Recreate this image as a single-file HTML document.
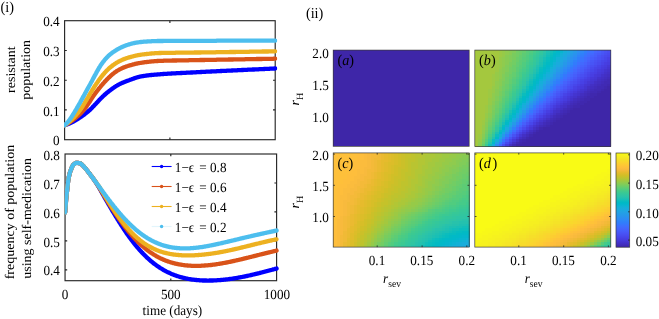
<!DOCTYPE html>
<html><head><meta charset="utf-8"><title>figure</title>
<style>html,body{margin:0;padding:0;background:#fff}svg{display:block}</style></head>
<body>
<svg width="659" height="319" viewBox="0 0 659 319" style="display:block;will-change:transform;font-family:'Liberation Serif',serif;font-size:14.0px" fill="#000" text-rendering="geometricPrecision">
<rect width="659" height="319" fill="#fff"/>
<g fill="none" stroke="#262626" stroke-width="1.15">
<rect x="64.6" y="20.7" width="210.6" height="119.0"/>
<rect x="65.05" y="154.0" width="211.55" height="126.7"/>
<path d="M64.6,109.9h2.2 M275.2,109.9h-2.2 M64.6,80.2h2.2 M275.2,80.2h-2.2 M64.6,50.5h2.2 M275.2,50.5h-2.2 M169.9,139.7v-2.2 M169.9,20.7v2.2 M170.8,280.7v-2.2 M170.8,154.0v2.2 M65.0,269.8h2.2 M276.6,269.8h-2.2 M65.0,240.9h2.2 M276.6,240.9h-2.2 M65.0,211.9h2.2 M276.6,211.9h-2.2 M65.0,183.0h2.2 M276.6,183.0h-2.2"/>
</g>
<defs><clipPath id="c1"><rect x="64.0" y="20.7" width="213.4" height="119.0"/></clipPath><clipPath id="c2"><rect x="64.5" y="154.0" width="214.4" height="130.7"/></clipPath></defs>
<g fill="none" stroke-linecap="round" stroke-linejoin="round" stroke-width="4.3">
<g clip-path="url(#c1)">
<path d="M64.6,125.2 L64.8,125.2 L65.0,125.1 L65.2,125.0 L65.4,125.0 L65.7,124.9 L65.9,124.8 L66.1,124.8 L66.3,124.7 L66.5,124.6 L66.7,124.6 L66.9,124.5 L67.1,124.4 L67.3,124.3 L67.5,124.3 L67.8,124.2 L68.0,124.1 L68.2,124.0 L68.4,123.9 L68.6,123.9 L68.8,123.8 L69.0,123.7 L69.2,123.6 L69.4,123.5 L69.7,123.4 L69.9,123.3 L70.1,123.2 L70.3,123.1 L70.5,123.0 L70.7,122.9 L70.9,122.8 L71.1,122.7 L71.3,122.6 L71.5,122.5 L71.8,122.4 L72.0,122.3 L72.2,122.2 L72.4,122.1 L72.6,122.0 L72.8,121.9 L73.0,121.7 L73.2,121.6 L73.4,121.5 L73.7,121.4 L73.9,121.3 L74.1,121.2 L74.3,121.0 L74.5,120.9 L74.7,120.8 L74.9,120.7 L75.1,120.5 L75.3,120.4 L75.6,120.3 L75.8,120.2 L76.0,120.0 L76.2,119.9 L76.4,119.8 L76.6,119.6 L76.8,119.5 L77.0,119.4 L77.2,119.3 L77.9,118.9 L78.5,118.5 L79.1,118.1 L79.8,117.6 L80.4,117.2 L81.0,116.8 L81.7,116.4 L82.3,115.9 L82.9,115.5 L83.6,115.0 L84.2,114.6 L84.8,114.1 L85.4,113.6 L86.1,113.1 L86.7,112.6 L87.3,112.1 L88.0,111.5 L88.6,111.0 L89.2,110.4 L89.9,109.9 L90.5,109.3 L91.1,108.7 L91.8,108.0 L92.4,107.4 L93.0,106.7 L93.7,106.1 L94.3,105.4 L94.9,104.7 L95.6,104.0 L96.2,103.4 L96.8,102.7 L97.5,102.0 L98.1,101.3 L98.7,100.7 L99.3,100.0 L100.0,99.3 L100.6,98.7 L101.2,98.1 L101.9,97.4 L102.5,96.8 L103.1,96.2 L103.8,95.6 L104.4,95.0 L105.0,94.5 L105.7,93.9 L106.3,93.4 L106.9,92.8 L107.6,92.3 L108.2,91.8 L108.8,91.3 L109.5,90.8 L110.1,90.3 L110.7,89.8 L111.4,89.4 L112.0,88.9 L112.6,88.5 L113.2,88.0 L113.9,87.6 L114.5,87.1 L115.1,86.7 L115.8,86.3 L116.4,85.9 L117.0,85.6 L117.7,85.2 L118.3,84.8 L118.9,84.5 L119.6,84.1 L120.2,83.8 L120.8,83.5 L121.5,83.2 L122.1,82.9 L122.7,82.7 L123.4,82.4 L124.0,82.2 L124.6,81.9 L125.3,81.7 L125.9,81.4 L126.5,81.2 L127.1,80.9 L127.8,80.7 L128.4,80.5 L129.0,80.2 L129.7,80.0 L130.3,79.8 L130.9,79.5 L131.6,79.3 L132.2,79.1 L132.8,78.8 L133.5,78.6 L134.1,78.4 L134.7,78.1 L135.4,77.9 L136.0,77.7 L136.6,77.5 L137.3,77.3 L137.9,77.2 L138.5,77.0 L139.2,76.8 L139.8,76.7 L140.4,76.5 L141.0,76.4 L141.7,76.3 L142.3,76.2 L142.9,76.1 L143.6,76.0 L144.2,75.9 L144.8,75.8 L145.5,75.7 L146.1,75.6 L146.7,75.5 L147.4,75.4 L148.0,75.4 L148.6,75.3 L149.3,75.2 L149.9,75.2 L150.5,75.1 L151.2,75.0 L151.8,75.0 L152.4,74.9 L153.1,74.8 L153.7,74.8 L154.3,74.7 L154.9,74.7 L155.6,74.6 L156.2,74.6 L156.8,74.5 L157.5,74.5 L158.1,74.4 L158.7,74.4 L159.4,74.3 L160.0,74.3 L160.6,74.2 L161.3,74.2 L161.9,74.1 L162.5,74.1 L163.2,74.0 L163.8,74.0 L164.4,73.9 L165.1,73.9 L165.7,73.9 L166.3,73.8 L167.0,73.8 L167.6,73.7 L168.2,73.7 L168.8,73.7 L169.5,73.6 L170.1,73.6 L170.7,73.6 L171.4,73.5 L172.0,73.5 L172.6,73.4 L173.3,73.4 L173.9,73.4 L174.5,73.3 L175.2,73.3 L175.8,73.3 L176.4,73.2 L177.1,73.2 L177.7,73.2 L178.3,73.2 L179.0,73.1 L179.6,73.1 L180.2,73.1 L180.9,73.0 L181.5,73.0 L182.1,73.0 L182.7,72.9 L183.4,72.9 L184.0,72.9 L184.6,72.8 L185.3,72.8 L185.9,72.8 L186.5,72.7 L187.2,72.7 L187.8,72.7 L188.4,72.7 L189.1,72.6 L189.7,72.6 L190.3,72.6 L191.0,72.5 L191.6,72.5 L192.2,72.5 L192.9,72.4 L193.5,72.4 L194.1,72.4 L194.8,72.3 L195.4,72.3 L196.0,72.3 L196.6,72.2 L197.3,72.2 L197.9,72.2 L198.5,72.1 L199.2,72.1 L199.8,72.1 L200.4,72.0 L201.1,72.0 L201.7,72.0 L202.3,71.9 L203.0,71.9 L203.6,71.9 L204.2,71.8 L204.9,71.8 L205.5,71.8 L206.1,71.7 L206.8,71.7 L207.4,71.7 L208.0,71.7 L208.7,71.6 L209.3,71.6 L209.9,71.6 L210.5,71.5 L211.2,71.5 L211.8,71.5 L212.4,71.4 L213.1,71.4 L213.7,71.4 L214.3,71.3 L215.0,71.3 L215.6,71.3 L216.2,71.3 L216.9,71.2 L217.5,71.2 L218.1,71.2 L218.8,71.1 L219.4,71.1 L220.0,71.1 L220.7,71.0 L221.3,71.0 L221.9,71.0 L222.5,70.9 L223.2,70.9 L223.8,70.9 L224.4,70.9 L225.1,70.8 L225.7,70.8 L226.3,70.8 L227.0,70.7 L227.6,70.7 L228.2,70.7 L228.9,70.6 L229.5,70.6 L230.1,70.6 L230.8,70.6 L231.4,70.5 L232.0,70.5 L232.7,70.5 L233.3,70.4 L233.9,70.4 L234.6,70.4 L235.2,70.3 L235.8,70.3 L236.4,70.3 L237.1,70.3 L237.7,70.2 L238.3,70.2 L239.0,70.2 L239.6,70.1 L240.2,70.1 L240.9,70.1 L241.5,70.0 L242.1,70.0 L242.8,70.0 L243.4,70.0 L244.0,69.9 L244.7,69.9 L245.3,69.9 L245.9,69.8 L246.6,69.8 L247.2,69.8 L247.8,69.7 L248.5,69.7 L249.1,69.7 L249.7,69.7 L250.3,69.6 L251.0,69.6 L251.6,69.6 L252.2,69.5 L252.9,69.5 L253.5,69.5 L254.1,69.5 L254.8,69.4 L255.4,69.4 L256.0,69.4 L256.7,69.3 L257.3,69.3 L257.9,69.3 L258.6,69.3 L259.2,69.2 L259.8,69.2 L260.5,69.2 L261.1,69.1 L261.7,69.1 L262.4,69.1 L263.0,69.1 L263.6,69.0 L264.2,69.0 L264.9,69.0 L265.5,68.9 L266.1,68.9 L266.8,68.9 L267.4,68.9 L268.0,68.8 L268.7,68.8 L269.3,68.8 L269.9,68.7 L270.6,68.7 L271.2,68.7 L271.8,68.7 L272.5,68.6 L273.1,68.6 L273.7,68.6 L274.4,68.5 L275.0,68.5 L275.2,68.5" stroke="#0000ff"/>
<path d="M64.6,125.2 L64.8,125.1 L65.0,125.0 L65.2,124.9 L65.4,124.8 L65.7,124.7 L65.9,124.5 L66.1,124.4 L66.3,124.3 L66.5,124.2 L66.7,124.1 L66.9,124.0 L67.1,123.8 L67.3,123.7 L67.5,123.6 L67.8,123.5 L68.0,123.4 L68.2,123.2 L68.4,123.1 L68.6,123.0 L68.8,122.8 L69.0,122.7 L69.2,122.6 L69.4,122.4 L69.7,122.3 L69.9,122.1 L70.1,122.0 L70.3,121.8 L70.5,121.7 L70.7,121.6 L70.9,121.4 L71.1,121.3 L71.3,121.1 L71.5,121.0 L71.8,120.8 L72.0,120.7 L72.2,120.5 L72.4,120.4 L72.6,120.2 L72.8,120.1 L73.0,119.9 L73.2,119.7 L73.4,119.6 L73.7,119.4 L73.9,119.3 L74.1,119.1 L74.3,118.9 L74.5,118.8 L74.7,118.6 L74.9,118.4 L75.1,118.3 L75.3,118.1 L75.6,117.9 L75.8,117.8 L76.0,117.6 L76.2,117.4 L76.4,117.2 L76.6,117.1 L76.8,116.9 L77.0,116.7 L77.2,116.5 L77.9,116.0 L78.5,115.4 L79.1,114.9 L79.8,114.3 L80.4,113.7 L81.0,113.0 L81.7,112.4 L82.3,111.7 L82.9,111.0 L83.6,110.3 L84.2,109.5 L84.8,108.7 L85.4,107.9 L86.1,107.1 L86.7,106.2 L87.3,105.2 L88.0,104.3 L88.6,103.3 L89.2,102.4 L89.9,101.4 L90.5,100.4 L91.1,99.4 L91.8,98.5 L92.4,97.5 L93.0,96.6 L93.7,95.6 L94.3,94.7 L94.9,93.9 L95.6,93.0 L96.2,92.1 L96.8,91.3 L97.5,90.5 L98.1,89.7 L98.7,88.9 L99.3,88.1 L100.0,87.3 L100.6,86.6 L101.2,85.8 L101.9,85.1 L102.5,84.4 L103.1,83.6 L103.8,82.9 L104.4,82.2 L105.0,81.5 L105.7,80.9 L106.3,80.2 L106.9,79.5 L107.6,78.9 L108.2,78.2 L108.8,77.6 L109.5,77.0 L110.1,76.4 L110.7,75.8 L111.4,75.3 L112.0,74.7 L112.6,74.2 L113.2,73.7 L113.9,73.2 L114.5,72.7 L115.1,72.2 L115.8,71.8 L116.4,71.3 L117.0,70.9 L117.7,70.5 L118.3,70.1 L118.9,69.8 L119.6,69.4 L120.2,69.1 L120.8,68.8 L121.5,68.5 L122.1,68.2 L122.7,67.9 L123.4,67.6 L124.0,67.4 L124.6,67.1 L125.3,66.9 L125.9,66.7 L126.5,66.4 L127.1,66.2 L127.8,66.0 L128.4,65.8 L129.0,65.6 L129.7,65.4 L130.3,65.2 L130.9,65.1 L131.6,64.9 L132.2,64.7 L132.8,64.5 L133.5,64.4 L134.1,64.2 L134.7,64.0 L135.4,63.9 L136.0,63.7 L136.6,63.6 L137.3,63.5 L137.9,63.3 L138.5,63.2 L139.2,63.1 L139.8,63.0 L140.4,62.9 L141.0,62.8 L141.7,62.7 L142.3,62.6 L142.9,62.5 L143.6,62.4 L144.2,62.3 L144.8,62.2 L145.5,62.1 L146.1,62.1 L146.7,62.0 L147.4,61.9 L148.0,61.8 L148.6,61.8 L149.3,61.7 L149.9,61.6 L150.5,61.6 L151.2,61.5 L151.8,61.4 L152.4,61.4 L153.1,61.3 L153.7,61.3 L154.3,61.2 L154.9,61.2 L155.6,61.1 L156.2,61.1 L156.8,61.0 L157.5,61.0 L158.1,61.0 L158.7,60.9 L159.4,60.9 L160.0,60.9 L160.6,60.9 L161.3,60.8 L161.9,60.8 L162.5,60.8 L163.2,60.8 L163.8,60.7 L164.4,60.7 L165.1,60.7 L165.7,60.7 L166.3,60.7 L167.0,60.7 L167.6,60.6 L168.2,60.6 L168.8,60.6 L169.5,60.6 L170.1,60.6 L170.7,60.6 L171.4,60.6 L172.0,60.5 L172.6,60.5 L173.3,60.5 L173.9,60.5 L174.5,60.5 L175.2,60.5 L175.8,60.5 L176.4,60.5 L177.1,60.4 L177.7,60.4 L178.3,60.4 L179.0,60.4 L179.6,60.4 L180.2,60.4 L180.9,60.4 L181.5,60.4 L182.1,60.4 L182.7,60.3 L183.4,60.3 L184.0,60.3 L184.6,60.3 L185.3,60.3 L185.9,60.3 L186.5,60.3 L187.2,60.3 L187.8,60.3 L188.4,60.3 L189.1,60.2 L189.7,60.2 L190.3,60.2 L191.0,60.2 L191.6,60.2 L192.2,60.2 L192.9,60.2 L193.5,60.2 L194.1,60.1 L194.8,60.1 L195.4,60.1 L196.0,60.1 L196.6,60.1 L197.3,60.1 L197.9,60.1 L198.5,60.1 L199.2,60.1 L199.8,60.0 L200.4,60.0 L201.1,60.0 L201.7,60.0 L202.3,60.0 L203.0,60.0 L203.6,60.0 L204.2,60.0 L204.9,60.0 L205.5,59.9 L206.1,59.9 L206.8,59.9 L207.4,59.9 L208.0,59.9 L208.7,59.9 L209.3,59.9 L209.9,59.9 L210.5,59.9 L211.2,59.8 L211.8,59.8 L212.4,59.8 L213.1,59.8 L213.7,59.8 L214.3,59.8 L215.0,59.8 L215.6,59.8 L216.2,59.8 L216.9,59.7 L217.5,59.7 L218.1,59.7 L218.8,59.7 L219.4,59.7 L220.0,59.7 L220.7,59.7 L221.3,59.7 L221.9,59.7 L222.5,59.6 L223.2,59.6 L223.8,59.6 L224.4,59.6 L225.1,59.6 L225.7,59.6 L226.3,59.6 L227.0,59.6 L227.6,59.6 L228.2,59.5 L228.9,59.5 L229.5,59.5 L230.1,59.5 L230.8,59.5 L231.4,59.5 L232.0,59.5 L232.7,59.5 L233.3,59.5 L233.9,59.4 L234.6,59.4 L235.2,59.4 L235.8,59.4 L236.4,59.4 L237.1,59.4 L237.7,59.4 L238.3,59.4 L239.0,59.4 L239.6,59.3 L240.2,59.3 L240.9,59.3 L241.5,59.3 L242.1,59.3 L242.8,59.3 L243.4,59.3 L244.0,59.3 L244.7,59.3 L245.3,59.2 L245.9,59.2 L246.6,59.2 L247.2,59.2 L247.8,59.2 L248.5,59.2 L249.1,59.2 L249.7,59.2 L250.3,59.2 L251.0,59.1 L251.6,59.1 L252.2,59.1 L252.9,59.1 L253.5,59.1 L254.1,59.1 L254.8,59.1 L255.4,59.1 L256.0,59.1 L256.7,59.0 L257.3,59.0 L257.9,59.0 L258.6,59.0 L259.2,59.0 L259.8,59.0 L260.5,59.0 L261.1,59.0 L261.7,59.0 L262.4,58.9 L263.0,58.9 L263.6,58.9 L264.2,58.9 L264.9,58.9 L265.5,58.9 L266.1,58.9 L266.8,58.9 L267.4,58.9 L268.0,58.8 L268.7,58.8 L269.3,58.8 L269.9,58.8 L270.6,58.8 L271.2,58.8 L271.8,58.8 L272.5,58.8 L273.1,58.8 L273.7,58.7 L274.4,58.7 L275.0,58.7 L275.2,58.7" stroke="#d95319"/>
<path d="M64.6,125.2 L64.8,125.1 L65.0,124.9 L65.2,124.8 L65.4,124.7 L65.7,124.5 L65.9,124.4 L66.1,124.2 L66.3,124.1 L66.5,123.9 L66.7,123.8 L66.9,123.6 L67.1,123.5 L67.3,123.3 L67.5,123.1 L67.8,123.0 L68.0,122.8 L68.2,122.7 L68.4,122.5 L68.6,122.3 L68.8,122.1 L69.0,122.0 L69.2,121.8 L69.4,121.6 L69.7,121.4 L69.9,121.2 L70.1,121.0 L70.3,120.9 L70.5,120.7 L70.7,120.5 L70.9,120.3 L71.1,120.1 L71.3,119.9 L71.5,119.7 L71.8,119.5 L72.0,119.3 L72.2,119.1 L72.4,118.9 L72.6,118.7 L72.8,118.5 L73.0,118.3 L73.2,118.1 L73.4,117.8 L73.7,117.6 L73.9,117.4 L74.1,117.2 L74.3,117.0 L74.5,116.7 L74.7,116.5 L74.9,116.3 L75.1,116.1 L75.3,115.8 L75.6,115.6 L75.8,115.4 L76.0,115.1 L76.2,114.9 L76.4,114.6 L76.6,114.4 L76.8,114.1 L77.0,113.9 L77.2,113.6 L77.9,112.9 L78.5,112.1 L79.1,111.3 L79.8,110.4 L80.4,109.6 L81.0,108.7 L81.7,107.7 L82.3,106.8 L82.9,105.8 L83.6,104.8 L84.2,103.7 L84.8,102.7 L85.4,101.6 L86.1,100.5 L86.7,99.4 L87.3,98.4 L88.0,97.3 L88.6,96.2 L89.2,95.1 L89.9,94.1 L90.5,93.0 L91.1,92.0 L91.8,91.0 L92.4,89.9 L93.0,88.9 L93.7,87.9 L94.3,86.9 L94.9,85.9 L95.6,85.0 L96.2,84.0 L96.8,83.1 L97.5,82.2 L98.1,81.3 L98.7,80.4 L99.3,79.5 L100.0,78.6 L100.6,77.8 L101.2,77.0 L101.9,76.2 L102.5,75.4 L103.1,74.6 L103.8,73.9 L104.4,73.1 L105.0,72.4 L105.7,71.7 L106.3,71.1 L106.9,70.4 L107.6,69.8 L108.2,69.2 L108.8,68.6 L109.5,68.1 L110.1,67.5 L110.7,67.0 L111.4,66.5 L112.0,66.0 L112.6,65.5 L113.2,65.0 L113.9,64.6 L114.5,64.1 L115.1,63.7 L115.8,63.3 L116.4,62.9 L117.0,62.5 L117.7,62.1 L118.3,61.8 L118.9,61.4 L119.6,61.1 L120.2,60.8 L120.8,60.5 L121.5,60.2 L122.1,59.9 L122.7,59.6 L123.4,59.4 L124.0,59.1 L124.6,58.9 L125.3,58.7 L125.9,58.4 L126.5,58.2 L127.1,58.0 L127.8,57.8 L128.4,57.6 L129.0,57.4 L129.7,57.2 L130.3,57.1 L130.9,56.9 L131.6,56.7 L132.2,56.5 L132.8,56.4 L133.5,56.2 L134.1,56.0 L134.7,55.9 L135.4,55.7 L136.0,55.6 L136.6,55.5 L137.3,55.3 L137.9,55.2 L138.5,55.1 L139.2,55.0 L139.8,54.9 L140.4,54.8 L141.0,54.7 L141.7,54.6 L142.3,54.5 L142.9,54.4 L143.6,54.3 L144.2,54.3 L144.8,54.2 L145.5,54.1 L146.1,54.0 L146.7,54.0 L147.4,53.9 L148.0,53.8 L148.6,53.8 L149.3,53.7 L149.9,53.6 L150.5,53.6 L151.2,53.5 L151.8,53.5 L152.4,53.4 L153.1,53.4 L153.7,53.3 L154.3,53.3 L154.9,53.2 L155.6,53.2 L156.2,53.2 L156.8,53.1 L157.5,53.1 L158.1,53.1 L158.7,53.0 L159.4,53.0 L160.0,53.0 L160.6,53.0 L161.3,53.0 L161.9,52.9 L162.5,52.9 L163.2,52.9 L163.8,52.9 L164.4,52.9 L165.1,52.9 L165.7,52.9 L166.3,52.9 L167.0,52.9 L167.6,52.8 L168.2,52.8 L168.8,52.8 L169.5,52.8 L170.1,52.8 L170.7,52.8 L171.4,52.8 L172.0,52.8 L172.6,52.8 L173.3,52.8 L173.9,52.8 L174.5,52.8 L175.2,52.8 L175.8,52.7 L176.4,52.7 L177.1,52.7 L177.7,52.7 L178.3,52.7 L179.0,52.7 L179.6,52.7 L180.2,52.7 L180.9,52.7 L181.5,52.7 L182.1,52.7 L182.7,52.7 L183.4,52.7 L184.0,52.7 L184.6,52.7 L185.3,52.7 L185.9,52.6 L186.5,52.6 L187.2,52.6 L187.8,52.6 L188.4,52.6 L189.1,52.6 L189.7,52.6 L190.3,52.6 L191.0,52.6 L191.6,52.6 L192.2,52.6 L192.9,52.6 L193.5,52.6 L194.1,52.5 L194.8,52.5 L195.4,52.5 L196.0,52.5 L196.6,52.5 L197.3,52.5 L197.9,52.5 L198.5,52.5 L199.2,52.5 L199.8,52.5 L200.4,52.5 L201.1,52.5 L201.7,52.4 L202.3,52.4 L203.0,52.4 L203.6,52.4 L204.2,52.4 L204.9,52.4 L205.5,52.4 L206.1,52.4 L206.8,52.4 L207.4,52.4 L208.0,52.4 L208.7,52.4 L209.3,52.3 L209.9,52.3 L210.5,52.3 L211.2,52.3 L211.8,52.3 L212.4,52.3 L213.1,52.3 L213.7,52.3 L214.3,52.3 L215.0,52.3 L215.6,52.3 L216.2,52.2 L216.9,52.2 L217.5,52.2 L218.1,52.2 L218.8,52.2 L219.4,52.2 L220.0,52.2 L220.7,52.2 L221.3,52.2 L221.9,52.2 L222.5,52.2 L223.2,52.1 L223.8,52.1 L224.4,52.1 L225.1,52.1 L225.7,52.1 L226.3,52.1 L227.0,52.1 L227.6,52.1 L228.2,52.1 L228.9,52.1 L229.5,52.0 L230.1,52.0 L230.8,52.0 L231.4,52.0 L232.0,52.0 L232.7,52.0 L233.3,52.0 L233.9,52.0 L234.6,52.0 L235.2,52.0 L235.8,52.0 L236.4,51.9 L237.1,51.9 L237.7,51.9 L238.3,51.9 L239.0,51.9 L239.6,51.9 L240.2,51.9 L240.9,51.9 L241.5,51.9 L242.1,51.9 L242.8,51.9 L243.4,51.8 L244.0,51.8 L244.7,51.8 L245.3,51.8 L245.9,51.8 L246.6,51.8 L247.2,51.8 L247.8,51.8 L248.5,51.8 L249.1,51.8 L249.7,51.7 L250.3,51.7 L251.0,51.7 L251.6,51.7 L252.2,51.7 L252.9,51.7 L253.5,51.7 L254.1,51.7 L254.8,51.7 L255.4,51.7 L256.0,51.6 L256.7,51.6 L257.3,51.6 L257.9,51.6 L258.6,51.6 L259.2,51.6 L259.8,51.6 L260.5,51.6 L261.1,51.6 L261.7,51.6 L262.4,51.5 L263.0,51.5 L263.6,51.5 L264.2,51.5 L264.9,51.5 L265.5,51.5 L266.1,51.5 L266.8,51.5 L267.4,51.5 L268.0,51.5 L268.7,51.4 L269.3,51.4 L269.9,51.4 L270.6,51.4 L271.2,51.4 L271.8,51.4 L272.5,51.4 L273.1,51.4 L273.7,51.4 L274.4,51.4 L275.0,51.3 L275.2,51.3" stroke="#edb120"/>
<path d="M64.6,125.2 L64.8,125.0 L65.0,124.8 L65.2,124.6 L65.4,124.4 L65.7,124.2 L65.9,124.0 L66.1,123.8 L66.3,123.6 L66.5,123.4 L66.7,123.2 L66.9,123.0 L67.1,122.7 L67.3,122.5 L67.5,122.3 L67.8,122.0 L68.0,121.8 L68.2,121.5 L68.4,121.3 L68.6,121.0 L68.8,120.8 L69.0,120.5 L69.2,120.2 L69.4,120.0 L69.7,119.7 L69.9,119.4 L70.1,119.1 L70.3,118.8 L70.5,118.5 L70.7,118.2 L70.9,117.9 L71.1,117.6 L71.3,117.3 L71.5,117.0 L71.8,116.7 L72.0,116.3 L72.2,116.0 L72.4,115.7 L72.6,115.3 L72.8,115.0 L73.0,114.6 L73.2,114.3 L73.4,114.0 L73.7,113.6 L73.9,113.3 L74.1,112.9 L74.3,112.6 L74.5,112.2 L74.7,111.9 L74.9,111.5 L75.1,111.2 L75.3,110.8 L75.6,110.4 L75.8,110.1 L76.0,109.7 L76.2,109.4 L76.4,109.0 L76.6,108.6 L76.8,108.3 L77.0,107.9 L77.2,107.5 L77.9,106.4 L78.5,105.3 L79.1,104.2 L79.8,103.1 L80.4,102.0 L81.0,100.8 L81.7,99.7 L82.3,98.5 L82.9,97.4 L83.6,96.2 L84.2,95.1 L84.8,94.0 L85.4,92.8 L86.1,91.7 L86.7,90.5 L87.3,89.4 L88.0,88.2 L88.6,87.1 L89.2,85.9 L89.9,84.8 L90.5,83.6 L91.1,82.4 L91.8,81.3 L92.4,80.1 L93.0,78.9 L93.7,77.7 L94.3,76.5 L94.9,75.3 L95.6,74.1 L96.2,73.0 L96.8,71.8 L97.5,70.7 L98.1,69.6 L98.7,68.5 L99.3,67.4 L100.0,66.4 L100.6,65.4 L101.2,64.5 L101.9,63.6 L102.5,62.7 L103.1,61.9 L103.8,61.1 L104.4,60.3 L105.0,59.5 L105.7,58.8 L106.3,58.1 L106.9,57.4 L107.6,56.8 L108.2,56.1 L108.8,55.5 L109.5,55.0 L110.1,54.4 L110.7,53.9 L111.4,53.4 L112.0,52.9 L112.6,52.5 L113.2,52.0 L113.9,51.6 L114.5,51.2 L115.1,50.8 L115.8,50.4 L116.4,50.0 L117.0,49.6 L117.7,49.3 L118.3,48.9 L118.9,48.6 L119.6,48.3 L120.2,47.9 L120.8,47.6 L121.5,47.3 L122.1,47.0 L122.7,46.7 L123.4,46.4 L124.0,46.2 L124.6,45.9 L125.3,45.7 L125.9,45.4 L126.5,45.2 L127.1,45.0 L127.8,44.8 L128.4,44.6 L129.0,44.4 L129.7,44.2 L130.3,44.0 L130.9,43.8 L131.6,43.7 L132.2,43.5 L132.8,43.3 L133.5,43.2 L134.1,43.1 L134.7,42.9 L135.4,42.8 L136.0,42.7 L136.6,42.6 L137.3,42.5 L137.9,42.4 L138.5,42.3 L139.2,42.2 L139.8,42.1 L140.4,42.0 L141.0,42.0 L141.7,41.9 L142.3,41.8 L142.9,41.8 L143.6,41.7 L144.2,41.7 L144.8,41.6 L145.5,41.6 L146.1,41.6 L146.7,41.5 L147.4,41.5 L148.0,41.4 L148.6,41.4 L149.3,41.4 L149.9,41.3 L150.5,41.3 L151.2,41.3 L151.8,41.2 L152.4,41.2 L153.1,41.2 L153.7,41.2 L154.3,41.1 L154.9,41.1 L155.6,41.1 L156.2,41.1 L156.8,41.1 L157.5,41.0 L158.1,41.0 L158.7,41.0 L159.4,41.0 L160.0,41.0 L160.6,41.0 L161.3,41.0 L161.9,41.0 L162.5,41.0 L163.2,41.0 L163.8,40.9 L164.4,40.9 L165.1,40.9 L165.7,40.9 L166.3,40.9 L167.0,40.9 L167.6,40.9 L168.2,40.9 L168.8,40.9 L169.5,40.9 L170.1,40.9 L170.7,40.9 L171.4,40.9 L172.0,40.9 L172.6,40.9 L173.3,40.9 L173.9,40.9 L174.5,40.9 L175.2,40.8 L175.8,40.8 L176.4,40.8 L177.1,40.8 L177.7,40.8 L178.3,40.8 L179.0,40.8 L179.6,40.8 L180.2,40.8 L180.9,40.8 L181.5,40.8 L182.1,40.8 L182.7,40.8 L183.4,40.8 L184.0,40.8 L184.6,40.8 L185.3,40.8 L185.9,40.8 L186.5,40.8 L187.2,40.8 L187.8,40.8 L188.4,40.8 L189.1,40.8 L189.7,40.8 L190.3,40.8 L191.0,40.8 L191.6,40.8 L192.2,40.8 L192.9,40.8 L193.5,40.8 L194.1,40.8 L194.8,40.8 L195.4,40.8 L196.0,40.8 L196.6,40.8 L197.3,40.8 L197.9,40.8 L198.5,40.8 L199.2,40.8 L199.8,40.8 L200.4,40.8 L201.1,40.8 L201.7,40.8 L202.3,40.8 L203.0,40.8 L203.6,40.8 L204.2,40.8 L204.9,40.8 L205.5,40.8 L206.1,40.8 L206.8,40.8 L207.4,40.8 L208.0,40.8 L208.7,40.8 L209.3,40.8 L209.9,40.8 L210.5,40.8 L211.2,40.8 L211.8,40.8 L212.4,40.8 L213.1,40.8 L213.7,40.8 L214.3,40.8 L215.0,40.8 L215.6,40.8 L216.2,40.8 L216.9,40.7 L217.5,40.7 L218.1,40.7 L218.8,40.7 L219.4,40.7 L220.0,40.7 L220.7,40.7 L221.3,40.7 L221.9,40.7 L222.5,40.7 L223.2,40.7 L223.8,40.7 L224.4,40.7 L225.1,40.7 L225.7,40.7 L226.3,40.7 L227.0,40.7 L227.6,40.7 L228.2,40.7 L228.9,40.7 L229.5,40.7 L230.1,40.7 L230.8,40.7 L231.4,40.7 L232.0,40.7 L232.7,40.7 L233.3,40.7 L233.9,40.7 L234.6,40.7 L235.2,40.7 L235.8,40.7 L236.4,40.7 L237.1,40.7 L237.7,40.7 L238.3,40.7 L239.0,40.7 L239.6,40.7 L240.2,40.7 L240.9,40.7 L241.5,40.7 L242.1,40.7 L242.8,40.7 L243.4,40.7 L244.0,40.7 L244.7,40.7 L245.3,40.7 L245.9,40.7 L246.6,40.7 L247.2,40.7 L247.8,40.7 L248.5,40.7 L249.1,40.7 L249.7,40.7 L250.3,40.7 L251.0,40.7 L251.6,40.7 L252.2,40.7 L252.9,40.7 L253.5,40.7 L254.1,40.7 L254.8,40.7 L255.4,40.7 L256.0,40.7 L256.7,40.7 L257.3,40.7 L257.9,40.7 L258.6,40.7 L259.2,40.7 L259.8,40.7 L260.5,40.7 L261.1,40.7 L261.7,40.7 L262.4,40.7 L263.0,40.7 L263.6,40.7 L264.2,40.7 L264.9,40.7 L265.5,40.7 L266.1,40.7 L266.8,40.7 L267.4,40.7 L268.0,40.7 L268.7,40.7 L269.3,40.7 L269.9,40.7 L270.6,40.7 L271.2,40.7 L271.8,40.7 L272.5,40.7 L273.1,40.7 L273.7,40.7 L274.4,40.7 L275.0,40.7 L275.2,40.7" stroke="#4dbeee"/>
</g><g clip-path="url(#c2)">
<path d="M65.0,212.5 L65.3,209.8 L65.5,207.2 L65.7,204.6 L65.9,202.2 L66.1,199.8 L66.3,197.6 L66.5,195.5 L66.7,193.4 L67.0,191.5 L67.2,189.5 L67.4,187.6 L67.6,185.7 L67.8,183.9 L68.0,182.2 L68.2,180.7 L68.4,179.2 L68.6,178.0 L68.9,176.9 L69.1,175.9 L69.3,175.0 L69.5,174.2 L69.7,173.4 L69.9,172.7 L70.1,172.0 L70.3,171.4 L70.6,170.7 L70.8,170.2 L71.0,169.6 L71.2,169.1 L71.4,168.5 L71.6,168.0 L71.8,167.5 L72.0,167.0 L72.2,166.5 L72.5,166.1 L72.7,165.7 L72.9,165.4 L73.1,165.1 L73.3,164.8 L73.5,164.6 L73.7,164.4 L73.9,164.2 L74.1,164.1 L74.4,163.9 L74.6,163.7 L74.8,163.6 L75.0,163.4 L75.2,163.3 L75.4,163.2 L75.6,163.1 L75.8,163.0 L76.1,162.9 L76.3,162.9 L76.5,162.9 L76.7,162.9 L76.9,162.9 L77.1,162.9 L77.3,162.9 L77.5,162.9 L77.7,162.9 L78.4,163.0 L79.0,163.1 L79.6,163.2 L80.3,163.4 L80.9,163.8 L81.6,164.3 L82.2,164.9 L82.8,165.5 L83.5,166.2 L84.1,166.9 L84.7,167.6 L85.4,168.3 L86.0,169.0 L86.6,169.8 L87.3,170.6 L87.9,171.5 L88.5,172.3 L89.2,173.1 L89.8,173.9 L90.4,174.8 L91.1,175.6 L91.7,176.5 L92.3,177.3 L93.0,178.2 L93.6,179.1 L94.2,180.0 L94.9,180.9 L95.5,181.8 L96.1,182.8 L96.8,183.8 L97.4,184.8 L98.1,185.9 L98.7,187.0 L99.3,188.0 L100.0,189.1 L100.6,190.3 L101.2,191.4 L101.9,192.5 L102.5,193.7 L103.1,194.8 L103.8,195.9 L104.4,197.1 L105.0,198.2 L105.7,199.3 L106.3,200.3 L106.9,201.4 L107.6,202.5 L108.2,203.6 L108.8,204.7 L109.5,205.8 L110.1,206.9 L110.7,207.9 L111.4,209.0 L112.0,210.1 L112.6,211.2 L113.3,212.2 L113.9,213.3 L114.6,214.4 L115.2,215.4 L115.8,216.5 L116.5,217.5 L117.1,218.5 L117.7,219.6 L118.4,220.6 L119.0,221.6 L119.6,222.6 L120.3,223.6 L120.9,224.6 L121.5,225.6 L122.2,226.6 L122.8,227.5 L123.4,228.5 L124.1,229.5 L124.7,230.4 L125.3,231.3 L126.0,232.3 L126.6,233.2 L127.2,234.1 L127.9,235.0 L128.5,235.9 L129.1,236.8 L129.8,237.6 L130.4,238.5 L131.1,239.4 L131.7,240.2 L132.3,241.0 L133.0,241.9 L133.6,242.7 L134.2,243.5 L134.9,244.3 L135.5,245.1 L136.1,245.8 L136.8,246.6 L137.4,247.4 L138.0,248.1 L138.7,248.8 L139.3,249.6 L139.9,250.3 L140.6,251.0 L141.2,251.7 L141.8,252.4 L142.5,253.0 L143.1,253.7 L143.7,254.3 L144.4,255.0 L145.0,255.6 L145.7,256.2 L146.3,256.9 L146.9,257.5 L147.6,258.1 L148.2,258.6 L148.8,259.2 L149.5,259.8 L150.1,260.3 L150.7,260.9 L151.4,261.4 L152.0,261.9 L152.6,262.5 L153.3,263.0 L153.9,263.5 L154.5,264.0 L155.2,264.4 L155.8,264.9 L156.4,265.4 L157.1,265.8 L157.7,266.3 L158.3,266.7 L159.0,267.1 L159.6,267.5 L160.2,268.0 L160.9,268.4 L161.5,268.7 L162.2,269.1 L162.8,269.5 L163.4,269.9 L164.1,270.2 L164.7,270.6 L165.3,270.9 L166.0,271.3 L166.6,271.6 L167.2,271.9 L167.9,272.2 L168.5,272.5 L169.1,272.8 L169.8,273.1 L170.4,273.4 L171.0,273.7 L171.7,274.0 L172.3,274.2 L172.9,274.5 L173.6,274.7 L174.2,275.0 L174.8,275.2 L175.5,275.4 L176.1,275.7 L176.7,275.9 L177.4,276.1 L178.0,276.3 L178.7,276.5 L179.3,276.7 L179.9,276.9 L180.6,277.1 L181.2,277.3 L181.8,277.4 L182.5,277.6 L183.1,277.8 L183.7,277.9 L184.4,278.1 L185.0,278.2 L185.6,278.3 L186.3,278.5 L186.9,278.6 L187.5,278.7 L188.2,278.9 L188.8,279.0 L189.4,279.1 L190.1,279.2 L190.7,279.3 L191.3,279.4 L192.0,279.5 L192.6,279.6 L193.2,279.7 L193.9,279.7 L194.5,279.8 L195.2,279.9 L195.8,280.0 L196.4,280.0 L197.1,280.1 L197.7,280.1 L198.3,280.2 L199.0,280.2 L199.6,280.3 L200.2,280.3 L200.9,280.4 L201.5,280.4 L202.1,280.4 L202.8,280.5 L203.4,280.5 L204.0,280.5 L204.7,280.5 L205.3,280.5 L205.9,280.5 L206.6,280.5 L207.2,280.6 L207.8,280.6 L208.5,280.6 L209.1,280.5 L209.8,280.5 L210.4,280.5 L211.0,280.5 L211.7,280.5 L212.3,280.5 L212.9,280.5 L213.6,280.4 L214.2,280.4 L214.8,280.4 L215.5,280.4 L216.1,280.3 L216.7,280.3 L217.4,280.2 L218.0,280.2 L218.6,280.2 L219.3,280.1 L219.9,280.1 L220.5,280.0 L221.2,280.0 L221.8,279.9 L222.4,279.8 L223.1,279.8 L223.7,279.7 L224.3,279.6 L225.0,279.6 L225.6,279.5 L226.3,279.4 L226.9,279.4 L227.5,279.3 L228.2,279.2 L228.8,279.1 L229.4,279.0 L230.1,279.0 L230.7,278.9 L231.3,278.8 L232.0,278.7 L232.6,278.6 L233.2,278.5 L233.9,278.4 L234.5,278.3 L235.1,278.2 L235.8,278.1 L236.4,278.0 L237.0,277.9 L237.7,277.8 L238.3,277.7 L238.9,277.5 L239.6,277.4 L240.2,277.3 L240.8,277.2 L241.5,277.1 L242.1,277.0 L242.8,276.8 L243.4,276.7 L244.0,276.6 L244.7,276.5 L245.3,276.3 L245.9,276.2 L246.6,276.1 L247.2,275.9 L247.8,275.8 L248.5,275.6 L249.1,275.5 L249.7,275.4 L250.4,275.2 L251.0,275.1 L251.6,274.9 L252.3,274.8 L252.9,274.6 L253.5,274.5 L254.2,274.3 L254.8,274.2 L255.4,274.0 L256.1,273.9 L256.7,273.7 L257.3,273.6 L258.0,273.4 L258.6,273.3 L259.3,273.1 L259.9,272.9 L260.5,272.8 L261.2,272.6 L261.8,272.5 L262.4,272.3 L263.1,272.1 L263.7,272.0 L264.3,271.8 L265.0,271.6 L265.6,271.5 L266.2,271.3 L266.9,271.1 L267.5,271.0 L268.1,270.8 L268.8,270.6 L269.4,270.5 L270.0,270.3 L270.7,270.1 L271.3,270.0 L271.9,269.8 L272.6,269.6 L273.2,269.4 L273.8,269.3 L274.5,269.1 L275.1,268.9 L275.8,268.8 L276.4,268.6 L276.6,268.5" stroke="#0000ff"/>
<path d="M65.0,212.5 L65.3,209.8 L65.5,207.2 L65.7,204.6 L65.9,202.2 L66.1,199.8 L66.3,197.6 L66.5,195.5 L66.7,193.4 L67.0,191.5 L67.2,189.5 L67.4,187.6 L67.6,185.7 L67.8,183.9 L68.0,182.2 L68.2,180.7 L68.4,179.2 L68.6,178.0 L68.9,176.9 L69.1,175.9 L69.3,175.0 L69.5,174.2 L69.7,173.4 L69.9,172.7 L70.1,172.0 L70.3,171.4 L70.6,170.7 L70.8,170.2 L71.0,169.6 L71.2,169.1 L71.4,168.5 L71.6,168.0 L71.8,167.5 L72.0,167.0 L72.2,166.5 L72.5,166.1 L72.7,165.7 L72.9,165.4 L73.1,165.1 L73.3,164.8 L73.5,164.6 L73.7,164.4 L73.9,164.2 L74.1,164.1 L74.4,163.9 L74.6,163.7 L74.8,163.6 L75.0,163.4 L75.2,163.3 L75.4,163.2 L75.6,163.1 L75.8,163.0 L76.1,162.9 L76.3,162.9 L76.5,162.9 L76.7,162.9 L76.9,162.9 L77.1,162.9 L77.3,162.9 L77.5,162.9 L77.7,162.9 L78.4,163.0 L79.0,163.1 L79.6,163.2 L80.3,163.4 L80.9,163.8 L81.6,164.3 L82.2,164.9 L82.8,165.5 L83.5,166.2 L84.1,166.9 L84.7,167.6 L85.4,168.3 L86.0,169.0 L86.6,169.8 L87.3,170.6 L87.9,171.5 L88.5,172.3 L89.2,173.1 L89.8,173.9 L90.4,174.8 L91.1,175.6 L91.7,176.5 L92.3,177.3 L93.0,178.2 L93.6,179.1 L94.2,179.9 L94.9,180.8 L95.5,181.8 L96.1,182.7 L96.8,183.7 L97.4,184.7 L98.1,185.7 L98.7,186.7 L99.3,187.7 L100.0,188.8 L100.6,189.8 L101.2,190.9 L101.9,191.9 L102.5,193.0 L103.1,194.0 L103.8,195.1 L104.4,196.2 L105.0,197.2 L105.7,198.2 L106.3,199.2 L106.9,200.3 L107.6,201.3 L108.2,202.3 L108.8,203.3 L109.5,204.3 L110.1,205.3 L110.7,206.3 L111.4,207.3 L112.0,208.3 L112.6,209.3 L113.3,210.2 L113.9,211.2 L114.6,212.2 L115.2,213.1 L115.8,214.1 L116.5,215.0 L117.1,216.0 L117.7,216.9 L118.4,217.8 L119.0,218.7 L119.6,219.6 L120.3,220.5 L120.9,221.4 L121.5,222.3 L122.2,223.2 L122.8,224.0 L123.4,224.9 L124.1,225.7 L124.7,226.6 L125.3,227.4 L126.0,228.2 L126.6,229.0 L127.2,229.8 L127.9,230.6 L128.5,231.4 L129.1,232.2 L129.8,232.9 L130.4,233.7 L131.1,234.4 L131.7,235.2 L132.3,235.9 L133.0,236.6 L133.6,237.3 L134.2,238.0 L134.9,238.7 L135.5,239.4 L136.1,240.0 L136.8,240.7 L137.4,241.3 L138.0,242.0 L138.7,242.6 L139.3,243.2 L139.9,243.8 L140.6,244.4 L141.2,245.0 L141.8,245.5 L142.5,246.1 L143.1,246.7 L143.7,247.2 L144.4,247.7 L145.0,248.3 L145.7,248.8 L146.3,249.3 L146.9,249.8 L147.6,250.3 L148.2,250.8 L148.8,251.2 L149.5,251.7 L150.1,252.1 L150.7,252.6 L151.4,253.0 L152.0,253.4 L152.6,253.8 L153.3,254.3 L153.9,254.6 L154.5,255.0 L155.2,255.4 L155.8,255.8 L156.4,256.2 L157.1,256.5 L157.7,256.9 L158.3,257.2 L159.0,257.5 L159.6,257.9 L160.2,258.2 L160.9,258.5 L161.5,258.8 L162.2,259.1 L162.8,259.4 L163.4,259.6 L164.1,259.9 L164.7,260.2 L165.3,260.4 L166.0,260.7 L166.6,260.9 L167.2,261.2 L167.9,261.4 L168.5,261.6 L169.1,261.8 L169.8,262.0 L170.4,262.2 L171.0,262.4 L171.7,262.6 L172.3,262.8 L172.9,263.0 L173.6,263.1 L174.2,263.3 L174.8,263.5 L175.5,263.6 L176.1,263.8 L176.7,263.9 L177.4,264.0 L178.0,264.2 L178.7,264.3 L179.3,264.4 L179.9,264.5 L180.6,264.6 L181.2,264.7 L181.8,264.8 L182.5,264.9 L183.1,265.0 L183.7,265.1 L184.4,265.2 L185.0,265.3 L185.6,265.3 L186.3,265.4 L186.9,265.5 L187.5,265.5 L188.2,265.6 L188.8,265.6 L189.4,265.7 L190.1,265.7 L190.7,265.7 L191.3,265.8 L192.0,265.8 L192.6,265.8 L193.2,265.8 L193.9,265.8 L194.5,265.9 L195.2,265.9 L195.8,265.9 L196.4,265.9 L197.1,265.9 L197.7,265.8 L198.3,265.8 L199.0,265.8 L199.6,265.8 L200.2,265.8 L200.9,265.8 L201.5,265.7 L202.1,265.7 L202.8,265.7 L203.4,265.6 L204.0,265.6 L204.7,265.5 L205.3,265.5 L205.9,265.4 L206.6,265.4 L207.2,265.3 L207.8,265.3 L208.5,265.2 L209.1,265.2 L209.8,265.1 L210.4,265.0 L211.0,265.0 L211.7,264.9 L212.3,264.8 L212.9,264.7 L213.6,264.6 L214.2,264.6 L214.8,264.5 L215.5,264.4 L216.1,264.3 L216.7,264.2 L217.4,264.1 L218.0,264.0 L218.6,263.9 L219.3,263.8 L219.9,263.7 L220.5,263.6 L221.2,263.5 L221.8,263.4 L222.4,263.3 L223.1,263.1 L223.7,263.0 L224.3,262.9 L225.0,262.8 L225.6,262.7 L226.3,262.6 L226.9,262.4 L227.5,262.3 L228.2,262.2 L228.8,262.0 L229.4,261.9 L230.1,261.8 L230.7,261.7 L231.3,261.5 L232.0,261.4 L232.6,261.2 L233.2,261.1 L233.9,261.0 L234.5,260.8 L235.1,260.7 L235.8,260.5 L236.4,260.4 L237.0,260.2 L237.7,260.1 L238.3,260.0 L238.9,259.8 L239.6,259.7 L240.2,259.5 L240.8,259.4 L241.5,259.2 L242.1,259.1 L242.8,258.9 L243.4,258.7 L244.0,258.6 L244.7,258.4 L245.3,258.3 L245.9,258.1 L246.6,258.0 L247.2,257.8 L247.8,257.7 L248.5,257.5 L249.1,257.3 L249.7,257.2 L250.4,257.0 L251.0,256.9 L251.6,256.7 L252.3,256.5 L252.9,256.4 L253.5,256.2 L254.2,256.1 L254.8,255.9 L255.4,255.8 L256.1,255.6 L256.7,255.4 L257.3,255.3 L258.0,255.1 L258.6,255.0 L259.3,254.8 L259.9,254.6 L260.5,254.5 L261.2,254.3 L261.8,254.2 L262.4,254.0 L263.1,253.9 L263.7,253.7 L264.3,253.5 L265.0,253.4 L265.6,253.2 L266.2,253.1 L266.9,252.9 L267.5,252.8 L268.1,252.6 L268.8,252.5 L269.4,252.3 L270.0,252.2 L270.7,252.0 L271.3,251.9 L271.9,251.7 L272.6,251.5 L273.2,251.4 L273.8,251.2 L274.5,251.1 L275.1,251.0 L275.8,250.8 L276.4,250.7 L276.6,250.6" stroke="#d95319"/>
<path d="M65.0,212.5 L65.3,209.8 L65.5,207.2 L65.7,204.6 L65.9,202.2 L66.1,199.8 L66.3,197.6 L66.5,195.5 L66.7,193.4 L67.0,191.5 L67.2,189.5 L67.4,187.6 L67.6,185.7 L67.8,183.9 L68.0,182.2 L68.2,180.7 L68.4,179.2 L68.6,178.0 L68.9,176.9 L69.1,175.9 L69.3,175.0 L69.5,174.2 L69.7,173.4 L69.9,172.7 L70.1,172.0 L70.3,171.4 L70.6,170.7 L70.8,170.2 L71.0,169.6 L71.2,169.1 L71.4,168.5 L71.6,168.0 L71.8,167.5 L72.0,167.0 L72.2,166.5 L72.5,166.1 L72.7,165.7 L72.9,165.4 L73.1,165.1 L73.3,164.8 L73.5,164.6 L73.7,164.4 L73.9,164.2 L74.1,164.1 L74.4,163.9 L74.6,163.7 L74.8,163.6 L75.0,163.4 L75.2,163.3 L75.4,163.2 L75.6,163.1 L75.8,163.0 L76.1,162.9 L76.3,162.9 L76.5,162.9 L76.7,162.9 L76.9,162.9 L77.1,162.9 L77.3,162.9 L77.5,162.9 L77.7,162.9 L78.4,163.0 L79.0,163.1 L79.6,163.2 L80.3,163.4 L80.9,163.8 L81.6,164.3 L82.2,164.9 L82.8,165.5 L83.5,166.2 L84.1,166.9 L84.7,167.6 L85.4,168.3 L86.0,169.0 L86.6,169.8 L87.3,170.6 L87.9,171.5 L88.5,172.3 L89.2,173.1 L89.8,173.9 L90.4,174.8 L91.1,175.6 L91.7,176.4 L92.3,177.3 L93.0,178.1 L93.6,179.0 L94.2,179.8 L94.9,180.7 L95.5,181.5 L96.1,182.4 L96.8,183.3 L97.4,184.2 L98.1,185.1 L98.7,186.0 L99.3,187.0 L100.0,187.9 L100.6,188.9 L101.2,189.9 L101.9,190.9 L102.5,192.0 L103.1,193.0 L103.8,194.0 L104.4,195.1 L105.0,196.1 L105.7,197.1 L106.3,198.1 L106.9,199.1 L107.6,200.1 L108.2,201.1 L108.8,202.1 L109.5,203.1 L110.1,204.1 L110.7,205.1 L111.4,206.1 L112.0,207.1 L112.6,208.0 L113.3,209.0 L113.9,209.9 L114.6,210.9 L115.2,211.8 L115.8,212.7 L116.5,213.7 L117.1,214.6 L117.7,215.5 L118.4,216.4 L119.0,217.3 L119.6,218.1 L120.3,219.0 L120.9,219.8 L121.5,220.7 L122.2,221.5 L122.8,222.3 L123.4,223.1 L124.1,223.9 L124.7,224.7 L125.3,225.5 L126.0,226.3 L126.6,227.0 L127.2,227.8 L127.9,228.5 L128.5,229.2 L129.1,229.9 L129.8,230.6 L130.4,231.3 L131.1,232.0 L131.7,232.6 L132.3,233.3 L133.0,233.9 L133.6,234.5 L134.2,235.2 L134.9,235.8 L135.5,236.4 L136.1,236.9 L136.8,237.5 L137.4,238.1 L138.0,238.6 L138.7,239.1 L139.3,239.7 L139.9,240.2 L140.6,240.7 L141.2,241.2 L141.8,241.7 L142.5,242.1 L143.1,242.6 L143.7,243.0 L144.4,243.5 L145.0,243.9 L145.7,244.3 L146.3,244.7 L146.9,245.1 L147.6,245.5 L148.2,245.9 L148.8,246.3 L149.5,246.6 L150.1,247.0 L150.7,247.3 L151.4,247.6 L152.0,248.0 L152.6,248.3 L153.3,248.6 L153.9,248.9 L154.5,249.2 L155.2,249.4 L155.8,249.7 L156.4,250.0 L157.1,250.2 L157.7,250.5 L158.3,250.7 L159.0,251.0 L159.6,251.2 L160.2,251.4 L160.9,251.6 L161.5,251.8 L162.2,252.0 L162.8,252.2 L163.4,252.4 L164.1,252.6 L164.7,252.7 L165.3,252.9 L166.0,253.0 L166.6,253.2 L167.2,253.3 L167.9,253.5 L168.5,253.6 L169.1,253.7 L169.8,253.9 L170.4,254.0 L171.0,254.1 L171.7,254.2 L172.3,254.3 L172.9,254.4 L173.6,254.5 L174.2,254.6 L174.8,254.7 L175.5,254.7 L176.1,254.8 L176.7,254.9 L177.4,254.9 L178.0,255.0 L178.7,255.0 L179.3,255.1 L179.9,255.1 L180.6,255.2 L181.2,255.2 L181.8,255.3 L182.5,255.3 L183.1,255.3 L183.7,255.3 L184.4,255.4 L185.0,255.4 L185.6,255.4 L186.3,255.4 L186.9,255.4 L187.5,255.4 L188.2,255.4 L188.8,255.4 L189.4,255.4 L190.1,255.4 L190.7,255.4 L191.3,255.4 L192.0,255.3 L192.6,255.3 L193.2,255.3 L193.9,255.3 L194.5,255.3 L195.2,255.2 L195.8,255.2 L196.4,255.1 L197.1,255.1 L197.7,255.1 L198.3,255.0 L199.0,255.0 L199.6,254.9 L200.2,254.9 L200.9,254.8 L201.5,254.8 L202.1,254.7 L202.8,254.6 L203.4,254.6 L204.0,254.5 L204.7,254.5 L205.3,254.4 L205.9,254.3 L206.6,254.2 L207.2,254.2 L207.8,254.1 L208.5,254.0 L209.1,253.9 L209.8,253.8 L210.4,253.8 L211.0,253.7 L211.7,253.6 L212.3,253.5 L212.9,253.4 L213.6,253.3 L214.2,253.2 L214.8,253.1 L215.5,253.0 L216.1,252.9 L216.7,252.8 L217.4,252.7 L218.0,252.6 L218.6,252.5 L219.3,252.4 L219.9,252.2 L220.5,252.1 L221.2,252.0 L221.8,251.9 L222.4,251.8 L223.1,251.7 L223.7,251.5 L224.3,251.4 L225.0,251.3 L225.6,251.2 L226.3,251.0 L226.9,250.9 L227.5,250.8 L228.2,250.6 L228.8,250.5 L229.4,250.4 L230.1,250.2 L230.7,250.1 L231.3,250.0 L232.0,249.8 L232.6,249.7 L233.2,249.5 L233.9,249.4 L234.5,249.2 L235.1,249.1 L235.8,248.9 L236.4,248.8 L237.0,248.7 L237.7,248.5 L238.3,248.4 L238.9,248.2 L239.6,248.0 L240.2,247.9 L240.8,247.7 L241.5,247.6 L242.1,247.4 L242.8,247.3 L243.4,247.1 L244.0,247.0 L244.7,246.8 L245.3,246.7 L245.9,246.5 L246.6,246.3 L247.2,246.2 L247.8,246.0 L248.5,245.9 L249.1,245.7 L249.7,245.6 L250.4,245.4 L251.0,245.2 L251.6,245.1 L252.3,244.9 L252.9,244.8 L253.5,244.6 L254.2,244.5 L254.8,244.3 L255.4,244.1 L256.1,244.0 L256.7,243.8 L257.3,243.7 L258.0,243.5 L258.6,243.4 L259.3,243.2 L259.9,243.1 L260.5,242.9 L261.2,242.8 L261.8,242.6 L262.4,242.5 L263.1,242.3 L263.7,242.2 L264.3,242.0 L265.0,241.9 L265.6,241.7 L266.2,241.6 L266.9,241.4 L267.5,241.3 L268.1,241.1 L268.8,241.0 L269.4,240.8 L270.0,240.7 L270.7,240.6 L271.3,240.4 L271.9,240.3 L272.6,240.1 L273.2,240.0 L273.8,239.9 L274.5,239.7 L275.1,239.6 L275.8,239.5 L276.4,239.3 L276.6,239.3" stroke="#edb120"/>
<path d="M65.0,212.5 L65.3,209.8 L65.5,207.2 L65.7,204.6 L65.9,202.2 L66.1,199.8 L66.3,197.6 L66.5,195.5 L66.7,193.4 L67.0,191.5 L67.2,189.5 L67.4,187.6 L67.6,185.7 L67.8,183.9 L68.0,182.2 L68.2,180.7 L68.4,179.2 L68.6,178.0 L68.9,176.9 L69.1,175.9 L69.3,175.0 L69.5,174.2 L69.7,173.4 L69.9,172.7 L70.1,172.0 L70.3,171.4 L70.6,170.7 L70.8,170.2 L71.0,169.6 L71.2,169.1 L71.4,168.5 L71.6,168.0 L71.8,167.5 L72.0,167.0 L72.2,166.5 L72.5,166.1 L72.7,165.7 L72.9,165.4 L73.1,165.1 L73.3,164.8 L73.5,164.6 L73.7,164.4 L73.9,164.2 L74.1,164.1 L74.4,163.9 L74.6,163.7 L74.8,163.6 L75.0,163.4 L75.2,163.3 L75.4,163.2 L75.6,163.1 L75.8,163.0 L76.1,162.9 L76.3,162.9 L76.5,162.9 L76.7,162.9 L76.9,162.9 L77.1,162.9 L77.3,162.9 L77.5,162.9 L77.7,162.9 L78.4,163.0 L79.0,163.1 L79.6,163.2 L80.3,163.4 L80.9,163.8 L81.6,164.3 L82.2,164.9 L82.8,165.5 L83.5,166.2 L84.1,166.9 L84.7,167.6 L85.4,168.3 L86.0,169.0 L86.6,169.8 L87.3,170.6 L87.9,171.5 L88.5,172.3 L89.2,173.1 L89.8,173.9 L90.4,174.8 L91.1,175.6 L91.7,176.5 L92.3,177.3 L93.0,178.2 L93.6,179.1 L94.2,179.9 L94.9,180.8 L95.5,181.7 L96.1,182.5 L96.8,183.4 L97.4,184.3 L98.1,185.2 L98.7,186.1 L99.3,186.9 L100.0,187.8 L100.6,188.7 L101.2,189.5 L101.9,190.4 L102.5,191.3 L103.1,192.1 L103.8,193.0 L104.4,193.8 L105.0,194.7 L105.7,195.6 L106.3,196.4 L106.9,197.3 L107.6,198.1 L108.2,198.9 L108.8,199.8 L109.5,200.6 L110.1,201.4 L110.7,202.3 L111.4,203.1 L112.0,203.9 L112.6,204.7 L113.3,205.5 L113.9,206.3 L114.6,207.1 L115.2,207.9 L115.8,208.7 L116.5,209.4 L117.1,210.2 L117.7,211.0 L118.4,211.7 L119.0,212.5 L119.6,213.2 L120.3,213.9 L120.9,214.7 L121.5,215.4 L122.2,216.1 L122.8,216.8 L123.4,217.5 L124.1,218.2 L124.7,218.9 L125.3,219.6 L126.0,220.2 L126.6,220.9 L127.2,221.6 L127.9,222.2 L128.5,222.8 L129.1,223.5 L129.8,224.1 L130.4,224.7 L131.1,225.3 L131.7,225.9 L132.3,226.5 L133.0,227.1 L133.6,227.7 L134.2,228.2 L134.9,228.8 L135.5,229.3 L136.1,229.9 L136.8,230.4 L137.4,230.9 L138.0,231.5 L138.7,232.0 L139.3,232.5 L139.9,232.9 L140.6,233.4 L141.2,233.9 L141.8,234.4 L142.5,234.8 L143.1,235.3 L143.7,235.7 L144.4,236.1 L145.0,236.6 L145.7,237.0 L146.3,237.4 L146.9,237.8 L147.6,238.2 L148.2,238.6 L148.8,238.9 L149.5,239.3 L150.1,239.7 L150.7,240.0 L151.4,240.4 L152.0,240.7 L152.6,241.0 L153.3,241.3 L153.9,241.6 L154.5,241.9 L155.2,242.2 L155.8,242.5 L156.4,242.8 L157.1,243.1 L157.7,243.3 L158.3,243.6 L159.0,243.8 L159.6,244.1 L160.2,244.3 L160.9,244.6 L161.5,244.8 L162.2,245.0 L162.8,245.2 L163.4,245.4 L164.1,245.6 L164.7,245.8 L165.3,245.9 L166.0,246.1 L166.6,246.3 L167.2,246.4 L167.9,246.6 L168.5,246.7 L169.1,246.9 L169.8,247.0 L170.4,247.1 L171.0,247.2 L171.7,247.3 L172.3,247.5 L172.9,247.6 L173.6,247.6 L174.2,247.7 L174.8,247.8 L175.5,247.9 L176.1,248.0 L176.7,248.0 L177.4,248.1 L178.0,248.1 L178.7,248.2 L179.3,248.2 L179.9,248.3 L180.6,248.3 L181.2,248.3 L181.8,248.4 L182.5,248.4 L183.1,248.4 L183.7,248.4 L184.4,248.4 L185.0,248.4 L185.6,248.4 L186.3,248.4 L186.9,248.4 L187.5,248.4 L188.2,248.3 L188.8,248.3 L189.4,248.3 L190.1,248.3 L190.7,248.2 L191.3,248.2 L192.0,248.1 L192.6,248.1 L193.2,248.0 L193.9,248.0 L194.5,247.9 L195.2,247.9 L195.8,247.8 L196.4,247.7 L197.1,247.6 L197.7,247.6 L198.3,247.5 L199.0,247.4 L199.6,247.3 L200.2,247.2 L200.9,247.1 L201.5,247.1 L202.1,247.0 L202.8,246.9 L203.4,246.8 L204.0,246.7 L204.7,246.6 L205.3,246.4 L205.9,246.3 L206.6,246.2 L207.2,246.1 L207.8,246.0 L208.5,245.9 L209.1,245.8 L209.8,245.6 L210.4,245.5 L211.0,245.4 L211.7,245.3 L212.3,245.1 L212.9,245.0 L213.6,244.9 L214.2,244.7 L214.8,244.6 L215.5,244.5 L216.1,244.3 L216.7,244.2 L217.4,244.1 L218.0,243.9 L218.6,243.8 L219.3,243.6 L219.9,243.5 L220.5,243.4 L221.2,243.2 L221.8,243.1 L222.4,242.9 L223.1,242.8 L223.7,242.6 L224.3,242.5 L225.0,242.3 L225.6,242.2 L226.3,242.0 L226.9,241.9 L227.5,241.7 L228.2,241.6 L228.8,241.4 L229.4,241.3 L230.1,241.1 L230.7,241.0 L231.3,240.8 L232.0,240.7 L232.6,240.5 L233.2,240.4 L233.9,240.2 L234.5,240.1 L235.1,239.9 L235.8,239.8 L236.4,239.6 L237.0,239.5 L237.7,239.3 L238.3,239.2 L238.9,239.0 L239.6,238.8 L240.2,238.7 L240.8,238.5 L241.5,238.4 L242.1,238.2 L242.8,238.1 L243.4,237.9 L244.0,237.8 L244.7,237.6 L245.3,237.5 L245.9,237.3 L246.6,237.2 L247.2,237.0 L247.8,236.9 L248.5,236.8 L249.1,236.6 L249.7,236.5 L250.4,236.3 L251.0,236.2 L251.6,236.0 L252.3,235.9 L252.9,235.7 L253.5,235.6 L254.2,235.4 L254.8,235.3 L255.4,235.1 L256.1,235.0 L256.7,234.9 L257.3,234.7 L258.0,234.6 L258.6,234.4 L259.3,234.3 L259.9,234.2 L260.5,234.0 L261.2,233.9 L261.8,233.7 L262.4,233.6 L263.1,233.5 L263.7,233.3 L264.3,233.2 L265.0,233.0 L265.6,232.9 L266.2,232.8 L266.9,232.6 L267.5,232.5 L268.1,232.3 L268.8,232.2 L269.4,232.1 L270.0,231.9 L270.7,231.8 L271.3,231.7 L271.9,231.5 L272.6,231.4 L273.2,231.3 L273.8,231.1 L274.5,231.0 L275.1,230.8 L275.8,230.7 L276.4,230.6 L276.6,230.5" stroke="#4dbeee"/>
</g></g>
<text transform="translate(59.7,145.3) scale(0.94,1)" text-anchor="end" >0</text>
<text transform="translate(59.7,115.5) scale(0.94,1)" text-anchor="end" >0.1</text>
<text transform="translate(59.7,85.8) scale(0.94,1)" text-anchor="end" >0.2</text>
<text transform="translate(59.7,56.1) scale(0.94,1)" text-anchor="end" >0.3</text>
<text transform="translate(59.7,26.3) scale(0.94,1)" text-anchor="end" >0.4</text>
<text transform="translate(59.9,275.4) scale(0.94,1)" text-anchor="end" >0.4</text>
<text transform="translate(59.9,246.5) scale(0.94,1)" text-anchor="end" >0.5</text>
<text transform="translate(59.9,217.5) scale(0.94,1)" text-anchor="end" >0.6</text>
<text transform="translate(59.9,188.6) scale(0.94,1)" text-anchor="end" >0.7</text>
<text transform="translate(59.9,159.6) scale(0.94,1)" text-anchor="end" >0.8</text>
<text transform="translate(65.0,298.6) scale(0.94,1)" text-anchor="middle" >0</text>
<text transform="translate(170.8,298.6) scale(0.94,1)" text-anchor="middle" >500</text>
<text transform="translate(276.9,298.6) scale(0.94,1)" text-anchor="middle" >1000</text>
<text transform="translate(172.4,315.0) scale(0.94,1)" text-anchor="middle" >time (days)</text>
<text transform="translate(0.5,12.0) scale(0.94,1)" text-anchor="start" font-size="15.2px">(i)</text>
<text transform="translate(305.9,18.4) scale(0.94,1)" text-anchor="start" font-size="15.2px">(ii)</text>
<text transform="translate(15.0,69.6) scale(0.94,1) rotate(-90)" text-anchor="middle" >resistant</text>
<text transform="translate(29.8,69.9) scale(0.94,1) rotate(-90)" text-anchor="middle" >population</text>
<text transform="translate(14.0,279.3) scale(0.94,1) rotate(-90)" text-anchor="start" >frequency of population</text>
<text transform="translate(30.6,278.8) scale(0.94,1) rotate(-90)" text-anchor="start" >using self-medication</text>
<path d="M151.7,166.5H171.6" stroke="#0000ff" stroke-width="1.1" fill="none"/>
<circle cx="161.6" cy="166.5" r="1.7" fill="#0000ff"/>
<text transform="translate(174.8,172.1) scale(0.94,1)" text-anchor="start" >1−ϵ<tspan dx="2">&#160;= 0.8</tspan></text>
<path d="M151.7,186.5H171.6" stroke="#d95319" stroke-width="1.1" fill="none"/>
<circle cx="161.6" cy="186.5" r="1.7" fill="#d95319"/>
<text transform="translate(174.8,192.1) scale(0.94,1)" text-anchor="start" >1−ϵ<tspan dx="2">&#160;= 0.6</tspan></text>
<path d="M151.7,206.5H171.6" stroke="#edb120" stroke-width="1.1" fill="none"/>
<circle cx="161.6" cy="206.5" r="1.7" fill="#edb120"/>
<text transform="translate(174.8,212.1) scale(0.94,1)" text-anchor="start" >1−ϵ<tspan dx="2">&#160;= 0.4</tspan></text>
<path d="M151.7,226.5H171.6" stroke="#4dbeee" stroke-width="1.1" fill="none" opacity="0.16"/>
<circle cx="161.6" cy="226.5" r="1.7" fill="#4dbeee"/>
<text transform="translate(174.8,232.1) scale(0.94,1)" text-anchor="start" >1−ϵ<tspan dx="2">&#160;= 0.2</tspan></text>
<g shape-rendering="crispEdges">
<rect x="333.2" y="50.1" width="136.0" height="96.3" fill="#3e26a8"/>
<rect x="474.80" y="50.10" width="24.10" height="2.71" fill="#a4c83e"/>
<rect x="498.60" y="50.10" width="3.70" height="2.71" fill="#9dc943"/>
<rect x="502.00" y="50.10" width="3.70" height="2.71" fill="#96ca48"/>
<rect x="505.40" y="50.10" width="3.70" height="2.71" fill="#8fcb4e"/>
<rect x="508.80" y="50.10" width="3.70" height="2.71" fill="#88cb53"/>
<rect x="512.20" y="50.10" width="3.70" height="2.71" fill="#81cc59"/>
<rect x="515.60" y="50.10" width="3.70" height="2.71" fill="#72cd64"/>
<rect x="519.00" y="50.10" width="3.70" height="2.71" fill="#6bcd69"/>
<rect x="522.40" y="50.10" width="3.70" height="2.71" fill="#64cd6f"/>
<rect x="525.80" y="50.10" width="3.70" height="2.71" fill="#57cc7a"/>
<rect x="529.20" y="50.10" width="3.70" height="2.71" fill="#50cc7f"/>
<rect x="532.60" y="50.10" width="3.70" height="2.71" fill="#45cb89"/>
<rect x="536.00" y="50.10" width="3.70" height="2.71" fill="#3bc992"/>
<rect x="539.40" y="50.10" width="3.70" height="2.71" fill="#34c79b"/>
<rect x="542.80" y="50.10" width="3.70" height="2.71" fill="#2cc4a7"/>
<rect x="546.20" y="50.10" width="3.70" height="2.71" fill="#1ec0b2"/>
<rect x="549.60" y="50.10" width="3.70" height="2.71" fill="#12beb9"/>
<rect x="553.00" y="50.10" width="3.70" height="2.71" fill="#06bcc0"/>
<rect x="556.40" y="50.10" width="3.70" height="2.71" fill="#01b8ca"/>
<rect x="559.80" y="50.10" width="3.70" height="2.71" fill="#08b5d0"/>
<rect x="563.20" y="50.10" width="3.70" height="2.71" fill="#15afd9"/>
<rect x="566.60" y="50.10" width="3.70" height="2.71" fill="#1ca9df"/>
<rect x="570.00" y="50.10" width="3.70" height="2.71" fill="#23a0e5"/>
<rect x="573.40" y="50.10" width="3.70" height="2.71" fill="#2699e9"/>
<rect x="576.80" y="50.10" width="3.70" height="2.71" fill="#2c8ff1"/>
<rect x="580.20" y="50.10" width="3.70" height="2.71" fill="#2e87f7"/>
<rect x="583.60" y="50.10" width="3.70" height="2.71" fill="#307efb"/>
<rect x="587.00" y="50.10" width="3.70" height="2.71" fill="#3875fe"/>
<rect x="590.40" y="50.10" width="3.70" height="2.71" fill="#3e6fff"/>
<rect x="593.80" y="50.10" width="3.70" height="2.71" fill="#4466fd"/>
<rect x="597.20" y="50.10" width="3.70" height="2.71" fill="#4660fc"/>
<rect x="600.60" y="50.10" width="3.70" height="2.71" fill="#4758f8"/>
<rect x="604.00" y="50.10" width="3.70" height="2.71" fill="#4852f4"/>
<rect x="607.40" y="50.10" width="3.70" height="2.71" fill="#484df0"/>
<rect x="474.80" y="52.51" width="24.10" height="2.71" fill="#a4c83e"/>
<rect x="498.60" y="52.51" width="3.70" height="2.71" fill="#9dc943"/>
<rect x="502.00" y="52.51" width="3.70" height="2.71" fill="#96ca48"/>
<rect x="505.40" y="52.51" width="3.70" height="2.71" fill="#8fcb4e"/>
<rect x="508.80" y="52.51" width="3.70" height="2.71" fill="#88cb53"/>
<rect x="512.20" y="52.51" width="3.70" height="2.71" fill="#79cc5e"/>
<rect x="515.60" y="52.51" width="3.70" height="2.71" fill="#72cd64"/>
<rect x="519.00" y="52.51" width="3.70" height="2.71" fill="#6bcd69"/>
<rect x="522.40" y="52.51" width="3.70" height="2.71" fill="#5dcc75"/>
<rect x="525.80" y="52.51" width="3.70" height="2.71" fill="#57cc7a"/>
<rect x="529.20" y="52.51" width="3.70" height="2.71" fill="#4acb84"/>
<rect x="532.60" y="52.51" width="3.70" height="2.71" fill="#3fca8e"/>
<rect x="536.00" y="52.51" width="3.70" height="2.71" fill="#37c897"/>
<rect x="539.40" y="52.51" width="3.70" height="2.71" fill="#31c69f"/>
<rect x="542.80" y="52.51" width="3.70" height="2.71" fill="#28c2ab"/>
<rect x="546.20" y="52.51" width="3.70" height="2.71" fill="#19bfb6"/>
<rect x="549.60" y="52.51" width="3.70" height="2.71" fill="#0bbdbd"/>
<rect x="553.00" y="52.51" width="3.70" height="2.71" fill="#01b9c7"/>
<rect x="556.40" y="52.51" width="3.70" height="2.71" fill="#04b6cd"/>
<rect x="559.80" y="52.51" width="3.70" height="2.71" fill="#12b1d6"/>
<rect x="563.20" y="52.51" width="3.70" height="2.71" fill="#1aabdd"/>
<rect x="566.60" y="52.51" width="3.70" height="2.71" fill="#20a5e3"/>
<rect x="570.00" y="52.51" width="3.70" height="2.71" fill="#259be8"/>
<rect x="573.40" y="52.51" width="3.70" height="2.71" fill="#2994ed"/>
<rect x="576.80" y="52.51" width="3.70" height="2.71" fill="#2d8af5"/>
<rect x="580.20" y="52.51" width="3.70" height="2.71" fill="#2f81fa"/>
<rect x="583.60" y="52.51" width="3.70" height="2.71" fill="#3578fd"/>
<rect x="587.00" y="52.51" width="3.70" height="2.71" fill="#3e6fff"/>
<rect x="590.40" y="52.51" width="3.70" height="2.71" fill="#4269fe"/>
<rect x="593.80" y="52.51" width="3.70" height="2.71" fill="#4660fc"/>
<rect x="597.20" y="52.51" width="3.70" height="2.71" fill="#475bf9"/>
<rect x="600.60" y="52.51" width="3.70" height="2.71" fill="#4755f6"/>
<rect x="604.00" y="52.51" width="3.70" height="2.71" fill="#484ff2"/>
<rect x="607.40" y="52.51" width="3.70" height="2.71" fill="#484aee"/>
<rect x="474.80" y="54.91" width="24.10" height="2.71" fill="#a4c83e"/>
<rect x="498.60" y="54.91" width="3.70" height="2.71" fill="#9dc943"/>
<rect x="502.00" y="54.91" width="3.70" height="2.71" fill="#96ca48"/>
<rect x="505.40" y="54.91" width="3.70" height="2.71" fill="#88cb53"/>
<rect x="508.80" y="54.91" width="3.70" height="2.71" fill="#81cc59"/>
<rect x="512.20" y="54.91" width="3.70" height="2.71" fill="#79cc5e"/>
<rect x="515.60" y="54.91" width="3.70" height="2.71" fill="#72cd64"/>
<rect x="519.00" y="54.91" width="3.70" height="2.71" fill="#64cd6f"/>
<rect x="522.40" y="54.91" width="3.70" height="2.71" fill="#5dcc75"/>
<rect x="525.80" y="54.91" width="3.70" height="2.71" fill="#50cc7f"/>
<rect x="529.20" y="54.91" width="3.70" height="2.71" fill="#45cb89"/>
<rect x="532.60" y="54.91" width="3.70" height="2.71" fill="#3bc992"/>
<rect x="536.00" y="54.91" width="3.70" height="2.71" fill="#34c79b"/>
<rect x="539.40" y="54.91" width="3.70" height="2.71" fill="#2cc4a7"/>
<rect x="542.80" y="54.91" width="3.70" height="2.71" fill="#24c1ae"/>
<rect x="546.20" y="54.91" width="3.70" height="2.71" fill="#12beb9"/>
<rect x="549.60" y="54.91" width="3.70" height="2.71" fill="#06bcc0"/>
<rect x="553.00" y="54.91" width="3.70" height="2.71" fill="#01b8ca"/>
<rect x="556.40" y="54.91" width="3.70" height="2.71" fill="#08b5d0"/>
<rect x="559.80" y="54.91" width="3.70" height="2.71" fill="#15afd9"/>
<rect x="563.20" y="54.91" width="3.70" height="2.71" fill="#1ca9df"/>
<rect x="566.60" y="54.91" width="3.70" height="2.71" fill="#23a0e5"/>
<rect x="570.00" y="54.91" width="3.70" height="2.71" fill="#2797eb"/>
<rect x="573.40" y="54.91" width="3.70" height="2.71" fill="#2c8ff1"/>
<rect x="576.80" y="54.91" width="3.70" height="2.71" fill="#2e84f8"/>
<rect x="580.20" y="54.91" width="3.70" height="2.71" fill="#327cfc"/>
<rect x="583.60" y="54.91" width="3.70" height="2.71" fill="#3b72ff"/>
<rect x="587.00" y="54.91" width="3.70" height="2.71" fill="#406cfe"/>
<rect x="590.40" y="54.91" width="3.70" height="2.71" fill="#4563fd"/>
<rect x="593.80" y="54.91" width="3.70" height="2.71" fill="#465efb"/>
<rect x="597.20" y="54.91" width="3.70" height="2.71" fill="#4755f6"/>
<rect x="600.60" y="54.91" width="3.70" height="2.71" fill="#484ff2"/>
<rect x="604.00" y="54.91" width="3.70" height="2.71" fill="#484aee"/>
<rect x="607.40" y="54.91" width="3.70" height="2.71" fill="#4747eb"/>
<rect x="474.80" y="57.32" width="24.10" height="2.71" fill="#a4c83e"/>
<rect x="498.60" y="57.32" width="3.70" height="2.71" fill="#96ca48"/>
<rect x="502.00" y="57.32" width="3.70" height="2.71" fill="#8fcb4e"/>
<rect x="505.40" y="57.32" width="3.70" height="2.71" fill="#88cb53"/>
<rect x="508.80" y="57.32" width="3.70" height="2.71" fill="#81cc59"/>
<rect x="512.20" y="57.32" width="3.70" height="2.71" fill="#79cc5e"/>
<rect x="515.60" y="57.32" width="3.70" height="2.71" fill="#6bcd69"/>
<rect x="519.00" y="57.32" width="3.70" height="2.71" fill="#64cd6f"/>
<rect x="522.40" y="57.32" width="3.70" height="2.71" fill="#57cc7a"/>
<rect x="525.80" y="57.32" width="3.70" height="2.71" fill="#50cc7f"/>
<rect x="529.20" y="57.32" width="3.70" height="2.71" fill="#45cb89"/>
<rect x="532.60" y="57.32" width="3.70" height="2.71" fill="#37c897"/>
<rect x="536.00" y="57.32" width="3.70" height="2.71" fill="#31c69f"/>
<rect x="539.40" y="57.32" width="3.70" height="2.71" fill="#28c2ab"/>
<rect x="542.80" y="57.32" width="3.70" height="2.71" fill="#19bfb6"/>
<rect x="546.20" y="57.32" width="3.70" height="2.71" fill="#0bbdbd"/>
<rect x="549.60" y="57.32" width="3.70" height="2.71" fill="#02bac3"/>
<rect x="553.00" y="57.32" width="3.70" height="2.71" fill="#04b6cd"/>
<rect x="556.40" y="57.32" width="3.70" height="2.71" fill="#12b1d6"/>
<rect x="559.80" y="57.32" width="3.70" height="2.71" fill="#1aabdd"/>
<rect x="563.20" y="57.32" width="3.70" height="2.71" fill="#20a5e3"/>
<rect x="566.60" y="57.32" width="3.70" height="2.71" fill="#259be8"/>
<rect x="570.00" y="57.32" width="3.70" height="2.71" fill="#2b91ef"/>
<rect x="573.40" y="57.32" width="3.70" height="2.71" fill="#2d8af5"/>
<rect x="576.80" y="57.32" width="3.70" height="2.71" fill="#307efb"/>
<rect x="580.20" y="57.32" width="3.70" height="2.71" fill="#3875fe"/>
<rect x="583.60" y="57.32" width="3.70" height="2.71" fill="#406cfe"/>
<rect x="587.00" y="57.32" width="3.70" height="2.71" fill="#4466fd"/>
<rect x="590.40" y="57.32" width="3.70" height="2.71" fill="#465efb"/>
<rect x="593.80" y="57.32" width="3.70" height="2.71" fill="#4758f8"/>
<rect x="597.20" y="57.32" width="3.70" height="2.71" fill="#4852f4"/>
<rect x="600.60" y="57.32" width="3.70" height="2.71" fill="#484df0"/>
<rect x="604.00" y="57.32" width="3.70" height="2.71" fill="#4747eb"/>
<rect x="607.40" y="57.32" width="3.70" height="2.71" fill="#4741e5"/>
<rect x="474.80" y="59.73" width="20.70" height="2.71" fill="#a4c83e"/>
<rect x="495.20" y="59.73" width="3.70" height="2.71" fill="#9dc943"/>
<rect x="498.60" y="59.73" width="3.70" height="2.71" fill="#96ca48"/>
<rect x="502.00" y="59.73" width="3.70" height="2.71" fill="#8fcb4e"/>
<rect x="505.40" y="59.73" width="3.70" height="2.71" fill="#88cb53"/>
<rect x="508.80" y="59.73" width="3.70" height="2.71" fill="#81cc59"/>
<rect x="512.20" y="59.73" width="3.70" height="2.71" fill="#72cd64"/>
<rect x="515.60" y="59.73" width="3.70" height="2.71" fill="#6bcd69"/>
<rect x="519.00" y="59.73" width="3.70" height="2.71" fill="#5dcc75"/>
<rect x="522.40" y="59.73" width="3.70" height="2.71" fill="#57cc7a"/>
<rect x="525.80" y="59.73" width="3.70" height="2.71" fill="#4acb84"/>
<rect x="529.20" y="59.73" width="3.70" height="2.71" fill="#3fca8e"/>
<rect x="532.60" y="59.73" width="3.70" height="2.71" fill="#37c897"/>
<rect x="536.00" y="59.73" width="3.70" height="2.71" fill="#2fc5a3"/>
<rect x="539.40" y="59.73" width="3.70" height="2.71" fill="#24c1ae"/>
<rect x="542.80" y="59.73" width="3.70" height="2.71" fill="#12beb9"/>
<rect x="546.20" y="59.73" width="3.70" height="2.71" fill="#06bcc0"/>
<rect x="549.60" y="59.73" width="3.70" height="2.71" fill="#01b8ca"/>
<rect x="553.00" y="59.73" width="3.70" height="2.71" fill="#08b5d0"/>
<rect x="556.40" y="59.73" width="3.70" height="2.71" fill="#15afd9"/>
<rect x="559.80" y="59.73" width="3.70" height="2.71" fill="#1ea7e1"/>
<rect x="563.20" y="59.73" width="3.70" height="2.71" fill="#249ee6"/>
<rect x="566.60" y="59.73" width="3.70" height="2.71" fill="#2994ed"/>
<rect x="570.00" y="59.73" width="3.70" height="2.71" fill="#2d8cf3"/>
<rect x="573.40" y="59.73" width="3.70" height="2.71" fill="#2f81fa"/>
<rect x="576.80" y="59.73" width="3.70" height="2.71" fill="#3578fd"/>
<rect x="580.20" y="59.73" width="3.70" height="2.71" fill="#3e6fff"/>
<rect x="583.60" y="59.73" width="3.70" height="2.71" fill="#4269fe"/>
<rect x="587.00" y="59.73" width="3.70" height="2.71" fill="#4660fc"/>
<rect x="590.40" y="59.73" width="3.70" height="2.71" fill="#4758f8"/>
<rect x="593.80" y="59.73" width="3.70" height="2.71" fill="#4852f4"/>
<rect x="597.20" y="59.73" width="3.70" height="2.71" fill="#484df0"/>
<rect x="600.60" y="59.73" width="3.70" height="2.71" fill="#4747eb"/>
<rect x="604.00" y="59.73" width="3.70" height="2.71" fill="#4744e8"/>
<rect x="607.40" y="59.73" width="3.70" height="2.71" fill="#473ee2"/>
<rect x="474.80" y="62.14" width="20.70" height="2.71" fill="#a4c83e"/>
<rect x="495.20" y="62.14" width="3.70" height="2.71" fill="#9dc943"/>
<rect x="498.60" y="62.14" width="3.70" height="2.71" fill="#96ca48"/>
<rect x="502.00" y="62.14" width="3.70" height="2.71" fill="#8fcb4e"/>
<rect x="505.40" y="62.14" width="3.70" height="2.71" fill="#88cb53"/>
<rect x="508.80" y="62.14" width="3.70" height="2.71" fill="#79cc5e"/>
<rect x="512.20" y="62.14" width="3.70" height="2.71" fill="#72cd64"/>
<rect x="515.60" y="62.14" width="3.70" height="2.71" fill="#64cd6f"/>
<rect x="519.00" y="62.14" width="3.70" height="2.71" fill="#5dcc75"/>
<rect x="522.40" y="62.14" width="3.70" height="2.71" fill="#50cc7f"/>
<rect x="525.80" y="62.14" width="3.70" height="2.71" fill="#45cb89"/>
<rect x="529.20" y="62.14" width="3.70" height="2.71" fill="#3bc992"/>
<rect x="532.60" y="62.14" width="3.70" height="2.71" fill="#34c79b"/>
<rect x="536.00" y="62.14" width="3.70" height="2.71" fill="#2cc4a7"/>
<rect x="539.40" y="62.14" width="3.70" height="2.71" fill="#1ec0b2"/>
<rect x="542.80" y="62.14" width="3.70" height="2.71" fill="#0bbdbd"/>
<rect x="546.20" y="62.14" width="3.70" height="2.71" fill="#02bac3"/>
<rect x="549.60" y="62.14" width="3.70" height="2.71" fill="#04b6cd"/>
<rect x="553.00" y="62.14" width="3.70" height="2.71" fill="#12b1d6"/>
<rect x="556.40" y="62.14" width="3.70" height="2.71" fill="#1aabdd"/>
<rect x="559.80" y="62.14" width="3.70" height="2.71" fill="#22a2e4"/>
<rect x="563.20" y="62.14" width="3.70" height="2.71" fill="#2699e9"/>
<rect x="566.60" y="62.14" width="3.70" height="2.71" fill="#2c8ff1"/>
<rect x="570.00" y="62.14" width="3.70" height="2.71" fill="#2e87f7"/>
<rect x="573.40" y="62.14" width="3.70" height="2.71" fill="#327cfc"/>
<rect x="576.80" y="62.14" width="3.70" height="2.71" fill="#3b72ff"/>
<rect x="580.20" y="62.14" width="3.70" height="2.71" fill="#4269fe"/>
<rect x="583.60" y="62.14" width="3.70" height="2.71" fill="#4563fd"/>
<rect x="587.00" y="62.14" width="3.70" height="2.71" fill="#475bf9"/>
<rect x="590.40" y="62.14" width="3.70" height="2.71" fill="#4755f6"/>
<rect x="593.80" y="62.14" width="3.70" height="2.71" fill="#484ff2"/>
<rect x="597.20" y="62.14" width="3.70" height="2.71" fill="#484aee"/>
<rect x="600.60" y="62.14" width="3.70" height="2.71" fill="#4744e8"/>
<rect x="604.00" y="62.14" width="3.70" height="2.71" fill="#473ee2"/>
<rect x="607.40" y="62.14" width="3.70" height="2.71" fill="#463cde"/>
<rect x="474.80" y="64.55" width="20.70" height="2.71" fill="#a4c83e"/>
<rect x="495.20" y="64.55" width="3.70" height="2.71" fill="#9dc943"/>
<rect x="498.60" y="64.55" width="3.70" height="2.71" fill="#96ca48"/>
<rect x="502.00" y="64.55" width="3.70" height="2.71" fill="#8fcb4e"/>
<rect x="505.40" y="64.55" width="3.70" height="2.71" fill="#81cc59"/>
<rect x="508.80" y="64.55" width="3.70" height="2.71" fill="#79cc5e"/>
<rect x="512.20" y="64.55" width="3.70" height="2.71" fill="#6bcd69"/>
<rect x="515.60" y="64.55" width="3.70" height="2.71" fill="#64cd6f"/>
<rect x="519.00" y="64.55" width="3.70" height="2.71" fill="#57cc7a"/>
<rect x="522.40" y="64.55" width="3.70" height="2.71" fill="#50cc7f"/>
<rect x="525.80" y="64.55" width="3.70" height="2.71" fill="#3fca8e"/>
<rect x="529.20" y="64.55" width="3.70" height="2.71" fill="#37c897"/>
<rect x="532.60" y="64.55" width="3.70" height="2.71" fill="#31c69f"/>
<rect x="536.00" y="64.55" width="3.70" height="2.71" fill="#24c1ae"/>
<rect x="539.40" y="64.55" width="3.70" height="2.71" fill="#19bfb6"/>
<rect x="542.80" y="64.55" width="3.70" height="2.71" fill="#06bcc0"/>
<rect x="546.20" y="64.55" width="3.70" height="2.71" fill="#01b8ca"/>
<rect x="549.60" y="64.55" width="3.70" height="2.71" fill="#08b5d0"/>
<rect x="553.00" y="64.55" width="3.70" height="2.71" fill="#18addb"/>
<rect x="556.40" y="64.55" width="3.70" height="2.71" fill="#1ea7e1"/>
<rect x="559.80" y="64.55" width="3.70" height="2.71" fill="#249ee6"/>
<rect x="563.20" y="64.55" width="3.70" height="2.71" fill="#2994ed"/>
<rect x="566.60" y="64.55" width="3.70" height="2.71" fill="#2d8af5"/>
<rect x="570.00" y="64.55" width="3.70" height="2.71" fill="#2f81fa"/>
<rect x="573.40" y="64.55" width="3.70" height="2.71" fill="#3875fe"/>
<rect x="576.80" y="64.55" width="3.70" height="2.71" fill="#406cfe"/>
<rect x="580.20" y="64.55" width="3.70" height="2.71" fill="#4563fd"/>
<rect x="583.60" y="64.55" width="3.70" height="2.71" fill="#465efb"/>
<rect x="587.00" y="64.55" width="3.70" height="2.71" fill="#4755f6"/>
<rect x="590.40" y="64.55" width="3.70" height="2.71" fill="#484ff2"/>
<rect x="593.80" y="64.55" width="3.70" height="2.71" fill="#484aee"/>
<rect x="597.20" y="64.55" width="3.70" height="2.71" fill="#4744e8"/>
<rect x="600.60" y="64.55" width="3.70" height="2.71" fill="#473ee2"/>
<rect x="604.00" y="64.55" width="3.70" height="2.71" fill="#463cde"/>
<rect x="607.40" y="64.55" width="3.70" height="2.71" fill="#4537d5"/>
<rect x="474.80" y="66.95" width="20.70" height="2.71" fill="#a4c83e"/>
<rect x="495.20" y="66.95" width="3.70" height="2.71" fill="#9dc943"/>
<rect x="498.60" y="66.95" width="3.70" height="2.71" fill="#96ca48"/>
<rect x="502.00" y="66.95" width="3.70" height="2.71" fill="#88cb53"/>
<rect x="505.40" y="66.95" width="3.70" height="2.71" fill="#81cc59"/>
<rect x="508.80" y="66.95" width="3.70" height="2.71" fill="#72cd64"/>
<rect x="512.20" y="66.95" width="3.70" height="2.71" fill="#6bcd69"/>
<rect x="515.60" y="66.95" width="3.70" height="2.71" fill="#5dcc75"/>
<rect x="519.00" y="66.95" width="3.70" height="2.71" fill="#57cc7a"/>
<rect x="522.40" y="66.95" width="3.70" height="2.71" fill="#4acb84"/>
<rect x="525.80" y="66.95" width="3.70" height="2.71" fill="#3fca8e"/>
<rect x="529.20" y="66.95" width="3.70" height="2.71" fill="#34c79b"/>
<rect x="532.60" y="66.95" width="3.70" height="2.71" fill="#2cc4a7"/>
<rect x="536.00" y="66.95" width="3.70" height="2.71" fill="#1ec0b2"/>
<rect x="539.40" y="66.95" width="3.70" height="2.71" fill="#0bbdbd"/>
<rect x="542.80" y="66.95" width="3.70" height="2.71" fill="#02bac3"/>
<rect x="546.20" y="66.95" width="3.70" height="2.71" fill="#04b6cd"/>
<rect x="549.60" y="66.95" width="3.70" height="2.71" fill="#12b1d6"/>
<rect x="553.00" y="66.95" width="3.70" height="2.71" fill="#1aabdd"/>
<rect x="556.40" y="66.95" width="3.70" height="2.71" fill="#23a0e5"/>
<rect x="559.80" y="66.95" width="3.70" height="2.71" fill="#2797eb"/>
<rect x="563.20" y="66.95" width="3.70" height="2.71" fill="#2d8cf3"/>
<rect x="566.60" y="66.95" width="3.70" height="2.71" fill="#2e84f8"/>
<rect x="570.00" y="66.95" width="3.70" height="2.71" fill="#3578fd"/>
<rect x="573.40" y="66.95" width="3.70" height="2.71" fill="#3e6fff"/>
<rect x="576.80" y="66.95" width="3.70" height="2.71" fill="#4466fd"/>
<rect x="580.20" y="66.95" width="3.70" height="2.71" fill="#465efb"/>
<rect x="583.60" y="66.95" width="3.70" height="2.71" fill="#4758f8"/>
<rect x="587.00" y="66.95" width="3.70" height="2.71" fill="#4852f4"/>
<rect x="590.40" y="66.95" width="3.70" height="2.71" fill="#484aee"/>
<rect x="593.80" y="66.95" width="3.70" height="2.71" fill="#4744e8"/>
<rect x="597.20" y="66.95" width="3.70" height="2.71" fill="#4741e5"/>
<rect x="600.60" y="66.95" width="3.70" height="2.71" fill="#463cde"/>
<rect x="604.00" y="66.95" width="3.70" height="2.71" fill="#4639da"/>
<rect x="607.40" y="66.95" width="3.70" height="2.71" fill="#4435d0"/>
<rect x="474.80" y="69.36" width="20.70" height="2.71" fill="#a4c83e"/>
<rect x="495.20" y="69.36" width="3.70" height="2.71" fill="#9dc943"/>
<rect x="498.60" y="69.36" width="3.70" height="2.71" fill="#8fcb4e"/>
<rect x="502.00" y="69.36" width="3.70" height="2.71" fill="#88cb53"/>
<rect x="505.40" y="69.36" width="3.70" height="2.71" fill="#81cc59"/>
<rect x="508.80" y="69.36" width="3.70" height="2.71" fill="#72cd64"/>
<rect x="512.20" y="69.36" width="3.70" height="2.71" fill="#6bcd69"/>
<rect x="515.60" y="69.36" width="3.70" height="2.71" fill="#5dcc75"/>
<rect x="519.00" y="69.36" width="3.70" height="2.71" fill="#50cc7f"/>
<rect x="522.40" y="69.36" width="3.70" height="2.71" fill="#45cb89"/>
<rect x="525.80" y="69.36" width="3.70" height="2.71" fill="#3bc992"/>
<rect x="529.20" y="69.36" width="3.70" height="2.71" fill="#31c69f"/>
<rect x="532.60" y="69.36" width="3.70" height="2.71" fill="#28c2ab"/>
<rect x="536.00" y="69.36" width="3.70" height="2.71" fill="#19bfb6"/>
<rect x="539.40" y="69.36" width="3.70" height="2.71" fill="#06bcc0"/>
<rect x="542.80" y="69.36" width="3.70" height="2.71" fill="#01b8ca"/>
<rect x="546.20" y="69.36" width="3.70" height="2.71" fill="#08b5d0"/>
<rect x="549.60" y="69.36" width="3.70" height="2.71" fill="#18addb"/>
<rect x="553.00" y="69.36" width="3.70" height="2.71" fill="#20a5e3"/>
<rect x="556.40" y="69.36" width="3.70" height="2.71" fill="#259be8"/>
<rect x="559.80" y="69.36" width="3.70" height="2.71" fill="#2b91ef"/>
<rect x="563.20" y="69.36" width="3.70" height="2.71" fill="#2e87f7"/>
<rect x="566.60" y="69.36" width="3.70" height="2.71" fill="#307efb"/>
<rect x="570.00" y="69.36" width="3.70" height="2.71" fill="#3b72ff"/>
<rect x="573.40" y="69.36" width="3.70" height="2.71" fill="#4269fe"/>
<rect x="576.80" y="69.36" width="3.70" height="2.71" fill="#4660fc"/>
<rect x="580.20" y="69.36" width="3.70" height="2.71" fill="#475bf9"/>
<rect x="583.60" y="69.36" width="3.70" height="2.71" fill="#4852f4"/>
<rect x="587.00" y="69.36" width="3.70" height="2.71" fill="#484df0"/>
<rect x="590.40" y="69.36" width="3.70" height="2.71" fill="#4747eb"/>
<rect x="593.80" y="69.36" width="3.70" height="2.71" fill="#4741e5"/>
<rect x="597.20" y="69.36" width="3.70" height="2.71" fill="#463cde"/>
<rect x="600.60" y="69.36" width="3.70" height="2.71" fill="#4639da"/>
<rect x="604.00" y="69.36" width="3.70" height="2.71" fill="#4435d0"/>
<rect x="607.40" y="69.36" width="3.70" height="2.71" fill="#4332cb"/>
<rect x="474.80" y="71.77" width="20.70" height="2.71" fill="#a4c83e"/>
<rect x="495.20" y="71.77" width="3.70" height="2.71" fill="#96ca48"/>
<rect x="498.60" y="71.77" width="3.70" height="2.71" fill="#8fcb4e"/>
<rect x="502.00" y="71.77" width="3.70" height="2.71" fill="#88cb53"/>
<rect x="505.40" y="71.77" width="3.70" height="2.71" fill="#79cc5e"/>
<rect x="508.80" y="71.77" width="3.70" height="2.71" fill="#72cd64"/>
<rect x="512.20" y="71.77" width="3.70" height="2.71" fill="#64cd6f"/>
<rect x="515.60" y="71.77" width="3.70" height="2.71" fill="#57cc7a"/>
<rect x="519.00" y="71.77" width="3.70" height="2.71" fill="#4acb84"/>
<rect x="522.40" y="71.77" width="3.70" height="2.71" fill="#3fca8e"/>
<rect x="525.80" y="71.77" width="3.70" height="2.71" fill="#37c897"/>
<rect x="529.20" y="71.77" width="3.70" height="2.71" fill="#2fc5a3"/>
<rect x="532.60" y="71.77" width="3.70" height="2.71" fill="#24c1ae"/>
<rect x="536.00" y="71.77" width="3.70" height="2.71" fill="#12beb9"/>
<rect x="539.40" y="71.77" width="3.70" height="2.71" fill="#02bac3"/>
<rect x="542.80" y="71.77" width="3.70" height="2.71" fill="#04b6cd"/>
<rect x="546.20" y="71.77" width="3.70" height="2.71" fill="#12b1d6"/>
<rect x="549.60" y="71.77" width="3.70" height="2.71" fill="#1ca9df"/>
<rect x="553.00" y="71.77" width="3.70" height="2.71" fill="#23a0e5"/>
<rect x="556.40" y="71.77" width="3.70" height="2.71" fill="#2994ed"/>
<rect x="559.80" y="71.77" width="3.70" height="2.71" fill="#2d8cf3"/>
<rect x="563.20" y="71.77" width="3.70" height="2.71" fill="#2f81fa"/>
<rect x="566.60" y="71.77" width="3.70" height="2.71" fill="#3875fe"/>
<rect x="570.00" y="71.77" width="3.70" height="2.71" fill="#406cfe"/>
<rect x="573.40" y="71.77" width="3.70" height="2.71" fill="#4563fd"/>
<rect x="576.80" y="71.77" width="3.70" height="2.71" fill="#475bf9"/>
<rect x="580.20" y="71.77" width="3.70" height="2.71" fill="#4755f6"/>
<rect x="583.60" y="71.77" width="3.70" height="2.71" fill="#484df0"/>
<rect x="587.00" y="71.77" width="3.70" height="2.71" fill="#4747eb"/>
<rect x="590.40" y="71.77" width="3.70" height="2.71" fill="#4741e5"/>
<rect x="593.80" y="71.77" width="3.70" height="2.71" fill="#473ee2"/>
<rect x="597.20" y="71.77" width="3.70" height="2.71" fill="#4639da"/>
<rect x="600.60" y="71.77" width="3.70" height="2.71" fill="#4537d5"/>
<rect x="604.00" y="71.77" width="3.70" height="2.71" fill="#4332cb"/>
<rect x="607.40" y="71.77" width="3.70" height="2.71" fill="#4330c5"/>
<rect x="474.80" y="74.17" width="17.30" height="2.71" fill="#a4c83e"/>
<rect x="491.80" y="74.17" width="3.70" height="2.71" fill="#9dc943"/>
<rect x="495.20" y="74.17" width="3.70" height="2.71" fill="#96ca48"/>
<rect x="498.60" y="74.17" width="3.70" height="2.71" fill="#8fcb4e"/>
<rect x="502.00" y="74.17" width="3.70" height="2.71" fill="#81cc59"/>
<rect x="505.40" y="74.17" width="3.70" height="2.71" fill="#79cc5e"/>
<rect x="508.80" y="74.17" width="3.70" height="2.71" fill="#6bcd69"/>
<rect x="512.20" y="74.17" width="3.70" height="2.71" fill="#64cd6f"/>
<rect x="515.60" y="74.17" width="3.70" height="2.71" fill="#57cc7a"/>
<rect x="519.00" y="74.17" width="3.70" height="2.71" fill="#4acb84"/>
<rect x="522.40" y="74.17" width="3.70" height="2.71" fill="#3bc992"/>
<rect x="525.80" y="74.17" width="3.70" height="2.71" fill="#34c79b"/>
<rect x="529.20" y="74.17" width="3.70" height="2.71" fill="#28c2ab"/>
<rect x="532.60" y="74.17" width="3.70" height="2.71" fill="#19bfb6"/>
<rect x="536.00" y="74.17" width="3.70" height="2.71" fill="#06bcc0"/>
<rect x="539.40" y="74.17" width="3.70" height="2.71" fill="#01b8ca"/>
<rect x="542.80" y="74.17" width="3.70" height="2.71" fill="#0db3d3"/>
<rect x="546.20" y="74.17" width="3.70" height="2.71" fill="#18addb"/>
<rect x="549.60" y="74.17" width="3.70" height="2.71" fill="#20a5e3"/>
<rect x="553.00" y="74.17" width="3.70" height="2.71" fill="#2699e9"/>
<rect x="556.40" y="74.17" width="3.70" height="2.71" fill="#2c8ff1"/>
<rect x="559.80" y="74.17" width="3.70" height="2.71" fill="#2e84f8"/>
<rect x="563.20" y="74.17" width="3.70" height="2.71" fill="#3578fd"/>
<rect x="566.60" y="74.17" width="3.70" height="2.71" fill="#3e6fff"/>
<rect x="570.00" y="74.17" width="3.70" height="2.71" fill="#4466fd"/>
<rect x="573.40" y="74.17" width="3.70" height="2.71" fill="#465efb"/>
<rect x="576.80" y="74.17" width="3.70" height="2.71" fill="#4755f6"/>
<rect x="580.20" y="74.17" width="3.70" height="2.71" fill="#484ff2"/>
<rect x="583.60" y="74.17" width="3.70" height="2.71" fill="#484aee"/>
<rect x="587.00" y="74.17" width="3.70" height="2.71" fill="#4744e8"/>
<rect x="590.40" y="74.17" width="3.70" height="2.71" fill="#473ee2"/>
<rect x="593.80" y="74.17" width="3.70" height="2.71" fill="#4639da"/>
<rect x="597.20" y="74.17" width="3.70" height="2.71" fill="#4537d5"/>
<rect x="600.60" y="74.17" width="3.70" height="2.71" fill="#4332cb"/>
<rect x="604.00" y="74.17" width="3.70" height="2.71" fill="#4330c5"/>
<rect x="607.40" y="74.17" width="3.70" height="2.71" fill="#422ec0"/>
<rect x="474.80" y="76.58" width="17.30" height="2.71" fill="#a4c83e"/>
<rect x="491.80" y="76.58" width="3.70" height="2.71" fill="#9dc943"/>
<rect x="495.20" y="76.58" width="3.70" height="2.71" fill="#96ca48"/>
<rect x="498.60" y="76.58" width="3.70" height="2.71" fill="#8fcb4e"/>
<rect x="502.00" y="76.58" width="3.70" height="2.71" fill="#81cc59"/>
<rect x="505.40" y="76.58" width="3.70" height="2.71" fill="#72cd64"/>
<rect x="508.80" y="76.58" width="3.70" height="2.71" fill="#6bcd69"/>
<rect x="512.20" y="76.58" width="3.70" height="2.71" fill="#5dcc75"/>
<rect x="515.60" y="76.58" width="3.70" height="2.71" fill="#50cc7f"/>
<rect x="519.00" y="76.58" width="3.70" height="2.71" fill="#45cb89"/>
<rect x="522.40" y="76.58" width="3.70" height="2.71" fill="#37c897"/>
<rect x="525.80" y="76.58" width="3.70" height="2.71" fill="#2fc5a3"/>
<rect x="529.20" y="76.58" width="3.70" height="2.71" fill="#24c1ae"/>
<rect x="532.60" y="76.58" width="3.70" height="2.71" fill="#12beb9"/>
<rect x="536.00" y="76.58" width="3.70" height="2.71" fill="#02bac3"/>
<rect x="539.40" y="76.58" width="3.70" height="2.71" fill="#04b6cd"/>
<rect x="542.80" y="76.58" width="3.70" height="2.71" fill="#12b1d6"/>
<rect x="546.20" y="76.58" width="3.70" height="2.71" fill="#1ca9df"/>
<rect x="549.60" y="76.58" width="3.70" height="2.71" fill="#249ee6"/>
<rect x="553.00" y="76.58" width="3.70" height="2.71" fill="#2994ed"/>
<rect x="556.40" y="76.58" width="3.70" height="2.71" fill="#2d8af5"/>
<rect x="559.80" y="76.58" width="3.70" height="2.71" fill="#307efb"/>
<rect x="563.20" y="76.58" width="3.70" height="2.71" fill="#3b72ff"/>
<rect x="566.60" y="76.58" width="3.70" height="2.71" fill="#4269fe"/>
<rect x="570.00" y="76.58" width="3.70" height="2.71" fill="#4660fc"/>
<rect x="573.40" y="76.58" width="3.70" height="2.71" fill="#4758f8"/>
<rect x="576.80" y="76.58" width="3.70" height="2.71" fill="#484ff2"/>
<rect x="580.20" y="76.58" width="3.70" height="2.71" fill="#484aee"/>
<rect x="583.60" y="76.58" width="3.70" height="2.71" fill="#4744e8"/>
<rect x="587.00" y="76.58" width="3.70" height="2.71" fill="#473ee2"/>
<rect x="590.40" y="76.58" width="3.70" height="2.71" fill="#4639da"/>
<rect x="593.80" y="76.58" width="3.70" height="2.71" fill="#4537d5"/>
<rect x="597.20" y="76.58" width="3.70" height="2.71" fill="#4332cb"/>
<rect x="600.60" y="76.58" width="3.70" height="2.71" fill="#4330c5"/>
<rect x="604.00" y="76.58" width="3.70" height="2.71" fill="#422ec0"/>
<rect x="607.40" y="76.58" width="3.70" height="2.71" fill="#412cba"/>
<rect x="474.80" y="78.99" width="17.30" height="2.71" fill="#a4c83e"/>
<rect x="491.80" y="78.99" width="3.70" height="2.71" fill="#9dc943"/>
<rect x="495.20" y="78.99" width="3.70" height="2.71" fill="#96ca48"/>
<rect x="498.60" y="78.99" width="3.70" height="2.71" fill="#88cb53"/>
<rect x="502.00" y="78.99" width="3.70" height="2.71" fill="#81cc59"/>
<rect x="505.40" y="78.99" width="3.70" height="2.71" fill="#72cd64"/>
<rect x="508.80" y="78.99" width="3.70" height="2.71" fill="#64cd6f"/>
<rect x="512.20" y="78.99" width="3.70" height="2.71" fill="#57cc7a"/>
<rect x="515.60" y="78.99" width="3.70" height="2.71" fill="#4acb84"/>
<rect x="519.00" y="78.99" width="3.70" height="2.71" fill="#3fca8e"/>
<rect x="522.40" y="78.99" width="3.70" height="2.71" fill="#34c79b"/>
<rect x="525.80" y="78.99" width="3.70" height="2.71" fill="#2cc4a7"/>
<rect x="529.20" y="78.99" width="3.70" height="2.71" fill="#19bfb6"/>
<rect x="532.60" y="78.99" width="3.70" height="2.71" fill="#06bcc0"/>
<rect x="536.00" y="78.99" width="3.70" height="2.71" fill="#01b9c7"/>
<rect x="539.40" y="78.99" width="3.70" height="2.71" fill="#0db3d3"/>
<rect x="542.80" y="78.99" width="3.70" height="2.71" fill="#18addb"/>
<rect x="546.20" y="78.99" width="3.70" height="2.71" fill="#22a2e4"/>
<rect x="549.60" y="78.99" width="3.70" height="2.71" fill="#2797eb"/>
<rect x="553.00" y="78.99" width="3.70" height="2.71" fill="#2d8cf3"/>
<rect x="556.40" y="78.99" width="3.70" height="2.71" fill="#2f81fa"/>
<rect x="559.80" y="78.99" width="3.70" height="2.71" fill="#3875fe"/>
<rect x="563.20" y="78.99" width="3.70" height="2.71" fill="#406cfe"/>
<rect x="566.60" y="78.99" width="3.70" height="2.71" fill="#4563fd"/>
<rect x="570.00" y="78.99" width="3.70" height="2.71" fill="#475bf9"/>
<rect x="573.40" y="78.99" width="3.70" height="2.71" fill="#4852f4"/>
<rect x="576.80" y="78.99" width="3.70" height="2.71" fill="#484aee"/>
<rect x="580.20" y="78.99" width="3.70" height="2.71" fill="#4744e8"/>
<rect x="583.60" y="78.99" width="3.70" height="2.71" fill="#473ee2"/>
<rect x="587.00" y="78.99" width="3.70" height="2.71" fill="#463cde"/>
<rect x="590.40" y="78.99" width="3.70" height="2.71" fill="#4537d5"/>
<rect x="593.80" y="78.99" width="3.70" height="2.71" fill="#4435d0"/>
<rect x="597.20" y="78.99" width="3.70" height="2.71" fill="#4330c5"/>
<rect x="600.60" y="78.99" width="3.70" height="2.71" fill="#422ec0"/>
<rect x="604.00" y="78.99" width="3.70" height="2.71" fill="#412cba"/>
<rect x="607.40" y="78.99" width="3.70" height="2.71" fill="#402ab4"/>
<rect x="474.80" y="81.40" width="17.30" height="2.71" fill="#a4c83e"/>
<rect x="491.80" y="81.40" width="3.70" height="2.71" fill="#9dc943"/>
<rect x="495.20" y="81.40" width="3.70" height="2.71" fill="#8fcb4e"/>
<rect x="498.60" y="81.40" width="3.70" height="2.71" fill="#88cb53"/>
<rect x="502.00" y="81.40" width="3.70" height="2.71" fill="#79cc5e"/>
<rect x="505.40" y="81.40" width="3.70" height="2.71" fill="#72cd64"/>
<rect x="508.80" y="81.40" width="3.70" height="2.71" fill="#64cd6f"/>
<rect x="512.20" y="81.40" width="3.70" height="2.71" fill="#57cc7a"/>
<rect x="515.60" y="81.40" width="3.70" height="2.71" fill="#4acb84"/>
<rect x="519.00" y="81.40" width="3.70" height="2.71" fill="#3bc992"/>
<rect x="522.40" y="81.40" width="3.70" height="2.71" fill="#31c69f"/>
<rect x="525.80" y="81.40" width="3.70" height="2.71" fill="#24c1ae"/>
<rect x="529.20" y="81.40" width="3.70" height="2.71" fill="#12beb9"/>
<rect x="532.60" y="81.40" width="3.70" height="2.71" fill="#02bac3"/>
<rect x="536.00" y="81.40" width="3.70" height="2.71" fill="#04b6cd"/>
<rect x="539.40" y="81.40" width="3.70" height="2.71" fill="#15afd9"/>
<rect x="542.80" y="81.40" width="3.70" height="2.71" fill="#1ea7e1"/>
<rect x="546.20" y="81.40" width="3.70" height="2.71" fill="#259be8"/>
<rect x="549.60" y="81.40" width="3.70" height="2.71" fill="#2b91ef"/>
<rect x="553.00" y="81.40" width="3.70" height="2.71" fill="#2e84f8"/>
<rect x="556.40" y="81.40" width="3.70" height="2.71" fill="#327cfc"/>
<rect x="559.80" y="81.40" width="3.70" height="2.71" fill="#3e6fff"/>
<rect x="563.20" y="81.40" width="3.70" height="2.71" fill="#4563fd"/>
<rect x="566.60" y="81.40" width="3.70" height="2.71" fill="#475bf9"/>
<rect x="570.00" y="81.40" width="3.70" height="2.71" fill="#4852f4"/>
<rect x="573.40" y="81.40" width="3.70" height="2.71" fill="#484df0"/>
<rect x="576.80" y="81.40" width="3.70" height="2.71" fill="#4747eb"/>
<rect x="580.20" y="81.40" width="3.70" height="2.71" fill="#4741e5"/>
<rect x="583.60" y="81.40" width="3.70" height="2.71" fill="#463cde"/>
<rect x="587.00" y="81.40" width="3.70" height="2.71" fill="#4537d5"/>
<rect x="590.40" y="81.40" width="3.70" height="2.71" fill="#4435d0"/>
<rect x="593.80" y="81.40" width="3.70" height="2.71" fill="#4330c5"/>
<rect x="597.20" y="81.40" width="3.70" height="2.71" fill="#422ec0"/>
<rect x="600.60" y="81.40" width="3.70" height="2.71" fill="#412cba"/>
<rect x="604.00" y="81.40" width="7.10" height="2.71" fill="#402ab4"/>
<rect x="474.80" y="83.81" width="17.30" height="2.71" fill="#a4c83e"/>
<rect x="491.80" y="83.81" width="3.70" height="2.71" fill="#9dc943"/>
<rect x="495.20" y="83.81" width="3.70" height="2.71" fill="#8fcb4e"/>
<rect x="498.60" y="83.81" width="3.70" height="2.71" fill="#88cb53"/>
<rect x="502.00" y="83.81" width="3.70" height="2.71" fill="#79cc5e"/>
<rect x="505.40" y="83.81" width="3.70" height="2.71" fill="#6bcd69"/>
<rect x="508.80" y="83.81" width="3.70" height="2.71" fill="#5dcc75"/>
<rect x="512.20" y="83.81" width="3.70" height="2.71" fill="#50cc7f"/>
<rect x="515.60" y="83.81" width="3.70" height="2.71" fill="#45cb89"/>
<rect x="519.00" y="83.81" width="3.70" height="2.71" fill="#37c897"/>
<rect x="522.40" y="83.81" width="3.70" height="2.71" fill="#2fc5a3"/>
<rect x="525.80" y="83.81" width="3.70" height="2.71" fill="#1ec0b2"/>
<rect x="529.20" y="83.81" width="3.70" height="2.71" fill="#0bbdbd"/>
<rect x="532.60" y="83.81" width="3.70" height="2.71" fill="#01b9c7"/>
<rect x="536.00" y="83.81" width="3.70" height="2.71" fill="#0db3d3"/>
<rect x="539.40" y="83.81" width="3.70" height="2.71" fill="#1aabdd"/>
<rect x="542.80" y="83.81" width="3.70" height="2.71" fill="#23a0e5"/>
<rect x="546.20" y="83.81" width="3.70" height="2.71" fill="#2994ed"/>
<rect x="549.60" y="83.81" width="3.70" height="2.71" fill="#2d8af5"/>
<rect x="553.00" y="83.81" width="3.70" height="2.71" fill="#307efb"/>
<rect x="556.40" y="83.81" width="3.70" height="2.71" fill="#3b72ff"/>
<rect x="559.80" y="83.81" width="3.70" height="2.71" fill="#4466fd"/>
<rect x="563.20" y="83.81" width="3.70" height="2.71" fill="#465efb"/>
<rect x="566.60" y="83.81" width="3.70" height="2.71" fill="#4755f6"/>
<rect x="570.00" y="83.81" width="3.70" height="2.71" fill="#484df0"/>
<rect x="573.40" y="83.81" width="3.70" height="2.71" fill="#4747eb"/>
<rect x="576.80" y="83.81" width="3.70" height="2.71" fill="#4741e5"/>
<rect x="580.20" y="83.81" width="3.70" height="2.71" fill="#463cde"/>
<rect x="583.60" y="83.81" width="3.70" height="2.71" fill="#4537d5"/>
<rect x="587.00" y="83.81" width="3.70" height="2.71" fill="#4435d0"/>
<rect x="590.40" y="83.81" width="3.70" height="2.71" fill="#4330c5"/>
<rect x="593.80" y="83.81" width="3.70" height="2.71" fill="#422ec0"/>
<rect x="597.20" y="83.81" width="3.70" height="2.71" fill="#412cba"/>
<rect x="600.60" y="83.81" width="7.10" height="2.71" fill="#402ab4"/>
<rect x="607.40" y="83.81" width="3.70" height="2.71" fill="#3f28ae"/>
<rect x="474.80" y="86.21" width="17.30" height="2.71" fill="#a4c83e"/>
<rect x="491.80" y="86.21" width="3.70" height="2.71" fill="#96ca48"/>
<rect x="495.20" y="86.21" width="3.70" height="2.71" fill="#8fcb4e"/>
<rect x="498.60" y="86.21" width="3.70" height="2.71" fill="#81cc59"/>
<rect x="502.00" y="86.21" width="3.70" height="2.71" fill="#72cd64"/>
<rect x="505.40" y="86.21" width="3.70" height="2.71" fill="#6bcd69"/>
<rect x="508.80" y="86.21" width="3.70" height="2.71" fill="#5dcc75"/>
<rect x="512.20" y="86.21" width="3.70" height="2.71" fill="#4acb84"/>
<rect x="515.60" y="86.21" width="3.70" height="2.71" fill="#3fca8e"/>
<rect x="519.00" y="86.21" width="3.70" height="2.71" fill="#34c79b"/>
<rect x="522.40" y="86.21" width="3.70" height="2.71" fill="#28c2ab"/>
<rect x="525.80" y="86.21" width="3.70" height="2.71" fill="#12beb9"/>
<rect x="529.20" y="86.21" width="3.70" height="2.71" fill="#02bac3"/>
<rect x="532.60" y="86.21" width="3.70" height="2.71" fill="#04b6cd"/>
<rect x="536.00" y="86.21" width="3.70" height="2.71" fill="#15afd9"/>
<rect x="539.40" y="86.21" width="3.70" height="2.71" fill="#1ea7e1"/>
<rect x="542.80" y="86.21" width="3.70" height="2.71" fill="#2699e9"/>
<rect x="546.20" y="86.21" width="3.70" height="2.71" fill="#2c8ff1"/>
<rect x="549.60" y="86.21" width="3.70" height="2.71" fill="#2f81fa"/>
<rect x="553.00" y="86.21" width="3.70" height="2.71" fill="#3875fe"/>
<rect x="556.40" y="86.21" width="3.70" height="2.71" fill="#4269fe"/>
<rect x="559.80" y="86.21" width="3.70" height="2.71" fill="#4660fc"/>
<rect x="563.20" y="86.21" width="3.70" height="2.71" fill="#4758f8"/>
<rect x="566.60" y="86.21" width="3.70" height="2.71" fill="#484ff2"/>
<rect x="570.00" y="86.21" width="3.70" height="2.71" fill="#484aee"/>
<rect x="573.40" y="86.21" width="3.70" height="2.71" fill="#4741e5"/>
<rect x="576.80" y="86.21" width="3.70" height="2.71" fill="#463cde"/>
<rect x="580.20" y="86.21" width="3.70" height="2.71" fill="#4639da"/>
<rect x="583.60" y="86.21" width="3.70" height="2.71" fill="#4435d0"/>
<rect x="587.00" y="86.21" width="3.70" height="2.71" fill="#4330c5"/>
<rect x="590.40" y="86.21" width="3.70" height="2.71" fill="#422ec0"/>
<rect x="593.80" y="86.21" width="3.70" height="2.71" fill="#412cba"/>
<rect x="597.20" y="86.21" width="7.10" height="2.71" fill="#402ab4"/>
<rect x="604.00" y="86.21" width="3.70" height="2.71" fill="#3f28ae"/>
<rect x="607.40" y="86.21" width="3.70" height="2.71" fill="#3e26a8"/>
<rect x="474.80" y="88.62" width="13.90" height="2.71" fill="#a4c83e"/>
<rect x="488.40" y="88.62" width="3.70" height="2.71" fill="#9dc943"/>
<rect x="491.80" y="88.62" width="3.70" height="2.71" fill="#96ca48"/>
<rect x="495.20" y="88.62" width="3.70" height="2.71" fill="#88cb53"/>
<rect x="498.60" y="88.62" width="3.70" height="2.71" fill="#81cc59"/>
<rect x="502.00" y="88.62" width="3.70" height="2.71" fill="#72cd64"/>
<rect x="505.40" y="88.62" width="3.70" height="2.71" fill="#64cd6f"/>
<rect x="508.80" y="88.62" width="3.70" height="2.71" fill="#57cc7a"/>
<rect x="512.20" y="88.62" width="3.70" height="2.71" fill="#45cb89"/>
<rect x="515.60" y="88.62" width="3.70" height="2.71" fill="#37c897"/>
<rect x="519.00" y="88.62" width="3.70" height="2.71" fill="#2fc5a3"/>
<rect x="522.40" y="88.62" width="3.70" height="2.71" fill="#1ec0b2"/>
<rect x="525.80" y="88.62" width="3.70" height="2.71" fill="#0bbdbd"/>
<rect x="529.20" y="88.62" width="3.70" height="2.71" fill="#01b9c7"/>
<rect x="532.60" y="88.62" width="3.70" height="2.71" fill="#0db3d3"/>
<rect x="536.00" y="88.62" width="3.70" height="2.71" fill="#1aabdd"/>
<rect x="539.40" y="88.62" width="3.70" height="2.71" fill="#23a0e5"/>
<rect x="542.80" y="88.62" width="3.70" height="2.71" fill="#2b91ef"/>
<rect x="546.20" y="88.62" width="3.70" height="2.71" fill="#2e87f7"/>
<rect x="549.60" y="88.62" width="3.70" height="2.71" fill="#327cfc"/>
<rect x="553.00" y="88.62" width="3.70" height="2.71" fill="#3e6fff"/>
<rect x="556.40" y="88.62" width="3.70" height="2.71" fill="#4563fd"/>
<rect x="559.80" y="88.62" width="3.70" height="2.71" fill="#475bf9"/>
<rect x="563.20" y="88.62" width="3.70" height="2.71" fill="#4852f4"/>
<rect x="566.60" y="88.62" width="3.70" height="2.71" fill="#484aee"/>
<rect x="570.00" y="88.62" width="3.70" height="2.71" fill="#4744e8"/>
<rect x="573.40" y="88.62" width="3.70" height="2.71" fill="#473ee2"/>
<rect x="576.80" y="88.62" width="3.70" height="2.71" fill="#4639da"/>
<rect x="580.20" y="88.62" width="3.70" height="2.71" fill="#4435d0"/>
<rect x="583.60" y="88.62" width="3.70" height="2.71" fill="#4332cb"/>
<rect x="587.00" y="88.62" width="3.70" height="2.71" fill="#422ec0"/>
<rect x="590.40" y="88.62" width="3.70" height="2.71" fill="#412cba"/>
<rect x="593.80" y="88.62" width="7.10" height="2.71" fill="#402ab4"/>
<rect x="600.60" y="88.62" width="3.70" height="2.71" fill="#3f28ae"/>
<rect x="604.00" y="88.62" width="7.10" height="2.71" fill="#3e26a8"/>
<rect x="474.80" y="91.03" width="13.90" height="2.71" fill="#a4c83e"/>
<rect x="488.40" y="91.03" width="3.70" height="2.71" fill="#9dc943"/>
<rect x="491.80" y="91.03" width="3.70" height="2.71" fill="#96ca48"/>
<rect x="495.20" y="91.03" width="3.70" height="2.71" fill="#88cb53"/>
<rect x="498.60" y="91.03" width="3.70" height="2.71" fill="#79cc5e"/>
<rect x="502.00" y="91.03" width="3.70" height="2.71" fill="#6bcd69"/>
<rect x="505.40" y="91.03" width="3.70" height="2.71" fill="#5dcc75"/>
<rect x="508.80" y="91.03" width="3.70" height="2.71" fill="#50cc7f"/>
<rect x="512.20" y="91.03" width="3.70" height="2.71" fill="#3fca8e"/>
<rect x="515.60" y="91.03" width="3.70" height="2.71" fill="#34c79b"/>
<rect x="519.00" y="91.03" width="3.70" height="2.71" fill="#2cc4a7"/>
<rect x="522.40" y="91.03" width="3.70" height="2.71" fill="#19bfb6"/>
<rect x="525.80" y="91.03" width="3.70" height="2.71" fill="#02bac3"/>
<rect x="529.20" y="91.03" width="3.70" height="2.71" fill="#04b6cd"/>
<rect x="532.60" y="91.03" width="3.70" height="2.71" fill="#15afd9"/>
<rect x="536.00" y="91.03" width="3.70" height="2.71" fill="#20a5e3"/>
<rect x="539.40" y="91.03" width="3.70" height="2.71" fill="#2797eb"/>
<rect x="542.80" y="91.03" width="3.70" height="2.71" fill="#2d8cf3"/>
<rect x="546.20" y="91.03" width="3.70" height="2.71" fill="#307efb"/>
<rect x="549.60" y="91.03" width="3.70" height="2.71" fill="#3b72ff"/>
<rect x="553.00" y="91.03" width="3.70" height="2.71" fill="#4466fd"/>
<rect x="556.40" y="91.03" width="3.70" height="2.71" fill="#475bf9"/>
<rect x="559.80" y="91.03" width="3.70" height="2.71" fill="#4852f4"/>
<rect x="563.20" y="91.03" width="3.70" height="2.71" fill="#484df0"/>
<rect x="566.60" y="91.03" width="3.70" height="2.71" fill="#4744e8"/>
<rect x="570.00" y="91.03" width="3.70" height="2.71" fill="#473ee2"/>
<rect x="573.40" y="91.03" width="3.70" height="2.71" fill="#4639da"/>
<rect x="576.80" y="91.03" width="3.70" height="2.71" fill="#4435d0"/>
<rect x="580.20" y="91.03" width="3.70" height="2.71" fill="#4332cb"/>
<rect x="583.60" y="91.03" width="3.70" height="2.71" fill="#422ec0"/>
<rect x="587.00" y="91.03" width="3.70" height="2.71" fill="#412cba"/>
<rect x="590.40" y="91.03" width="7.10" height="2.71" fill="#402ab4"/>
<rect x="597.20" y="91.03" width="3.70" height="2.71" fill="#3f28ae"/>
<rect x="600.60" y="91.03" width="10.50" height="2.71" fill="#3e26a8"/>
<rect x="474.80" y="93.44" width="13.90" height="2.71" fill="#a4c83e"/>
<rect x="488.40" y="93.44" width="3.70" height="2.71" fill="#9dc943"/>
<rect x="491.80" y="93.44" width="3.70" height="2.71" fill="#8fcb4e"/>
<rect x="495.20" y="93.44" width="3.70" height="2.71" fill="#88cb53"/>
<rect x="498.60" y="93.44" width="3.70" height="2.71" fill="#79cc5e"/>
<rect x="502.00" y="93.44" width="3.70" height="2.71" fill="#6bcd69"/>
<rect x="505.40" y="93.44" width="3.70" height="2.71" fill="#5dcc75"/>
<rect x="508.80" y="93.44" width="3.70" height="2.71" fill="#4acb84"/>
<rect x="512.20" y="93.44" width="3.70" height="2.71" fill="#3bc992"/>
<rect x="515.60" y="93.44" width="3.70" height="2.71" fill="#31c69f"/>
<rect x="519.00" y="93.44" width="3.70" height="2.71" fill="#24c1ae"/>
<rect x="522.40" y="93.44" width="3.70" height="2.71" fill="#0bbdbd"/>
<rect x="525.80" y="93.44" width="3.70" height="2.71" fill="#01b9c7"/>
<rect x="529.20" y="93.44" width="3.70" height="2.71" fill="#0db3d3"/>
<rect x="532.60" y="93.44" width="3.70" height="2.71" fill="#1ca9df"/>
<rect x="536.00" y="93.44" width="3.70" height="2.71" fill="#249ee6"/>
<rect x="539.40" y="93.44" width="3.70" height="2.71" fill="#2c8ff1"/>
<rect x="542.80" y="93.44" width="3.70" height="2.71" fill="#2e84f8"/>
<rect x="546.20" y="93.44" width="3.70" height="2.71" fill="#3875fe"/>
<rect x="549.60" y="93.44" width="3.70" height="2.71" fill="#4269fe"/>
<rect x="553.00" y="93.44" width="3.70" height="2.71" fill="#465efb"/>
<rect x="556.40" y="93.44" width="3.70" height="2.71" fill="#4755f6"/>
<rect x="559.80" y="93.44" width="3.70" height="2.71" fill="#484df0"/>
<rect x="563.20" y="93.44" width="3.70" height="2.71" fill="#4744e8"/>
<rect x="566.60" y="93.44" width="3.70" height="2.71" fill="#473ee2"/>
<rect x="570.00" y="93.44" width="3.70" height="2.71" fill="#4639da"/>
<rect x="573.40" y="93.44" width="3.70" height="2.71" fill="#4435d0"/>
<rect x="576.80" y="93.44" width="3.70" height="2.71" fill="#4332cb"/>
<rect x="580.20" y="93.44" width="3.70" height="2.71" fill="#422ec0"/>
<rect x="583.60" y="93.44" width="3.70" height="2.71" fill="#412cba"/>
<rect x="587.00" y="93.44" width="3.70" height="2.71" fill="#402ab4"/>
<rect x="590.40" y="93.44" width="7.10" height="2.71" fill="#3f28ae"/>
<rect x="597.20" y="93.44" width="13.90" height="2.71" fill="#3e26a8"/>
<rect x="474.80" y="95.84" width="13.90" height="2.71" fill="#a4c83e"/>
<rect x="488.40" y="95.84" width="3.70" height="2.71" fill="#9dc943"/>
<rect x="491.80" y="95.84" width="3.70" height="2.71" fill="#8fcb4e"/>
<rect x="495.20" y="95.84" width="3.70" height="2.71" fill="#81cc59"/>
<rect x="498.60" y="95.84" width="3.70" height="2.71" fill="#72cd64"/>
<rect x="502.00" y="95.84" width="3.70" height="2.71" fill="#64cd6f"/>
<rect x="505.40" y="95.84" width="3.70" height="2.71" fill="#57cc7a"/>
<rect x="508.80" y="95.84" width="3.70" height="2.71" fill="#45cb89"/>
<rect x="512.20" y="95.84" width="3.70" height="2.71" fill="#37c897"/>
<rect x="515.60" y="95.84" width="3.70" height="2.71" fill="#2cc4a7"/>
<rect x="519.00" y="95.84" width="3.70" height="2.71" fill="#19bfb6"/>
<rect x="522.40" y="95.84" width="3.70" height="2.71" fill="#02bac3"/>
<rect x="525.80" y="95.84" width="3.70" height="2.71" fill="#04b6cd"/>
<rect x="529.20" y="95.84" width="3.70" height="2.71" fill="#18addb"/>
<rect x="532.60" y="95.84" width="3.70" height="2.71" fill="#22a2e4"/>
<rect x="536.00" y="95.84" width="3.70" height="2.71" fill="#2994ed"/>
<rect x="539.40" y="95.84" width="3.70" height="2.71" fill="#2e87f7"/>
<rect x="542.80" y="95.84" width="3.70" height="2.71" fill="#327cfc"/>
<rect x="546.20" y="95.84" width="3.70" height="2.71" fill="#406cfe"/>
<rect x="549.60" y="95.84" width="3.70" height="2.71" fill="#4660fc"/>
<rect x="553.00" y="95.84" width="3.70" height="2.71" fill="#4758f8"/>
<rect x="556.40" y="95.84" width="3.70" height="2.71" fill="#484ff2"/>
<rect x="559.80" y="95.84" width="3.70" height="2.71" fill="#4747eb"/>
<rect x="563.20" y="95.84" width="3.70" height="2.71" fill="#473ee2"/>
<rect x="566.60" y="95.84" width="3.70" height="2.71" fill="#4639da"/>
<rect x="570.00" y="95.84" width="3.70" height="2.71" fill="#4435d0"/>
<rect x="573.40" y="95.84" width="3.70" height="2.71" fill="#4332cb"/>
<rect x="576.80" y="95.84" width="3.70" height="2.71" fill="#422ec0"/>
<rect x="580.20" y="95.84" width="3.70" height="2.71" fill="#412cba"/>
<rect x="583.60" y="95.84" width="3.70" height="2.71" fill="#402ab4"/>
<rect x="587.00" y="95.84" width="7.10" height="2.71" fill="#3f28ae"/>
<rect x="593.80" y="95.84" width="17.30" height="2.71" fill="#3e26a8"/>
<rect x="474.80" y="98.25" width="13.90" height="2.71" fill="#a4c83e"/>
<rect x="488.40" y="98.25" width="3.70" height="2.71" fill="#96ca48"/>
<rect x="491.80" y="98.25" width="3.70" height="2.71" fill="#8fcb4e"/>
<rect x="495.20" y="98.25" width="3.70" height="2.71" fill="#81cc59"/>
<rect x="498.60" y="98.25" width="3.70" height="2.71" fill="#72cd64"/>
<rect x="502.00" y="98.25" width="3.70" height="2.71" fill="#5dcc75"/>
<rect x="505.40" y="98.25" width="3.70" height="2.71" fill="#50cc7f"/>
<rect x="508.80" y="98.25" width="3.70" height="2.71" fill="#3fca8e"/>
<rect x="512.20" y="98.25" width="3.70" height="2.71" fill="#34c79b"/>
<rect x="515.60" y="98.25" width="3.70" height="2.71" fill="#24c1ae"/>
<rect x="519.00" y="98.25" width="3.70" height="2.71" fill="#0bbdbd"/>
<rect x="522.40" y="98.25" width="3.70" height="2.71" fill="#01b9c7"/>
<rect x="525.80" y="98.25" width="3.70" height="2.71" fill="#0db3d3"/>
<rect x="529.20" y="98.25" width="3.70" height="2.71" fill="#1ca9df"/>
<rect x="532.60" y="98.25" width="3.70" height="2.71" fill="#259be8"/>
<rect x="536.00" y="98.25" width="3.70" height="2.71" fill="#2d8cf3"/>
<rect x="539.40" y="98.25" width="3.70" height="2.71" fill="#307efb"/>
<rect x="542.80" y="98.25" width="3.70" height="2.71" fill="#3b72ff"/>
<rect x="546.20" y="98.25" width="3.70" height="2.71" fill="#4563fd"/>
<rect x="549.60" y="98.25" width="3.70" height="2.71" fill="#475bf9"/>
<rect x="553.00" y="98.25" width="3.70" height="2.71" fill="#484ff2"/>
<rect x="556.40" y="98.25" width="3.70" height="2.71" fill="#4747eb"/>
<rect x="559.80" y="98.25" width="3.70" height="2.71" fill="#4741e5"/>
<rect x="563.20" y="98.25" width="3.70" height="2.71" fill="#463cde"/>
<rect x="566.60" y="98.25" width="3.70" height="2.71" fill="#4537d5"/>
<rect x="570.00" y="98.25" width="3.70" height="2.71" fill="#4332cb"/>
<rect x="573.40" y="98.25" width="3.70" height="2.71" fill="#422ec0"/>
<rect x="576.80" y="98.25" width="3.70" height="2.71" fill="#412cba"/>
<rect x="580.20" y="98.25" width="3.70" height="2.71" fill="#402ab4"/>
<rect x="583.60" y="98.25" width="7.10" height="2.71" fill="#3f28ae"/>
<rect x="590.40" y="98.25" width="20.70" height="2.71" fill="#3e26a8"/>
<rect x="474.80" y="100.66" width="13.90" height="2.71" fill="#a4c83e"/>
<rect x="488.40" y="100.66" width="3.70" height="2.71" fill="#96ca48"/>
<rect x="491.80" y="100.66" width="3.70" height="2.71" fill="#88cb53"/>
<rect x="495.20" y="100.66" width="3.70" height="2.71" fill="#79cc5e"/>
<rect x="498.60" y="100.66" width="3.70" height="2.71" fill="#6bcd69"/>
<rect x="502.00" y="100.66" width="3.70" height="2.71" fill="#5dcc75"/>
<rect x="505.40" y="100.66" width="3.70" height="2.71" fill="#4acb84"/>
<rect x="508.80" y="100.66" width="3.70" height="2.71" fill="#3bc992"/>
<rect x="512.20" y="100.66" width="3.70" height="2.71" fill="#2fc5a3"/>
<rect x="515.60" y="100.66" width="3.70" height="2.71" fill="#19bfb6"/>
<rect x="519.00" y="100.66" width="3.70" height="2.71" fill="#06bcc0"/>
<rect x="522.40" y="100.66" width="3.70" height="2.71" fill="#04b6cd"/>
<rect x="525.80" y="100.66" width="3.70" height="2.71" fill="#18addb"/>
<rect x="529.20" y="100.66" width="3.70" height="2.71" fill="#23a0e5"/>
<rect x="532.60" y="100.66" width="3.70" height="2.71" fill="#2b91ef"/>
<rect x="536.00" y="100.66" width="3.70" height="2.71" fill="#2e84f8"/>
<rect x="539.40" y="100.66" width="3.70" height="2.71" fill="#3875fe"/>
<rect x="542.80" y="100.66" width="3.70" height="2.71" fill="#4269fe"/>
<rect x="546.20" y="100.66" width="3.70" height="2.71" fill="#465efb"/>
<rect x="549.60" y="100.66" width="3.70" height="2.71" fill="#4852f4"/>
<rect x="553.00" y="100.66" width="3.70" height="2.71" fill="#484aee"/>
<rect x="556.40" y="100.66" width="3.70" height="2.71" fill="#4741e5"/>
<rect x="559.80" y="100.66" width="3.70" height="2.71" fill="#463cde"/>
<rect x="563.20" y="100.66" width="3.70" height="2.71" fill="#4537d5"/>
<rect x="566.60" y="100.66" width="3.70" height="2.71" fill="#4332cb"/>
<rect x="570.00" y="100.66" width="3.70" height="2.71" fill="#422ec0"/>
<rect x="573.40" y="100.66" width="3.70" height="2.71" fill="#412cba"/>
<rect x="576.80" y="100.66" width="3.70" height="2.71" fill="#402ab4"/>
<rect x="580.20" y="100.66" width="7.10" height="2.71" fill="#3f28ae"/>
<rect x="587.00" y="100.66" width="24.10" height="2.71" fill="#3e26a8"/>
<rect x="474.80" y="103.06" width="13.90" height="2.71" fill="#a4c83e"/>
<rect x="488.40" y="103.06" width="3.70" height="2.71" fill="#96ca48"/>
<rect x="491.80" y="103.06" width="3.70" height="2.71" fill="#88cb53"/>
<rect x="495.20" y="103.06" width="3.70" height="2.71" fill="#79cc5e"/>
<rect x="498.60" y="103.06" width="3.70" height="2.71" fill="#64cd6f"/>
<rect x="502.00" y="103.06" width="3.70" height="2.71" fill="#57cc7a"/>
<rect x="505.40" y="103.06" width="3.70" height="2.71" fill="#45cb89"/>
<rect x="508.80" y="103.06" width="3.70" height="2.71" fill="#34c79b"/>
<rect x="512.20" y="103.06" width="3.70" height="2.71" fill="#28c2ab"/>
<rect x="515.60" y="103.06" width="3.70" height="2.71" fill="#12beb9"/>
<rect x="519.00" y="103.06" width="3.70" height="2.71" fill="#01b9c7"/>
<rect x="522.40" y="103.06" width="3.70" height="2.71" fill="#12b1d6"/>
<rect x="525.80" y="103.06" width="3.70" height="2.71" fill="#1ea7e1"/>
<rect x="529.20" y="103.06" width="3.70" height="2.71" fill="#2797eb"/>
<rect x="532.60" y="103.06" width="3.70" height="2.71" fill="#2d8af5"/>
<rect x="536.00" y="103.06" width="3.70" height="2.71" fill="#327cfc"/>
<rect x="539.40" y="103.06" width="3.70" height="2.71" fill="#406cfe"/>
<rect x="542.80" y="103.06" width="3.70" height="2.71" fill="#4660fc"/>
<rect x="546.20" y="103.06" width="3.70" height="2.71" fill="#4755f6"/>
<rect x="549.60" y="103.06" width="3.70" height="2.71" fill="#484aee"/>
<rect x="553.00" y="103.06" width="3.70" height="2.71" fill="#4744e8"/>
<rect x="556.40" y="103.06" width="3.70" height="2.71" fill="#463cde"/>
<rect x="559.80" y="103.06" width="3.70" height="2.71" fill="#4537d5"/>
<rect x="563.20" y="103.06" width="3.70" height="2.71" fill="#4332cb"/>
<rect x="566.60" y="103.06" width="3.70" height="2.71" fill="#4330c5"/>
<rect x="570.00" y="103.06" width="3.70" height="2.71" fill="#412cba"/>
<rect x="573.40" y="103.06" width="3.70" height="2.71" fill="#402ab4"/>
<rect x="576.80" y="103.06" width="7.10" height="2.71" fill="#3f28ae"/>
<rect x="583.60" y="103.06" width="27.50" height="2.71" fill="#3e26a8"/>
<rect x="474.80" y="105.47" width="10.50" height="2.71" fill="#a4c83e"/>
<rect x="485.00" y="105.47" width="3.70" height="2.71" fill="#9dc943"/>
<rect x="488.40" y="105.47" width="3.70" height="2.71" fill="#8fcb4e"/>
<rect x="491.80" y="105.47" width="3.70" height="2.71" fill="#81cc59"/>
<rect x="495.20" y="105.47" width="3.70" height="2.71" fill="#72cd64"/>
<rect x="498.60" y="105.47" width="3.70" height="2.71" fill="#64cd6f"/>
<rect x="502.00" y="105.47" width="3.70" height="2.71" fill="#50cc7f"/>
<rect x="505.40" y="105.47" width="3.70" height="2.71" fill="#3fca8e"/>
<rect x="508.80" y="105.47" width="3.70" height="2.71" fill="#31c69f"/>
<rect x="512.20" y="105.47" width="3.70" height="2.71" fill="#1ec0b2"/>
<rect x="515.60" y="105.47" width="3.70" height="2.71" fill="#06bcc0"/>
<rect x="519.00" y="105.47" width="3.70" height="2.71" fill="#08b5d0"/>
<rect x="522.40" y="105.47" width="3.70" height="2.71" fill="#1aabdd"/>
<rect x="525.80" y="105.47" width="3.70" height="2.71" fill="#249ee6"/>
<rect x="529.20" y="105.47" width="3.70" height="2.71" fill="#2c8ff1"/>
<rect x="532.60" y="105.47" width="3.70" height="2.71" fill="#307efb"/>
<rect x="536.00" y="105.47" width="3.70" height="2.71" fill="#3e6fff"/>
<rect x="539.40" y="105.47" width="3.70" height="2.71" fill="#4563fd"/>
<rect x="542.80" y="105.47" width="3.70" height="2.71" fill="#4758f8"/>
<rect x="546.20" y="105.47" width="3.70" height="2.71" fill="#484df0"/>
<rect x="549.60" y="105.47" width="3.70" height="2.71" fill="#4744e8"/>
<rect x="553.00" y="105.47" width="3.70" height="2.71" fill="#463cde"/>
<rect x="556.40" y="105.47" width="3.70" height="2.71" fill="#4537d5"/>
<rect x="559.80" y="105.47" width="3.70" height="2.71" fill="#4332cb"/>
<rect x="563.20" y="105.47" width="3.70" height="2.71" fill="#4330c5"/>
<rect x="566.60" y="105.47" width="3.70" height="2.71" fill="#412cba"/>
<rect x="570.00" y="105.47" width="3.70" height="2.71" fill="#402ab4"/>
<rect x="573.40" y="105.47" width="7.10" height="2.71" fill="#3f28ae"/>
<rect x="580.20" y="105.47" width="30.90" height="2.71" fill="#3e26a8"/>
<rect x="474.80" y="107.88" width="10.50" height="2.71" fill="#a4c83e"/>
<rect x="485.00" y="107.88" width="3.70" height="2.71" fill="#9dc943"/>
<rect x="488.40" y="107.88" width="3.70" height="2.71" fill="#8fcb4e"/>
<rect x="491.80" y="107.88" width="3.70" height="2.71" fill="#81cc59"/>
<rect x="495.20" y="107.88" width="3.70" height="2.71" fill="#6bcd69"/>
<rect x="498.60" y="107.88" width="3.70" height="2.71" fill="#5dcc75"/>
<rect x="502.00" y="107.88" width="3.70" height="2.71" fill="#4acb84"/>
<rect x="505.40" y="107.88" width="3.70" height="2.71" fill="#37c897"/>
<rect x="508.80" y="107.88" width="3.70" height="2.71" fill="#2cc4a7"/>
<rect x="512.20" y="107.88" width="3.70" height="2.71" fill="#12beb9"/>
<rect x="515.60" y="107.88" width="3.70" height="2.71" fill="#01b9c7"/>
<rect x="519.00" y="107.88" width="3.70" height="2.71" fill="#12b1d6"/>
<rect x="522.40" y="107.88" width="3.70" height="2.71" fill="#20a5e3"/>
<rect x="525.80" y="107.88" width="3.70" height="2.71" fill="#2994ed"/>
<rect x="529.20" y="107.88" width="3.70" height="2.71" fill="#2e84f8"/>
<rect x="532.60" y="107.88" width="3.70" height="2.71" fill="#3875fe"/>
<rect x="536.00" y="107.88" width="3.70" height="2.71" fill="#4466fd"/>
<rect x="539.40" y="107.88" width="3.70" height="2.71" fill="#475bf9"/>
<rect x="542.80" y="107.88" width="3.70" height="2.71" fill="#484ff2"/>
<rect x="546.20" y="107.88" width="3.70" height="2.71" fill="#4747eb"/>
<rect x="549.60" y="107.88" width="3.70" height="2.71" fill="#473ee2"/>
<rect x="553.00" y="107.88" width="3.70" height="2.71" fill="#4537d5"/>
<rect x="556.40" y="107.88" width="3.70" height="2.71" fill="#4332cb"/>
<rect x="559.80" y="107.88" width="3.70" height="2.71" fill="#4330c5"/>
<rect x="563.20" y="107.88" width="3.70" height="2.71" fill="#412cba"/>
<rect x="566.60" y="107.88" width="3.70" height="2.71" fill="#402ab4"/>
<rect x="570.00" y="107.88" width="3.70" height="2.71" fill="#3f28ae"/>
<rect x="573.40" y="107.88" width="37.70" height="2.71" fill="#3e26a8"/>
<rect x="474.80" y="110.29" width="10.50" height="2.71" fill="#a4c83e"/>
<rect x="485.00" y="110.29" width="3.70" height="2.71" fill="#9dc943"/>
<rect x="488.40" y="110.29" width="3.70" height="2.71" fill="#8fcb4e"/>
<rect x="491.80" y="110.29" width="3.70" height="2.71" fill="#79cc5e"/>
<rect x="495.20" y="110.29" width="3.70" height="2.71" fill="#6bcd69"/>
<rect x="498.60" y="110.29" width="3.70" height="2.71" fill="#57cc7a"/>
<rect x="502.00" y="110.29" width="3.70" height="2.71" fill="#45cb89"/>
<rect x="505.40" y="110.29" width="3.70" height="2.71" fill="#34c79b"/>
<rect x="508.80" y="110.29" width="3.70" height="2.71" fill="#1ec0b2"/>
<rect x="512.20" y="110.29" width="3.70" height="2.71" fill="#06bcc0"/>
<rect x="515.60" y="110.29" width="3.70" height="2.71" fill="#08b5d0"/>
<rect x="519.00" y="110.29" width="3.70" height="2.71" fill="#1aabdd"/>
<rect x="522.40" y="110.29" width="3.70" height="2.71" fill="#259be8"/>
<rect x="525.80" y="110.29" width="3.70" height="2.71" fill="#2d8af5"/>
<rect x="529.20" y="110.29" width="3.70" height="2.71" fill="#3578fd"/>
<rect x="532.60" y="110.29" width="3.70" height="2.71" fill="#4269fe"/>
<rect x="536.00" y="110.29" width="3.70" height="2.71" fill="#465efb"/>
<rect x="539.40" y="110.29" width="3.70" height="2.71" fill="#4852f4"/>
<rect x="542.80" y="110.29" width="3.70" height="2.71" fill="#4747eb"/>
<rect x="546.20" y="110.29" width="3.70" height="2.71" fill="#473ee2"/>
<rect x="549.60" y="110.29" width="3.70" height="2.71" fill="#4639da"/>
<rect x="553.00" y="110.29" width="3.70" height="2.71" fill="#4332cb"/>
<rect x="556.40" y="110.29" width="3.70" height="2.71" fill="#4330c5"/>
<rect x="559.80" y="110.29" width="3.70" height="2.71" fill="#412cba"/>
<rect x="563.20" y="110.29" width="3.70" height="2.71" fill="#402ab4"/>
<rect x="566.60" y="110.29" width="3.70" height="2.71" fill="#3f28ae"/>
<rect x="570.00" y="110.29" width="41.10" height="2.71" fill="#3e26a8"/>
<rect x="474.80" y="112.69" width="10.50" height="2.71" fill="#a4c83e"/>
<rect x="485.00" y="112.69" width="3.70" height="2.71" fill="#96ca48"/>
<rect x="488.40" y="112.69" width="3.70" height="2.71" fill="#88cb53"/>
<rect x="491.80" y="112.69" width="3.70" height="2.71" fill="#79cc5e"/>
<rect x="495.20" y="112.69" width="3.70" height="2.71" fill="#64cd6f"/>
<rect x="498.60" y="112.69" width="3.70" height="2.71" fill="#50cc7f"/>
<rect x="502.00" y="112.69" width="3.70" height="2.71" fill="#3bc992"/>
<rect x="505.40" y="112.69" width="3.70" height="2.71" fill="#2cc4a7"/>
<rect x="508.80" y="112.69" width="3.70" height="2.71" fill="#12beb9"/>
<rect x="512.20" y="112.69" width="3.70" height="2.71" fill="#01b9c7"/>
<rect x="515.60" y="112.69" width="3.70" height="2.71" fill="#15afd9"/>
<rect x="519.00" y="112.69" width="3.70" height="2.71" fill="#22a2e4"/>
<rect x="522.40" y="112.69" width="3.70" height="2.71" fill="#2b91ef"/>
<rect x="525.80" y="112.69" width="3.70" height="2.71" fill="#307efb"/>
<rect x="529.20" y="112.69" width="3.70" height="2.71" fill="#3e6fff"/>
<rect x="532.60" y="112.69" width="3.70" height="2.71" fill="#4660fc"/>
<rect x="536.00" y="112.69" width="3.70" height="2.71" fill="#4852f4"/>
<rect x="539.40" y="112.69" width="3.70" height="2.71" fill="#484aee"/>
<rect x="542.80" y="112.69" width="3.70" height="2.71" fill="#4741e5"/>
<rect x="546.20" y="112.69" width="3.70" height="2.71" fill="#4639da"/>
<rect x="549.60" y="112.69" width="3.70" height="2.71" fill="#4435d0"/>
<rect x="553.00" y="112.69" width="3.70" height="2.71" fill="#4330c5"/>
<rect x="556.40" y="112.69" width="3.70" height="2.71" fill="#412cba"/>
<rect x="559.80" y="112.69" width="3.70" height="2.71" fill="#402ab4"/>
<rect x="563.20" y="112.69" width="3.70" height="2.71" fill="#3f28ae"/>
<rect x="566.60" y="112.69" width="44.50" height="2.71" fill="#3e26a8"/>
<rect x="474.80" y="115.10" width="10.50" height="2.71" fill="#a4c83e"/>
<rect x="485.00" y="115.10" width="3.70" height="2.71" fill="#96ca48"/>
<rect x="488.40" y="115.10" width="3.70" height="2.71" fill="#88cb53"/>
<rect x="491.80" y="115.10" width="3.70" height="2.71" fill="#72cd64"/>
<rect x="495.20" y="115.10" width="3.70" height="2.71" fill="#5dcc75"/>
<rect x="498.60" y="115.10" width="3.70" height="2.71" fill="#4acb84"/>
<rect x="502.00" y="115.10" width="3.70" height="2.71" fill="#34c79b"/>
<rect x="505.40" y="115.10" width="3.70" height="2.71" fill="#24c1ae"/>
<rect x="508.80" y="115.10" width="3.70" height="2.71" fill="#06bcc0"/>
<rect x="512.20" y="115.10" width="3.70" height="2.71" fill="#08b5d0"/>
<rect x="515.60" y="115.10" width="3.70" height="2.71" fill="#1ca9df"/>
<rect x="519.00" y="115.10" width="3.70" height="2.71" fill="#2797eb"/>
<rect x="522.40" y="115.10" width="3.70" height="2.71" fill="#2e87f7"/>
<rect x="525.80" y="115.10" width="3.70" height="2.71" fill="#3b72ff"/>
<rect x="529.20" y="115.10" width="3.70" height="2.71" fill="#4563fd"/>
<rect x="532.60" y="115.10" width="3.70" height="2.71" fill="#4755f6"/>
<rect x="536.00" y="115.10" width="3.70" height="2.71" fill="#484aee"/>
<rect x="539.40" y="115.10" width="3.70" height="2.71" fill="#4741e5"/>
<rect x="542.80" y="115.10" width="3.70" height="2.71" fill="#4639da"/>
<rect x="546.20" y="115.10" width="3.70" height="2.71" fill="#4435d0"/>
<rect x="549.60" y="115.10" width="3.70" height="2.71" fill="#4330c5"/>
<rect x="553.00" y="115.10" width="3.70" height="2.71" fill="#412cba"/>
<rect x="556.40" y="115.10" width="3.70" height="2.71" fill="#402ab4"/>
<rect x="559.80" y="115.10" width="3.70" height="2.71" fill="#3f28ae"/>
<rect x="563.20" y="115.10" width="47.90" height="2.71" fill="#3e26a8"/>
<rect x="474.80" y="117.51" width="10.50" height="2.71" fill="#a4c83e"/>
<rect x="485.00" y="117.51" width="3.70" height="2.71" fill="#8fcb4e"/>
<rect x="488.40" y="117.51" width="3.70" height="2.71" fill="#81cc59"/>
<rect x="491.80" y="117.51" width="3.70" height="2.71" fill="#6bcd69"/>
<rect x="495.20" y="117.51" width="3.70" height="2.71" fill="#57cc7a"/>
<rect x="498.60" y="117.51" width="3.70" height="2.71" fill="#3fca8e"/>
<rect x="502.00" y="117.51" width="3.70" height="2.71" fill="#2fc5a3"/>
<rect x="505.40" y="117.51" width="3.70" height="2.71" fill="#19bfb6"/>
<rect x="508.80" y="117.51" width="3.70" height="2.71" fill="#01b9c7"/>
<rect x="512.20" y="117.51" width="3.70" height="2.71" fill="#15afd9"/>
<rect x="515.60" y="117.51" width="3.70" height="2.71" fill="#249ee6"/>
<rect x="519.00" y="117.51" width="3.70" height="2.71" fill="#2d8cf3"/>
<rect x="522.40" y="117.51" width="3.70" height="2.71" fill="#3578fd"/>
<rect x="525.80" y="117.51" width="3.70" height="2.71" fill="#4269fe"/>
<rect x="529.20" y="117.51" width="3.70" height="2.71" fill="#4758f8"/>
<rect x="532.60" y="117.51" width="3.70" height="2.71" fill="#484df0"/>
<rect x="536.00" y="117.51" width="3.70" height="2.71" fill="#4741e5"/>
<rect x="539.40" y="117.51" width="3.70" height="2.71" fill="#4639da"/>
<rect x="542.80" y="117.51" width="3.70" height="2.71" fill="#4435d0"/>
<rect x="546.20" y="117.51" width="3.70" height="2.71" fill="#4330c5"/>
<rect x="549.60" y="117.51" width="3.70" height="2.71" fill="#412cba"/>
<rect x="553.00" y="117.51" width="3.70" height="2.71" fill="#402ab4"/>
<rect x="556.40" y="117.51" width="3.70" height="2.71" fill="#3f28ae"/>
<rect x="559.80" y="117.51" width="51.30" height="2.71" fill="#3e26a8"/>
<rect x="474.80" y="119.92" width="7.10" height="2.71" fill="#a4c83e"/>
<rect x="481.60" y="119.92" width="3.70" height="2.71" fill="#9dc943"/>
<rect x="485.00" y="119.92" width="3.70" height="2.71" fill="#8fcb4e"/>
<rect x="488.40" y="119.92" width="3.70" height="2.71" fill="#79cc5e"/>
<rect x="491.80" y="119.92" width="3.70" height="2.71" fill="#64cd6f"/>
<rect x="495.20" y="119.92" width="3.70" height="2.71" fill="#50cc7f"/>
<rect x="498.60" y="119.92" width="3.70" height="2.71" fill="#37c897"/>
<rect x="502.00" y="119.92" width="3.70" height="2.71" fill="#28c2ab"/>
<rect x="505.40" y="119.92" width="3.70" height="2.71" fill="#06bcc0"/>
<rect x="508.80" y="119.92" width="3.70" height="2.71" fill="#08b5d0"/>
<rect x="512.20" y="119.92" width="3.70" height="2.71" fill="#1ea7e1"/>
<rect x="515.60" y="119.92" width="3.70" height="2.71" fill="#2994ed"/>
<rect x="519.00" y="119.92" width="3.70" height="2.71" fill="#2f81fa"/>
<rect x="522.40" y="119.92" width="3.70" height="2.71" fill="#406cfe"/>
<rect x="525.80" y="119.92" width="3.70" height="2.71" fill="#465efb"/>
<rect x="529.20" y="119.92" width="3.70" height="2.71" fill="#484ff2"/>
<rect x="532.60" y="119.92" width="3.70" height="2.71" fill="#4744e8"/>
<rect x="536.00" y="119.92" width="3.70" height="2.71" fill="#463cde"/>
<rect x="539.40" y="119.92" width="3.70" height="2.71" fill="#4435d0"/>
<rect x="542.80" y="119.92" width="3.70" height="2.71" fill="#4330c5"/>
<rect x="546.20" y="119.92" width="3.70" height="2.71" fill="#412cba"/>
<rect x="549.60" y="119.92" width="3.70" height="2.71" fill="#402ab4"/>
<rect x="553.00" y="119.92" width="3.70" height="2.71" fill="#3f28ae"/>
<rect x="556.40" y="119.92" width="54.70" height="2.71" fill="#3e26a8"/>
<rect x="474.80" y="122.32" width="7.10" height="2.71" fill="#a4c83e"/>
<rect x="481.60" y="122.32" width="3.70" height="2.71" fill="#9dc943"/>
<rect x="485.00" y="122.32" width="3.70" height="2.71" fill="#88cb53"/>
<rect x="488.40" y="122.32" width="3.70" height="2.71" fill="#72cd64"/>
<rect x="491.80" y="122.32" width="3.70" height="2.71" fill="#5dcc75"/>
<rect x="495.20" y="122.32" width="3.70" height="2.71" fill="#45cb89"/>
<rect x="498.60" y="122.32" width="3.70" height="2.71" fill="#31c69f"/>
<rect x="502.00" y="122.32" width="3.70" height="2.71" fill="#19bfb6"/>
<rect x="505.40" y="122.32" width="3.70" height="2.71" fill="#01b9c7"/>
<rect x="508.80" y="122.32" width="3.70" height="2.71" fill="#18addb"/>
<rect x="512.20" y="122.32" width="3.70" height="2.71" fill="#259be8"/>
<rect x="515.60" y="122.32" width="3.70" height="2.71" fill="#2e87f7"/>
<rect x="519.00" y="122.32" width="3.70" height="2.71" fill="#3b72ff"/>
<rect x="522.40" y="122.32" width="3.70" height="2.71" fill="#4660fc"/>
<rect x="525.80" y="122.32" width="3.70" height="2.71" fill="#4852f4"/>
<rect x="529.20" y="122.32" width="3.70" height="2.71" fill="#4747eb"/>
<rect x="532.60" y="122.32" width="3.70" height="2.71" fill="#463cde"/>
<rect x="536.00" y="122.32" width="3.70" height="2.71" fill="#4435d0"/>
<rect x="539.40" y="122.32" width="3.70" height="2.71" fill="#4330c5"/>
<rect x="542.80" y="122.32" width="3.70" height="2.71" fill="#412cba"/>
<rect x="546.20" y="122.32" width="3.70" height="2.71" fill="#402ab4"/>
<rect x="549.60" y="122.32" width="3.70" height="2.71" fill="#3f28ae"/>
<rect x="553.00" y="122.32" width="58.10" height="2.71" fill="#3e26a8"/>
<rect x="474.80" y="124.73" width="7.10" height="2.71" fill="#a4c83e"/>
<rect x="481.60" y="124.73" width="3.70" height="2.71" fill="#96ca48"/>
<rect x="485.00" y="124.73" width="3.70" height="2.71" fill="#88cb53"/>
<rect x="488.40" y="124.73" width="3.70" height="2.71" fill="#6bcd69"/>
<rect x="491.80" y="124.73" width="3.70" height="2.71" fill="#57cc7a"/>
<rect x="495.20" y="124.73" width="3.70" height="2.71" fill="#3bc992"/>
<rect x="498.60" y="124.73" width="3.70" height="2.71" fill="#2cc4a7"/>
<rect x="502.00" y="124.73" width="3.70" height="2.71" fill="#06bcc0"/>
<rect x="505.40" y="124.73" width="3.70" height="2.71" fill="#0db3d3"/>
<rect x="508.80" y="124.73" width="3.70" height="2.71" fill="#20a5e3"/>
<rect x="512.20" y="124.73" width="3.70" height="2.71" fill="#2c8ff1"/>
<rect x="515.60" y="124.73" width="3.70" height="2.71" fill="#3578fd"/>
<rect x="519.00" y="124.73" width="3.70" height="2.71" fill="#4466fd"/>
<rect x="522.40" y="124.73" width="3.70" height="2.71" fill="#4755f6"/>
<rect x="525.80" y="124.73" width="3.70" height="2.71" fill="#4747eb"/>
<rect x="529.20" y="124.73" width="3.70" height="2.71" fill="#463cde"/>
<rect x="532.60" y="124.73" width="3.70" height="2.71" fill="#4435d0"/>
<rect x="536.00" y="124.73" width="3.70" height="2.71" fill="#4330c5"/>
<rect x="539.40" y="124.73" width="3.70" height="2.71" fill="#412cba"/>
<rect x="542.80" y="124.73" width="3.70" height="2.71" fill="#402ab4"/>
<rect x="546.20" y="124.73" width="3.70" height="2.71" fill="#3f28ae"/>
<rect x="549.60" y="124.73" width="61.50" height="2.71" fill="#3e26a8"/>
<rect x="474.80" y="127.14" width="7.10" height="2.71" fill="#a4c83e"/>
<rect x="481.60" y="127.14" width="3.70" height="2.71" fill="#96ca48"/>
<rect x="485.00" y="127.14" width="3.70" height="2.71" fill="#81cc59"/>
<rect x="488.40" y="127.14" width="3.70" height="2.71" fill="#64cd6f"/>
<rect x="491.80" y="127.14" width="3.70" height="2.71" fill="#50cc7f"/>
<rect x="495.20" y="127.14" width="3.70" height="2.71" fill="#34c79b"/>
<rect x="498.60" y="127.14" width="3.70" height="2.71" fill="#1ec0b2"/>
<rect x="502.00" y="127.14" width="3.70" height="2.71" fill="#01b8ca"/>
<rect x="505.40" y="127.14" width="3.70" height="2.71" fill="#1aabdd"/>
<rect x="508.80" y="127.14" width="3.70" height="2.71" fill="#2797eb"/>
<rect x="512.20" y="127.14" width="3.70" height="2.71" fill="#2f81fa"/>
<rect x="515.60" y="127.14" width="3.70" height="2.71" fill="#4269fe"/>
<rect x="519.00" y="127.14" width="3.70" height="2.71" fill="#4758f8"/>
<rect x="522.40" y="127.14" width="3.70" height="2.71" fill="#484aee"/>
<rect x="525.80" y="127.14" width="3.70" height="2.71" fill="#473ee2"/>
<rect x="529.20" y="127.14" width="3.70" height="2.71" fill="#4537d5"/>
<rect x="532.60" y="127.14" width="3.70" height="2.71" fill="#4330c5"/>
<rect x="536.00" y="127.14" width="3.70" height="2.71" fill="#412cba"/>
<rect x="539.40" y="127.14" width="3.70" height="2.71" fill="#3f28ae"/>
<rect x="542.80" y="127.14" width="68.30" height="2.71" fill="#3e26a8"/>
<rect x="474.80" y="129.55" width="7.10" height="2.71" fill="#a4c83e"/>
<rect x="481.60" y="129.55" width="3.70" height="2.71" fill="#8fcb4e"/>
<rect x="485.00" y="129.55" width="3.70" height="2.71" fill="#79cc5e"/>
<rect x="488.40" y="129.55" width="3.70" height="2.71" fill="#5dcc75"/>
<rect x="491.80" y="129.55" width="3.70" height="2.71" fill="#45cb89"/>
<rect x="495.20" y="129.55" width="3.70" height="2.71" fill="#2fc5a3"/>
<rect x="498.60" y="129.55" width="3.70" height="2.71" fill="#0bbdbd"/>
<rect x="502.00" y="129.55" width="3.70" height="2.71" fill="#0db3d3"/>
<rect x="505.40" y="129.55" width="3.70" height="2.71" fill="#23a0e5"/>
<rect x="508.80" y="129.55" width="3.70" height="2.71" fill="#2e87f7"/>
<rect x="512.20" y="129.55" width="3.70" height="2.71" fill="#3e6fff"/>
<rect x="515.60" y="129.55" width="3.70" height="2.71" fill="#475bf9"/>
<rect x="519.00" y="129.55" width="3.70" height="2.71" fill="#484df0"/>
<rect x="522.40" y="129.55" width="3.70" height="2.71" fill="#473ee2"/>
<rect x="525.80" y="129.55" width="3.70" height="2.71" fill="#4537d5"/>
<rect x="529.20" y="129.55" width="3.70" height="2.71" fill="#4330c5"/>
<rect x="532.60" y="129.55" width="3.70" height="2.71" fill="#412cba"/>
<rect x="536.00" y="129.55" width="3.70" height="2.71" fill="#3f28ae"/>
<rect x="539.40" y="129.55" width="71.70" height="2.71" fill="#3e26a8"/>
<rect x="474.80" y="131.95" width="7.10" height="2.71" fill="#a4c83e"/>
<rect x="481.60" y="131.95" width="3.70" height="2.71" fill="#8fcb4e"/>
<rect x="485.00" y="131.95" width="3.70" height="2.71" fill="#72cd64"/>
<rect x="488.40" y="131.95" width="3.70" height="2.71" fill="#57cc7a"/>
<rect x="491.80" y="131.95" width="3.70" height="2.71" fill="#3bc992"/>
<rect x="495.20" y="131.95" width="3.70" height="2.71" fill="#1ec0b2"/>
<rect x="498.60" y="131.95" width="3.70" height="2.71" fill="#01b8ca"/>
<rect x="502.00" y="131.95" width="3.70" height="2.71" fill="#1ca9df"/>
<rect x="505.40" y="131.95" width="3.70" height="2.71" fill="#2b91ef"/>
<rect x="508.80" y="131.95" width="3.70" height="2.71" fill="#3578fd"/>
<rect x="512.20" y="131.95" width="3.70" height="2.71" fill="#4660fc"/>
<rect x="515.60" y="131.95" width="3.70" height="2.71" fill="#484ff2"/>
<rect x="519.00" y="131.95" width="3.70" height="2.71" fill="#4741e5"/>
<rect x="522.40" y="131.95" width="3.70" height="2.71" fill="#4537d5"/>
<rect x="525.80" y="131.95" width="3.70" height="2.71" fill="#4330c5"/>
<rect x="529.20" y="131.95" width="3.70" height="2.71" fill="#412cba"/>
<rect x="532.60" y="131.95" width="3.70" height="2.71" fill="#3f28ae"/>
<rect x="536.00" y="131.95" width="75.10" height="2.71" fill="#3e26a8"/>
<rect x="474.80" y="134.36" width="3.70" height="2.71" fill="#a4c83e"/>
<rect x="478.20" y="134.36" width="3.70" height="2.71" fill="#9dc943"/>
<rect x="481.60" y="134.36" width="3.70" height="2.71" fill="#88cb53"/>
<rect x="485.00" y="134.36" width="3.70" height="2.71" fill="#6bcd69"/>
<rect x="488.40" y="134.36" width="3.70" height="2.71" fill="#4acb84"/>
<rect x="491.80" y="134.36" width="3.70" height="2.71" fill="#31c69f"/>
<rect x="495.20" y="134.36" width="3.70" height="2.71" fill="#0bbdbd"/>
<rect x="498.60" y="134.36" width="3.70" height="2.71" fill="#12b1d6"/>
<rect x="502.00" y="134.36" width="3.70" height="2.71" fill="#259be8"/>
<rect x="505.40" y="134.36" width="3.70" height="2.71" fill="#2f81fa"/>
<rect x="508.80" y="134.36" width="3.70" height="2.71" fill="#4466fd"/>
<rect x="512.20" y="134.36" width="3.70" height="2.71" fill="#4852f4"/>
<rect x="515.60" y="134.36" width="3.70" height="2.71" fill="#4744e8"/>
<rect x="519.00" y="134.36" width="3.70" height="2.71" fill="#4537d5"/>
<rect x="522.40" y="134.36" width="3.70" height="2.71" fill="#4330c5"/>
<rect x="525.80" y="134.36" width="3.70" height="2.71" fill="#412cba"/>
<rect x="529.20" y="134.36" width="3.70" height="2.71" fill="#3f28ae"/>
<rect x="532.60" y="134.36" width="78.50" height="2.71" fill="#3e26a8"/>
<rect x="474.80" y="136.77" width="3.70" height="2.71" fill="#a4c83e"/>
<rect x="478.20" y="136.77" width="3.70" height="2.71" fill="#9dc943"/>
<rect x="481.60" y="136.77" width="3.70" height="2.71" fill="#81cc59"/>
<rect x="485.00" y="136.77" width="3.70" height="2.71" fill="#64cd6f"/>
<rect x="488.40" y="136.77" width="3.70" height="2.71" fill="#3fca8e"/>
<rect x="491.80" y="136.77" width="3.70" height="2.71" fill="#24c1ae"/>
<rect x="495.20" y="136.77" width="3.70" height="2.71" fill="#01b8ca"/>
<rect x="498.60" y="136.77" width="3.70" height="2.71" fill="#1ea7e1"/>
<rect x="502.00" y="136.77" width="3.70" height="2.71" fill="#2d8af5"/>
<rect x="505.40" y="136.77" width="3.70" height="2.71" fill="#406cfe"/>
<rect x="508.80" y="136.77" width="3.70" height="2.71" fill="#4755f6"/>
<rect x="512.20" y="136.77" width="3.70" height="2.71" fill="#4744e8"/>
<rect x="515.60" y="136.77" width="3.70" height="2.71" fill="#4639da"/>
<rect x="519.00" y="136.77" width="3.70" height="2.71" fill="#4330c5"/>
<rect x="522.40" y="136.77" width="3.70" height="2.71" fill="#412cba"/>
<rect x="525.80" y="136.77" width="3.70" height="2.71" fill="#3f28ae"/>
<rect x="529.20" y="136.77" width="81.90" height="2.71" fill="#3e26a8"/>
<rect x="474.80" y="139.18" width="3.70" height="2.71" fill="#a4c83e"/>
<rect x="478.20" y="139.18" width="3.70" height="2.71" fill="#96ca48"/>
<rect x="481.60" y="139.18" width="3.70" height="2.71" fill="#79cc5e"/>
<rect x="485.00" y="139.18" width="3.70" height="2.71" fill="#57cc7a"/>
<rect x="488.40" y="139.18" width="3.70" height="2.71" fill="#34c79b"/>
<rect x="491.80" y="139.18" width="3.70" height="2.71" fill="#0bbdbd"/>
<rect x="495.20" y="139.18" width="3.70" height="2.71" fill="#15afd9"/>
<rect x="498.60" y="139.18" width="3.70" height="2.71" fill="#2994ed"/>
<rect x="502.00" y="139.18" width="3.70" height="2.71" fill="#3875fe"/>
<rect x="505.40" y="139.18" width="3.70" height="2.71" fill="#475bf9"/>
<rect x="508.80" y="139.18" width="3.70" height="2.71" fill="#4747eb"/>
<rect x="512.20" y="139.18" width="3.70" height="2.71" fill="#4639da"/>
<rect x="515.60" y="139.18" width="3.70" height="2.71" fill="#4330c5"/>
<rect x="519.00" y="139.18" width="3.70" height="2.71" fill="#402ab4"/>
<rect x="522.40" y="139.18" width="3.70" height="2.71" fill="#3f28ae"/>
<rect x="525.80" y="139.18" width="85.30" height="2.71" fill="#3e26a8"/>
<rect x="474.80" y="141.58" width="3.70" height="2.71" fill="#a4c83e"/>
<rect x="478.20" y="141.58" width="3.70" height="2.71" fill="#8fcb4e"/>
<rect x="481.60" y="141.58" width="3.70" height="2.71" fill="#72cd64"/>
<rect x="485.00" y="141.58" width="3.70" height="2.71" fill="#4acb84"/>
<rect x="488.40" y="141.58" width="3.70" height="2.71" fill="#28c2ab"/>
<rect x="491.80" y="141.58" width="3.70" height="2.71" fill="#01b8ca"/>
<rect x="495.20" y="141.58" width="3.70" height="2.71" fill="#23a0e5"/>
<rect x="498.60" y="141.58" width="3.70" height="2.71" fill="#2f81fa"/>
<rect x="502.00" y="141.58" width="3.70" height="2.71" fill="#4660fc"/>
<rect x="505.40" y="141.58" width="3.70" height="2.71" fill="#484aee"/>
<rect x="508.80" y="141.58" width="3.70" height="2.71" fill="#463cde"/>
<rect x="512.20" y="141.58" width="3.70" height="2.71" fill="#4330c5"/>
<rect x="515.60" y="141.58" width="3.70" height="2.71" fill="#402ab4"/>
<rect x="519.00" y="141.58" width="3.70" height="2.71" fill="#3f28ae"/>
<rect x="522.40" y="141.58" width="88.70" height="2.71" fill="#3e26a8"/>
<rect x="474.80" y="143.99" width="3.70" height="2.71" fill="#a4c83e"/>
<rect x="478.20" y="143.99" width="3.70" height="2.71" fill="#88cb53"/>
<rect x="481.60" y="143.99" width="3.70" height="2.71" fill="#64cd6f"/>
<rect x="485.00" y="143.99" width="3.70" height="2.71" fill="#3bc992"/>
<rect x="488.40" y="143.99" width="3.70" height="2.71" fill="#12beb9"/>
<rect x="491.80" y="143.99" width="3.70" height="2.71" fill="#18addb"/>
<rect x="495.20" y="143.99" width="3.70" height="2.71" fill="#2d8cf3"/>
<rect x="498.60" y="143.99" width="3.70" height="2.71" fill="#4269fe"/>
<rect x="502.00" y="143.99" width="3.70" height="2.71" fill="#484ff2"/>
<rect x="505.40" y="143.99" width="3.70" height="2.71" fill="#463cde"/>
<rect x="508.80" y="143.99" width="3.70" height="2.71" fill="#4330c5"/>
<rect x="512.20" y="143.99" width="3.70" height="2.71" fill="#402ab4"/>
<rect x="515.60" y="143.99" width="95.50" height="2.71" fill="#3e26a8"/>
<rect x="333.20" y="152.90" width="24.10" height="2.65" fill="#fec03a"/>
<rect x="357.00" y="152.90" width="7.10" height="2.65" fill="#febe3c"/>
<rect x="363.80" y="152.90" width="3.70" height="2.65" fill="#fbbc3d"/>
<rect x="367.20" y="152.90" width="3.70" height="2.65" fill="#f8ba3d"/>
<rect x="370.60" y="152.90" width="7.10" height="2.65" fill="#f4ba39"/>
<rect x="377.40" y="152.90" width="3.70" height="2.65" fill="#f0ba36"/>
<rect x="380.80" y="152.90" width="3.70" height="2.65" fill="#ebba31"/>
<rect x="384.20" y="152.90" width="3.70" height="2.65" fill="#e6bb2d"/>
<rect x="387.60" y="152.90" width="3.70" height="2.65" fill="#e1bc2b"/>
<rect x="391.00" y="152.90" width="3.70" height="2.65" fill="#dcbd29"/>
<rect x="394.40" y="152.90" width="3.70" height="2.65" fill="#d7be28"/>
<rect x="397.80" y="152.90" width="3.70" height="2.65" fill="#d1bf27"/>
<rect x="401.20" y="152.90" width="3.70" height="2.65" fill="#cbc029"/>
<rect x="404.60" y="152.90" width="7.10" height="2.65" fill="#c5c22a"/>
<rect x="411.40" y="152.90" width="3.70" height="2.65" fill="#bfc32d"/>
<rect x="414.80" y="152.90" width="7.10" height="2.65" fill="#b9c431"/>
<rect x="421.60" y="152.90" width="7.10" height="2.65" fill="#b2c635"/>
<rect x="428.40" y="152.90" width="7.10" height="2.65" fill="#abc739"/>
<rect x="435.20" y="152.90" width="7.10" height="2.65" fill="#a4c83e"/>
<rect x="442.00" y="152.90" width="10.50" height="2.65" fill="#9dc943"/>
<rect x="452.20" y="152.90" width="7.10" height="2.65" fill="#96ca48"/>
<rect x="459.00" y="152.90" width="10.50" height="2.65" fill="#8fcb4e"/>
<rect x="333.20" y="155.25" width="24.10" height="2.65" fill="#fec03a"/>
<rect x="357.00" y="155.25" width="7.10" height="2.65" fill="#febe3c"/>
<rect x="363.80" y="155.25" width="3.70" height="2.65" fill="#fbbc3d"/>
<rect x="367.20" y="155.25" width="3.70" height="2.65" fill="#f8ba3d"/>
<rect x="370.60" y="155.25" width="7.10" height="2.65" fill="#f4ba39"/>
<rect x="377.40" y="155.25" width="3.70" height="2.65" fill="#f0ba36"/>
<rect x="380.80" y="155.25" width="3.70" height="2.65" fill="#ebba31"/>
<rect x="384.20" y="155.25" width="3.70" height="2.65" fill="#e6bb2d"/>
<rect x="387.60" y="155.25" width="3.70" height="2.65" fill="#e1bc2b"/>
<rect x="391.00" y="155.25" width="3.70" height="2.65" fill="#dcbd29"/>
<rect x="394.40" y="155.25" width="3.70" height="2.65" fill="#d7be28"/>
<rect x="397.80" y="155.25" width="3.70" height="2.65" fill="#d1bf27"/>
<rect x="401.20" y="155.25" width="3.70" height="2.65" fill="#cbc029"/>
<rect x="404.60" y="155.25" width="7.10" height="2.65" fill="#c5c22a"/>
<rect x="411.40" y="155.25" width="3.70" height="2.65" fill="#bfc32d"/>
<rect x="414.80" y="155.25" width="7.10" height="2.65" fill="#b9c431"/>
<rect x="421.60" y="155.25" width="3.70" height="2.65" fill="#b2c635"/>
<rect x="425.00" y="155.25" width="10.50" height="2.65" fill="#abc739"/>
<rect x="435.20" y="155.25" width="7.10" height="2.65" fill="#a4c83e"/>
<rect x="442.00" y="155.25" width="7.10" height="2.65" fill="#9dc943"/>
<rect x="448.80" y="155.25" width="7.10" height="2.65" fill="#96ca48"/>
<rect x="455.60" y="155.25" width="7.10" height="2.65" fill="#8fcb4e"/>
<rect x="462.40" y="155.25" width="7.10" height="2.65" fill="#88cb53"/>
<rect x="333.20" y="157.61" width="24.10" height="2.65" fill="#fec03a"/>
<rect x="357.00" y="157.61" width="7.10" height="2.65" fill="#febe3c"/>
<rect x="363.80" y="157.61" width="3.70" height="2.65" fill="#fbbc3d"/>
<rect x="367.20" y="157.61" width="3.70" height="2.65" fill="#f8ba3d"/>
<rect x="370.60" y="157.61" width="3.70" height="2.65" fill="#f4ba39"/>
<rect x="374.00" y="157.61" width="7.10" height="2.65" fill="#f0ba36"/>
<rect x="380.80" y="157.61" width="3.70" height="2.65" fill="#ebba31"/>
<rect x="384.20" y="157.61" width="3.70" height="2.65" fill="#e6bb2d"/>
<rect x="387.60" y="157.61" width="3.70" height="2.65" fill="#e1bc2b"/>
<rect x="391.00" y="157.61" width="3.70" height="2.65" fill="#dcbd29"/>
<rect x="394.40" y="157.61" width="3.70" height="2.65" fill="#d7be28"/>
<rect x="397.80" y="157.61" width="3.70" height="2.65" fill="#d1bf27"/>
<rect x="401.20" y="157.61" width="3.70" height="2.65" fill="#cbc029"/>
<rect x="404.60" y="157.61" width="3.70" height="2.65" fill="#c5c22a"/>
<rect x="408.00" y="157.61" width="7.10" height="2.65" fill="#bfc32d"/>
<rect x="414.80" y="157.61" width="3.70" height="2.65" fill="#b9c431"/>
<rect x="418.20" y="157.61" width="7.10" height="2.65" fill="#b2c635"/>
<rect x="425.00" y="157.61" width="7.10" height="2.65" fill="#abc739"/>
<rect x="431.80" y="157.61" width="7.10" height="2.65" fill="#a4c83e"/>
<rect x="438.60" y="157.61" width="7.10" height="2.65" fill="#9dc943"/>
<rect x="445.40" y="157.61" width="7.10" height="2.65" fill="#96ca48"/>
<rect x="452.20" y="157.61" width="7.10" height="2.65" fill="#8fcb4e"/>
<rect x="459.00" y="157.61" width="7.10" height="2.65" fill="#88cb53"/>
<rect x="465.80" y="157.61" width="3.70" height="2.65" fill="#81cc59"/>
<rect x="333.20" y="159.97" width="20.70" height="2.65" fill="#fec03a"/>
<rect x="353.60" y="159.97" width="7.10" height="2.65" fill="#febe3c"/>
<rect x="360.40" y="159.97" width="7.10" height="2.65" fill="#fbbc3d"/>
<rect x="367.20" y="159.97" width="3.70" height="2.65" fill="#f8ba3d"/>
<rect x="370.60" y="159.97" width="3.70" height="2.65" fill="#f4ba39"/>
<rect x="374.00" y="159.97" width="3.70" height="2.65" fill="#f0ba36"/>
<rect x="377.40" y="159.97" width="3.70" height="2.65" fill="#ebba31"/>
<rect x="380.80" y="159.97" width="7.10" height="2.65" fill="#e6bb2d"/>
<rect x="387.60" y="159.97" width="3.70" height="2.65" fill="#e1bc2b"/>
<rect x="391.00" y="159.97" width="3.70" height="2.65" fill="#dcbd29"/>
<rect x="394.40" y="159.97" width="3.70" height="2.65" fill="#d7be28"/>
<rect x="397.80" y="159.97" width="3.70" height="2.65" fill="#d1bf27"/>
<rect x="401.20" y="159.97" width="3.70" height="2.65" fill="#cbc029"/>
<rect x="404.60" y="159.97" width="3.70" height="2.65" fill="#c5c22a"/>
<rect x="408.00" y="159.97" width="7.10" height="2.65" fill="#bfc32d"/>
<rect x="414.80" y="159.97" width="3.70" height="2.65" fill="#b9c431"/>
<rect x="418.20" y="159.97" width="7.10" height="2.65" fill="#b2c635"/>
<rect x="425.00" y="159.97" width="7.10" height="2.65" fill="#abc739"/>
<rect x="431.80" y="159.97" width="7.10" height="2.65" fill="#a4c83e"/>
<rect x="438.60" y="159.97" width="7.10" height="2.65" fill="#9dc943"/>
<rect x="445.40" y="159.97" width="7.10" height="2.65" fill="#96ca48"/>
<rect x="452.20" y="159.97" width="3.70" height="2.65" fill="#8fcb4e"/>
<rect x="455.60" y="159.97" width="7.10" height="2.65" fill="#88cb53"/>
<rect x="462.40" y="159.97" width="7.10" height="2.65" fill="#81cc59"/>
<rect x="333.20" y="162.32" width="20.70" height="2.65" fill="#fec03a"/>
<rect x="353.60" y="162.32" width="7.10" height="2.65" fill="#febe3c"/>
<rect x="360.40" y="162.32" width="7.10" height="2.65" fill="#fbbc3d"/>
<rect x="367.20" y="162.32" width="3.70" height="2.65" fill="#f8ba3d"/>
<rect x="370.60" y="162.32" width="3.70" height="2.65" fill="#f4ba39"/>
<rect x="374.00" y="162.32" width="3.70" height="2.65" fill="#f0ba36"/>
<rect x="377.40" y="162.32" width="3.70" height="2.65" fill="#ebba31"/>
<rect x="380.80" y="162.32" width="3.70" height="2.65" fill="#e6bb2d"/>
<rect x="384.20" y="162.32" width="3.70" height="2.65" fill="#e1bc2b"/>
<rect x="387.60" y="162.32" width="7.10" height="2.65" fill="#dcbd29"/>
<rect x="394.40" y="162.32" width="3.70" height="2.65" fill="#d7be28"/>
<rect x="397.80" y="162.32" width="3.70" height="2.65" fill="#d1bf27"/>
<rect x="401.20" y="162.32" width="3.70" height="2.65" fill="#cbc029"/>
<rect x="404.60" y="162.32" width="3.70" height="2.65" fill="#c5c22a"/>
<rect x="408.00" y="162.32" width="3.70" height="2.65" fill="#bfc32d"/>
<rect x="411.40" y="162.32" width="7.10" height="2.65" fill="#b9c431"/>
<rect x="418.20" y="162.32" width="7.10" height="2.65" fill="#b2c635"/>
<rect x="425.00" y="162.32" width="3.70" height="2.65" fill="#abc739"/>
<rect x="428.40" y="162.32" width="7.10" height="2.65" fill="#a4c83e"/>
<rect x="435.20" y="162.32" width="7.10" height="2.65" fill="#9dc943"/>
<rect x="442.00" y="162.32" width="7.10" height="2.65" fill="#96ca48"/>
<rect x="448.80" y="162.32" width="7.10" height="2.65" fill="#8fcb4e"/>
<rect x="455.60" y="162.32" width="3.70" height="2.65" fill="#88cb53"/>
<rect x="459.00" y="162.32" width="7.10" height="2.65" fill="#81cc59"/>
<rect x="465.80" y="162.32" width="3.70" height="2.65" fill="#79cc5e"/>
<rect x="333.20" y="164.68" width="20.70" height="2.65" fill="#fec03a"/>
<rect x="353.60" y="164.68" width="7.10" height="2.65" fill="#febe3c"/>
<rect x="360.40" y="164.68" width="7.10" height="2.65" fill="#fbbc3d"/>
<rect x="367.20" y="164.68" width="3.70" height="2.65" fill="#f8ba3d"/>
<rect x="370.60" y="164.68" width="3.70" height="2.65" fill="#f4ba39"/>
<rect x="374.00" y="164.68" width="3.70" height="2.65" fill="#f0ba36"/>
<rect x="377.40" y="164.68" width="3.70" height="2.65" fill="#ebba31"/>
<rect x="380.80" y="164.68" width="3.70" height="2.65" fill="#e6bb2d"/>
<rect x="384.20" y="164.68" width="3.70" height="2.65" fill="#e1bc2b"/>
<rect x="387.60" y="164.68" width="3.70" height="2.65" fill="#dcbd29"/>
<rect x="391.00" y="164.68" width="3.70" height="2.65" fill="#d7be28"/>
<rect x="394.40" y="164.68" width="7.10" height="2.65" fill="#d1bf27"/>
<rect x="401.20" y="164.68" width="3.70" height="2.65" fill="#cbc029"/>
<rect x="404.60" y="164.68" width="3.70" height="2.65" fill="#c5c22a"/>
<rect x="408.00" y="164.68" width="3.70" height="2.65" fill="#bfc32d"/>
<rect x="411.40" y="164.68" width="7.10" height="2.65" fill="#b9c431"/>
<rect x="418.20" y="164.68" width="3.70" height="2.65" fill="#b2c635"/>
<rect x="421.60" y="164.68" width="7.10" height="2.65" fill="#abc739"/>
<rect x="428.40" y="164.68" width="7.10" height="2.65" fill="#a4c83e"/>
<rect x="435.20" y="164.68" width="7.10" height="2.65" fill="#9dc943"/>
<rect x="442.00" y="164.68" width="3.70" height="2.65" fill="#96ca48"/>
<rect x="445.40" y="164.68" width="7.10" height="2.65" fill="#8fcb4e"/>
<rect x="452.20" y="164.68" width="7.10" height="2.65" fill="#88cb53"/>
<rect x="459.00" y="164.68" width="3.70" height="2.65" fill="#81cc59"/>
<rect x="462.40" y="164.68" width="7.10" height="2.65" fill="#79cc5e"/>
<rect x="333.20" y="167.03" width="20.70" height="2.65" fill="#fec03a"/>
<rect x="353.60" y="167.03" width="7.10" height="2.65" fill="#febe3c"/>
<rect x="360.40" y="167.03" width="3.70" height="2.65" fill="#fbbc3d"/>
<rect x="363.80" y="167.03" width="7.10" height="2.65" fill="#f8ba3d"/>
<rect x="370.60" y="167.03" width="3.70" height="2.65" fill="#f4ba39"/>
<rect x="374.00" y="167.03" width="3.70" height="2.65" fill="#f0ba36"/>
<rect x="377.40" y="167.03" width="3.70" height="2.65" fill="#ebba31"/>
<rect x="380.80" y="167.03" width="3.70" height="2.65" fill="#e6bb2d"/>
<rect x="384.20" y="167.03" width="3.70" height="2.65" fill="#e1bc2b"/>
<rect x="387.60" y="167.03" width="3.70" height="2.65" fill="#dcbd29"/>
<rect x="391.00" y="167.03" width="3.70" height="2.65" fill="#d7be28"/>
<rect x="394.40" y="167.03" width="3.70" height="2.65" fill="#d1bf27"/>
<rect x="397.80" y="167.03" width="7.10" height="2.65" fill="#cbc029"/>
<rect x="404.60" y="167.03" width="3.70" height="2.65" fill="#c5c22a"/>
<rect x="408.00" y="167.03" width="3.70" height="2.65" fill="#bfc32d"/>
<rect x="411.40" y="167.03" width="7.10" height="2.65" fill="#b9c431"/>
<rect x="418.20" y="167.03" width="3.70" height="2.65" fill="#b2c635"/>
<rect x="421.60" y="167.03" width="7.10" height="2.65" fill="#abc739"/>
<rect x="428.40" y="167.03" width="3.70" height="2.65" fill="#a4c83e"/>
<rect x="431.80" y="167.03" width="7.10" height="2.65" fill="#9dc943"/>
<rect x="438.60" y="167.03" width="7.10" height="2.65" fill="#96ca48"/>
<rect x="445.40" y="167.03" width="3.70" height="2.65" fill="#8fcb4e"/>
<rect x="448.80" y="167.03" width="7.10" height="2.65" fill="#88cb53"/>
<rect x="455.60" y="167.03" width="3.70" height="2.65" fill="#81cc59"/>
<rect x="459.00" y="167.03" width="7.10" height="2.65" fill="#79cc5e"/>
<rect x="465.80" y="167.03" width="3.70" height="2.65" fill="#72cd64"/>
<rect x="333.20" y="169.38" width="17.30" height="2.65" fill="#fec03a"/>
<rect x="350.20" y="169.38" width="7.10" height="2.65" fill="#febe3c"/>
<rect x="357.00" y="169.38" width="7.10" height="2.65" fill="#fbbc3d"/>
<rect x="363.80" y="169.38" width="3.70" height="2.65" fill="#f8ba3d"/>
<rect x="367.20" y="169.38" width="7.10" height="2.65" fill="#f4ba39"/>
<rect x="374.00" y="169.38" width="3.70" height="2.65" fill="#f0ba36"/>
<rect x="377.40" y="169.38" width="3.70" height="2.65" fill="#ebba31"/>
<rect x="380.80" y="169.38" width="3.70" height="2.65" fill="#e6bb2d"/>
<rect x="384.20" y="169.38" width="3.70" height="2.65" fill="#e1bc2b"/>
<rect x="387.60" y="169.38" width="3.70" height="2.65" fill="#dcbd29"/>
<rect x="391.00" y="169.38" width="3.70" height="2.65" fill="#d7be28"/>
<rect x="394.40" y="169.38" width="3.70" height="2.65" fill="#d1bf27"/>
<rect x="397.80" y="169.38" width="3.70" height="2.65" fill="#cbc029"/>
<rect x="401.20" y="169.38" width="7.10" height="2.65" fill="#c5c22a"/>
<rect x="408.00" y="169.38" width="3.70" height="2.65" fill="#bfc32d"/>
<rect x="411.40" y="169.38" width="3.70" height="2.65" fill="#b9c431"/>
<rect x="414.80" y="169.38" width="7.10" height="2.65" fill="#b2c635"/>
<rect x="421.60" y="169.38" width="3.70" height="2.65" fill="#abc739"/>
<rect x="425.00" y="169.38" width="7.10" height="2.65" fill="#a4c83e"/>
<rect x="431.80" y="169.38" width="7.10" height="2.65" fill="#9dc943"/>
<rect x="438.60" y="169.38" width="3.70" height="2.65" fill="#96ca48"/>
<rect x="442.00" y="169.38" width="7.10" height="2.65" fill="#8fcb4e"/>
<rect x="448.80" y="169.38" width="3.70" height="2.65" fill="#88cb53"/>
<rect x="452.20" y="169.38" width="7.10" height="2.65" fill="#81cc59"/>
<rect x="459.00" y="169.38" width="3.70" height="2.65" fill="#79cc5e"/>
<rect x="462.40" y="169.38" width="7.10" height="2.65" fill="#72cd64"/>
<rect x="333.20" y="171.74" width="17.30" height="2.65" fill="#fec03a"/>
<rect x="350.20" y="171.74" width="7.10" height="2.65" fill="#febe3c"/>
<rect x="357.00" y="171.74" width="7.10" height="2.65" fill="#fbbc3d"/>
<rect x="363.80" y="171.74" width="3.70" height="2.65" fill="#f8ba3d"/>
<rect x="367.20" y="171.74" width="3.70" height="2.65" fill="#f4ba39"/>
<rect x="370.60" y="171.74" width="3.70" height="2.65" fill="#f0ba36"/>
<rect x="374.00" y="171.74" width="3.70" height="2.65" fill="#ebba31"/>
<rect x="377.40" y="171.74" width="3.70" height="2.65" fill="#e6bb2d"/>
<rect x="380.80" y="171.74" width="3.70" height="2.65" fill="#e1bc2b"/>
<rect x="384.20" y="171.74" width="7.10" height="2.65" fill="#dcbd29"/>
<rect x="391.00" y="171.74" width="3.70" height="2.65" fill="#d7be28"/>
<rect x="394.40" y="171.74" width="3.70" height="2.65" fill="#d1bf27"/>
<rect x="397.80" y="171.74" width="3.70" height="2.65" fill="#cbc029"/>
<rect x="401.20" y="171.74" width="3.70" height="2.65" fill="#c5c22a"/>
<rect x="404.60" y="171.74" width="7.10" height="2.65" fill="#bfc32d"/>
<rect x="411.40" y="171.74" width="3.70" height="2.65" fill="#b9c431"/>
<rect x="414.80" y="171.74" width="7.10" height="2.65" fill="#b2c635"/>
<rect x="421.60" y="171.74" width="3.70" height="2.65" fill="#abc739"/>
<rect x="425.00" y="171.74" width="7.10" height="2.65" fill="#a4c83e"/>
<rect x="431.80" y="171.74" width="3.70" height="2.65" fill="#9dc943"/>
<rect x="435.20" y="171.74" width="7.10" height="2.65" fill="#96ca48"/>
<rect x="442.00" y="171.74" width="3.70" height="2.65" fill="#8fcb4e"/>
<rect x="445.40" y="171.74" width="7.10" height="2.65" fill="#88cb53"/>
<rect x="452.20" y="171.74" width="3.70" height="2.65" fill="#81cc59"/>
<rect x="455.60" y="171.74" width="3.70" height="2.65" fill="#79cc5e"/>
<rect x="459.00" y="171.74" width="7.10" height="2.65" fill="#72cd64"/>
<rect x="465.80" y="171.74" width="3.70" height="2.65" fill="#6bcd69"/>
<rect x="333.20" y="174.09" width="13.90" height="2.65" fill="#fec03a"/>
<rect x="346.80" y="174.09" width="10.50" height="2.65" fill="#febe3c"/>
<rect x="357.00" y="174.09" width="3.70" height="2.65" fill="#fbbc3d"/>
<rect x="360.40" y="174.09" width="7.10" height="2.65" fill="#f8ba3d"/>
<rect x="367.20" y="174.09" width="3.70" height="2.65" fill="#f4ba39"/>
<rect x="370.60" y="174.09" width="3.70" height="2.65" fill="#f0ba36"/>
<rect x="374.00" y="174.09" width="3.70" height="2.65" fill="#ebba31"/>
<rect x="377.40" y="174.09" width="3.70" height="2.65" fill="#e6bb2d"/>
<rect x="380.80" y="174.09" width="3.70" height="2.65" fill="#e1bc2b"/>
<rect x="384.20" y="174.09" width="3.70" height="2.65" fill="#dcbd29"/>
<rect x="387.60" y="174.09" width="3.70" height="2.65" fill="#d7be28"/>
<rect x="391.00" y="174.09" width="7.10" height="2.65" fill="#d1bf27"/>
<rect x="397.80" y="174.09" width="3.70" height="2.65" fill="#cbc029"/>
<rect x="401.20" y="174.09" width="3.70" height="2.65" fill="#c5c22a"/>
<rect x="404.60" y="174.09" width="7.10" height="2.65" fill="#bfc32d"/>
<rect x="411.40" y="174.09" width="3.70" height="2.65" fill="#b9c431"/>
<rect x="414.80" y="174.09" width="3.70" height="2.65" fill="#b2c635"/>
<rect x="418.20" y="174.09" width="7.10" height="2.65" fill="#abc739"/>
<rect x="425.00" y="174.09" width="3.70" height="2.65" fill="#a4c83e"/>
<rect x="428.40" y="174.09" width="7.10" height="2.65" fill="#9dc943"/>
<rect x="435.20" y="174.09" width="3.70" height="2.65" fill="#96ca48"/>
<rect x="438.60" y="174.09" width="7.10" height="2.65" fill="#8fcb4e"/>
<rect x="445.40" y="174.09" width="3.70" height="2.65" fill="#88cb53"/>
<rect x="448.80" y="174.09" width="3.70" height="2.65" fill="#81cc59"/>
<rect x="452.20" y="174.09" width="7.10" height="2.65" fill="#79cc5e"/>
<rect x="459.00" y="174.09" width="3.70" height="2.65" fill="#72cd64"/>
<rect x="462.40" y="174.09" width="7.10" height="2.65" fill="#6bcd69"/>
<rect x="333.20" y="176.45" width="13.90" height="2.65" fill="#fec03a"/>
<rect x="346.80" y="176.45" width="7.10" height="2.65" fill="#febe3c"/>
<rect x="353.60" y="176.45" width="7.10" height="2.65" fill="#fbbc3d"/>
<rect x="360.40" y="176.45" width="3.70" height="2.65" fill="#f8ba3d"/>
<rect x="363.80" y="176.45" width="7.10" height="2.65" fill="#f4ba39"/>
<rect x="370.60" y="176.45" width="3.70" height="2.65" fill="#f0ba36"/>
<rect x="374.00" y="176.45" width="3.70" height="2.65" fill="#ebba31"/>
<rect x="377.40" y="176.45" width="3.70" height="2.65" fill="#e6bb2d"/>
<rect x="380.80" y="176.45" width="3.70" height="2.65" fill="#e1bc2b"/>
<rect x="384.20" y="176.45" width="3.70" height="2.65" fill="#dcbd29"/>
<rect x="387.60" y="176.45" width="3.70" height="2.65" fill="#d7be28"/>
<rect x="391.00" y="176.45" width="3.70" height="2.65" fill="#d1bf27"/>
<rect x="394.40" y="176.45" width="7.10" height="2.65" fill="#cbc029"/>
<rect x="401.20" y="176.45" width="3.70" height="2.65" fill="#c5c22a"/>
<rect x="404.60" y="176.45" width="3.70" height="2.65" fill="#bfc32d"/>
<rect x="408.00" y="176.45" width="7.10" height="2.65" fill="#b9c431"/>
<rect x="414.80" y="176.45" width="3.70" height="2.65" fill="#b2c635"/>
<rect x="418.20" y="176.45" width="3.70" height="2.65" fill="#abc739"/>
<rect x="421.60" y="176.45" width="7.10" height="2.65" fill="#a4c83e"/>
<rect x="428.40" y="176.45" width="3.70" height="2.65" fill="#9dc943"/>
<rect x="431.80" y="176.45" width="7.10" height="2.65" fill="#96ca48"/>
<rect x="438.60" y="176.45" width="3.70" height="2.65" fill="#8fcb4e"/>
<rect x="442.00" y="176.45" width="3.70" height="2.65" fill="#88cb53"/>
<rect x="445.40" y="176.45" width="7.10" height="2.65" fill="#81cc59"/>
<rect x="452.20" y="176.45" width="3.70" height="2.65" fill="#79cc5e"/>
<rect x="455.60" y="176.45" width="7.10" height="2.65" fill="#72cd64"/>
<rect x="462.40" y="176.45" width="3.70" height="2.65" fill="#6bcd69"/>
<rect x="465.80" y="176.45" width="3.70" height="2.65" fill="#64cd6f"/>
<rect x="333.20" y="178.81" width="10.50" height="2.65" fill="#fec03a"/>
<rect x="343.40" y="178.81" width="10.50" height="2.65" fill="#febe3c"/>
<rect x="353.60" y="178.81" width="3.70" height="2.65" fill="#fbbc3d"/>
<rect x="357.00" y="178.81" width="7.10" height="2.65" fill="#f8ba3d"/>
<rect x="363.80" y="178.81" width="3.70" height="2.65" fill="#f4ba39"/>
<rect x="367.20" y="178.81" width="3.70" height="2.65" fill="#f0ba36"/>
<rect x="370.60" y="178.81" width="3.70" height="2.65" fill="#ebba31"/>
<rect x="374.00" y="178.81" width="3.70" height="2.65" fill="#e6bb2d"/>
<rect x="377.40" y="178.81" width="7.10" height="2.65" fill="#e1bc2b"/>
<rect x="384.20" y="178.81" width="3.70" height="2.65" fill="#dcbd29"/>
<rect x="387.60" y="178.81" width="3.70" height="2.65" fill="#d7be28"/>
<rect x="391.00" y="178.81" width="3.70" height="2.65" fill="#d1bf27"/>
<rect x="394.40" y="178.81" width="3.70" height="2.65" fill="#cbc029"/>
<rect x="397.80" y="178.81" width="7.10" height="2.65" fill="#c5c22a"/>
<rect x="404.60" y="178.81" width="3.70" height="2.65" fill="#bfc32d"/>
<rect x="408.00" y="178.81" width="3.70" height="2.65" fill="#b9c431"/>
<rect x="411.40" y="178.81" width="7.10" height="2.65" fill="#b2c635"/>
<rect x="418.20" y="178.81" width="3.70" height="2.65" fill="#abc739"/>
<rect x="421.60" y="178.81" width="3.70" height="2.65" fill="#a4c83e"/>
<rect x="425.00" y="178.81" width="7.10" height="2.65" fill="#9dc943"/>
<rect x="431.80" y="178.81" width="3.70" height="2.65" fill="#96ca48"/>
<rect x="435.20" y="178.81" width="3.70" height="2.65" fill="#8fcb4e"/>
<rect x="438.60" y="178.81" width="7.10" height="2.65" fill="#88cb53"/>
<rect x="445.40" y="178.81" width="3.70" height="2.65" fill="#81cc59"/>
<rect x="448.80" y="178.81" width="7.10" height="2.65" fill="#79cc5e"/>
<rect x="455.60" y="178.81" width="3.70" height="2.65" fill="#72cd64"/>
<rect x="459.00" y="178.81" width="3.70" height="2.65" fill="#6bcd69"/>
<rect x="462.40" y="178.81" width="7.10" height="2.65" fill="#64cd6f"/>
<rect x="333.20" y="181.16" width="10.50" height="2.65" fill="#fec03a"/>
<rect x="343.40" y="181.16" width="7.10" height="2.65" fill="#febe3c"/>
<rect x="350.20" y="181.16" width="7.10" height="2.65" fill="#fbbc3d"/>
<rect x="357.00" y="181.16" width="3.70" height="2.65" fill="#f8ba3d"/>
<rect x="360.40" y="181.16" width="7.10" height="2.65" fill="#f4ba39"/>
<rect x="367.20" y="181.16" width="3.70" height="2.65" fill="#f0ba36"/>
<rect x="370.60" y="181.16" width="3.70" height="2.65" fill="#ebba31"/>
<rect x="374.00" y="181.16" width="3.70" height="2.65" fill="#e6bb2d"/>
<rect x="377.40" y="181.16" width="3.70" height="2.65" fill="#e1bc2b"/>
<rect x="380.80" y="181.16" width="3.70" height="2.65" fill="#dcbd29"/>
<rect x="384.20" y="181.16" width="3.70" height="2.65" fill="#d7be28"/>
<rect x="387.60" y="181.16" width="7.10" height="2.65" fill="#d1bf27"/>
<rect x="394.40" y="181.16" width="3.70" height="2.65" fill="#cbc029"/>
<rect x="397.80" y="181.16" width="3.70" height="2.65" fill="#c5c22a"/>
<rect x="401.20" y="181.16" width="7.10" height="2.65" fill="#bfc32d"/>
<rect x="408.00" y="181.16" width="3.70" height="2.65" fill="#b9c431"/>
<rect x="411.40" y="181.16" width="7.10" height="2.65" fill="#b2c635"/>
<rect x="418.20" y="181.16" width="3.70" height="2.65" fill="#abc739"/>
<rect x="421.60" y="181.16" width="3.70" height="2.65" fill="#a4c83e"/>
<rect x="425.00" y="181.16" width="3.70" height="2.65" fill="#9dc943"/>
<rect x="428.40" y="181.16" width="7.10" height="2.65" fill="#96ca48"/>
<rect x="435.20" y="181.16" width="3.70" height="2.65" fill="#8fcb4e"/>
<rect x="438.60" y="181.16" width="3.70" height="2.65" fill="#88cb53"/>
<rect x="442.00" y="181.16" width="7.10" height="2.65" fill="#81cc59"/>
<rect x="448.80" y="181.16" width="3.70" height="2.65" fill="#79cc5e"/>
<rect x="452.20" y="181.16" width="3.70" height="2.65" fill="#72cd64"/>
<rect x="455.60" y="181.16" width="7.10" height="2.65" fill="#6bcd69"/>
<rect x="462.40" y="181.16" width="3.70" height="2.65" fill="#64cd6f"/>
<rect x="465.80" y="181.16" width="3.70" height="2.65" fill="#5dcc75"/>
<rect x="333.20" y="183.52" width="7.10" height="2.65" fill="#fec03a"/>
<rect x="340.00" y="183.52" width="7.10" height="2.65" fill="#febe3c"/>
<rect x="346.80" y="183.52" width="7.10" height="2.65" fill="#fbbc3d"/>
<rect x="353.60" y="183.52" width="7.10" height="2.65" fill="#f8ba3d"/>
<rect x="360.40" y="183.52" width="3.70" height="2.65" fill="#f4ba39"/>
<rect x="363.80" y="183.52" width="3.70" height="2.65" fill="#f0ba36"/>
<rect x="367.20" y="183.52" width="7.10" height="2.65" fill="#ebba31"/>
<rect x="374.00" y="183.52" width="3.70" height="2.65" fill="#e6bb2d"/>
<rect x="377.40" y="183.52" width="3.70" height="2.65" fill="#e1bc2b"/>
<rect x="380.80" y="183.52" width="3.70" height="2.65" fill="#dcbd29"/>
<rect x="384.20" y="183.52" width="3.70" height="2.65" fill="#d7be28"/>
<rect x="387.60" y="183.52" width="3.70" height="2.65" fill="#d1bf27"/>
<rect x="391.00" y="183.52" width="7.10" height="2.65" fill="#cbc029"/>
<rect x="397.80" y="183.52" width="3.70" height="2.65" fill="#c5c22a"/>
<rect x="401.20" y="183.52" width="7.10" height="2.65" fill="#bfc32d"/>
<rect x="408.00" y="183.52" width="3.70" height="2.65" fill="#b9c431"/>
<rect x="411.40" y="183.52" width="3.70" height="2.65" fill="#b2c635"/>
<rect x="414.80" y="183.52" width="7.10" height="2.65" fill="#abc739"/>
<rect x="421.60" y="183.52" width="3.70" height="2.65" fill="#a4c83e"/>
<rect x="425.00" y="183.52" width="3.70" height="2.65" fill="#9dc943"/>
<rect x="428.40" y="183.52" width="3.70" height="2.65" fill="#96ca48"/>
<rect x="431.80" y="183.52" width="7.10" height="2.65" fill="#8fcb4e"/>
<rect x="438.60" y="183.52" width="3.70" height="2.65" fill="#88cb53"/>
<rect x="442.00" y="183.52" width="3.70" height="2.65" fill="#81cc59"/>
<rect x="445.40" y="183.52" width="3.70" height="2.65" fill="#79cc5e"/>
<rect x="448.80" y="183.52" width="7.10" height="2.65" fill="#72cd64"/>
<rect x="455.60" y="183.52" width="3.70" height="2.65" fill="#6bcd69"/>
<rect x="459.00" y="183.52" width="3.70" height="2.65" fill="#64cd6f"/>
<rect x="462.40" y="183.52" width="7.10" height="2.65" fill="#5dcc75"/>
<rect x="333.20" y="185.87" width="7.10" height="2.65" fill="#fec03a"/>
<rect x="340.00" y="185.87" width="7.10" height="2.65" fill="#febe3c"/>
<rect x="346.80" y="185.87" width="7.10" height="2.65" fill="#fbbc3d"/>
<rect x="353.60" y="185.87" width="3.70" height="2.65" fill="#f8ba3d"/>
<rect x="357.00" y="185.87" width="7.10" height="2.65" fill="#f4ba39"/>
<rect x="363.80" y="185.87" width="3.70" height="2.65" fill="#f0ba36"/>
<rect x="367.20" y="185.87" width="3.70" height="2.65" fill="#ebba31"/>
<rect x="370.60" y="185.87" width="3.70" height="2.65" fill="#e6bb2d"/>
<rect x="374.00" y="185.87" width="3.70" height="2.65" fill="#e1bc2b"/>
<rect x="377.40" y="185.87" width="3.70" height="2.65" fill="#dcbd29"/>
<rect x="380.80" y="185.87" width="7.10" height="2.65" fill="#d7be28"/>
<rect x="387.60" y="185.87" width="3.70" height="2.65" fill="#d1bf27"/>
<rect x="391.00" y="185.87" width="3.70" height="2.65" fill="#cbc029"/>
<rect x="394.40" y="185.87" width="7.10" height="2.65" fill="#c5c22a"/>
<rect x="401.20" y="185.87" width="3.70" height="2.65" fill="#bfc32d"/>
<rect x="404.60" y="185.87" width="7.10" height="2.65" fill="#b9c431"/>
<rect x="411.40" y="185.87" width="3.70" height="2.65" fill="#b2c635"/>
<rect x="414.80" y="185.87" width="3.70" height="2.65" fill="#abc739"/>
<rect x="418.20" y="185.87" width="7.10" height="2.65" fill="#a4c83e"/>
<rect x="425.00" y="185.87" width="3.70" height="2.65" fill="#9dc943"/>
<rect x="428.40" y="185.87" width="3.70" height="2.65" fill="#96ca48"/>
<rect x="431.80" y="185.87" width="3.70" height="2.65" fill="#8fcb4e"/>
<rect x="435.20" y="185.87" width="3.70" height="2.65" fill="#88cb53"/>
<rect x="438.60" y="185.87" width="7.10" height="2.65" fill="#81cc59"/>
<rect x="445.40" y="185.87" width="3.70" height="2.65" fill="#79cc5e"/>
<rect x="448.80" y="185.87" width="3.70" height="2.65" fill="#72cd64"/>
<rect x="452.20" y="185.87" width="3.70" height="2.65" fill="#6bcd69"/>
<rect x="455.60" y="185.87" width="7.10" height="2.65" fill="#64cd6f"/>
<rect x="462.40" y="185.87" width="3.70" height="2.65" fill="#5dcc75"/>
<rect x="465.80" y="185.87" width="3.70" height="2.65" fill="#57cc7a"/>
<rect x="333.20" y="188.23" width="3.70" height="2.65" fill="#fec03a"/>
<rect x="336.60" y="188.23" width="7.10" height="2.65" fill="#febe3c"/>
<rect x="343.40" y="188.23" width="7.10" height="2.65" fill="#fbbc3d"/>
<rect x="350.20" y="188.23" width="7.10" height="2.65" fill="#f8ba3d"/>
<rect x="357.00" y="188.23" width="3.70" height="2.65" fill="#f4ba39"/>
<rect x="360.40" y="188.23" width="3.70" height="2.65" fill="#f0ba36"/>
<rect x="363.80" y="188.23" width="7.10" height="2.65" fill="#ebba31"/>
<rect x="370.60" y="188.23" width="3.70" height="2.65" fill="#e6bb2d"/>
<rect x="374.00" y="188.23" width="3.70" height="2.65" fill="#e1bc2b"/>
<rect x="377.40" y="188.23" width="3.70" height="2.65" fill="#dcbd29"/>
<rect x="380.80" y="188.23" width="3.70" height="2.65" fill="#d7be28"/>
<rect x="384.20" y="188.23" width="3.70" height="2.65" fill="#d1bf27"/>
<rect x="387.60" y="188.23" width="7.10" height="2.65" fill="#cbc029"/>
<rect x="394.40" y="188.23" width="3.70" height="2.65" fill="#c5c22a"/>
<rect x="397.80" y="188.23" width="7.10" height="2.65" fill="#bfc32d"/>
<rect x="404.60" y="188.23" width="3.70" height="2.65" fill="#b9c431"/>
<rect x="408.00" y="188.23" width="7.10" height="2.65" fill="#b2c635"/>
<rect x="414.80" y="188.23" width="3.70" height="2.65" fill="#abc739"/>
<rect x="418.20" y="188.23" width="3.70" height="2.65" fill="#a4c83e"/>
<rect x="421.60" y="188.23" width="3.70" height="2.65" fill="#9dc943"/>
<rect x="425.00" y="188.23" width="7.10" height="2.65" fill="#96ca48"/>
<rect x="431.80" y="188.23" width="3.70" height="2.65" fill="#8fcb4e"/>
<rect x="435.20" y="188.23" width="3.70" height="2.65" fill="#88cb53"/>
<rect x="438.60" y="188.23" width="3.70" height="2.65" fill="#81cc59"/>
<rect x="442.00" y="188.23" width="3.70" height="2.65" fill="#79cc5e"/>
<rect x="445.40" y="188.23" width="7.10" height="2.65" fill="#72cd64"/>
<rect x="452.20" y="188.23" width="3.70" height="2.65" fill="#6bcd69"/>
<rect x="455.60" y="188.23" width="3.70" height="2.65" fill="#64cd6f"/>
<rect x="459.00" y="188.23" width="7.10" height="2.65" fill="#5dcc75"/>
<rect x="465.80" y="188.23" width="3.70" height="2.65" fill="#57cc7a"/>
<rect x="333.20" y="190.58" width="3.70" height="2.65" fill="#fec03a"/>
<rect x="336.60" y="190.58" width="7.10" height="2.65" fill="#febe3c"/>
<rect x="343.40" y="190.58" width="7.10" height="2.65" fill="#fbbc3d"/>
<rect x="350.20" y="190.58" width="3.70" height="2.65" fill="#f8ba3d"/>
<rect x="353.60" y="190.58" width="7.10" height="2.65" fill="#f4ba39"/>
<rect x="360.40" y="190.58" width="3.70" height="2.65" fill="#f0ba36"/>
<rect x="363.80" y="190.58" width="3.70" height="2.65" fill="#ebba31"/>
<rect x="367.20" y="190.58" width="3.70" height="2.65" fill="#e6bb2d"/>
<rect x="370.60" y="190.58" width="3.70" height="2.65" fill="#e1bc2b"/>
<rect x="374.00" y="190.58" width="3.70" height="2.65" fill="#dcbd29"/>
<rect x="377.40" y="190.58" width="7.10" height="2.65" fill="#d7be28"/>
<rect x="384.20" y="190.58" width="3.70" height="2.65" fill="#d1bf27"/>
<rect x="387.60" y="190.58" width="3.70" height="2.65" fill="#cbc029"/>
<rect x="391.00" y="190.58" width="7.10" height="2.65" fill="#c5c22a"/>
<rect x="397.80" y="190.58" width="3.70" height="2.65" fill="#bfc32d"/>
<rect x="401.20" y="190.58" width="7.10" height="2.65" fill="#b9c431"/>
<rect x="408.00" y="190.58" width="3.70" height="2.65" fill="#b2c635"/>
<rect x="411.40" y="190.58" width="7.10" height="2.65" fill="#abc739"/>
<rect x="418.20" y="190.58" width="3.70" height="2.65" fill="#a4c83e"/>
<rect x="421.60" y="190.58" width="3.70" height="2.65" fill="#9dc943"/>
<rect x="425.00" y="190.58" width="3.70" height="2.65" fill="#96ca48"/>
<rect x="428.40" y="190.58" width="3.70" height="2.65" fill="#8fcb4e"/>
<rect x="431.80" y="190.58" width="3.70" height="2.65" fill="#88cb53"/>
<rect x="435.20" y="190.58" width="3.70" height="2.65" fill="#81cc59"/>
<rect x="438.60" y="190.58" width="7.10" height="2.65" fill="#79cc5e"/>
<rect x="445.40" y="190.58" width="3.70" height="2.65" fill="#72cd64"/>
<rect x="448.80" y="190.58" width="3.70" height="2.65" fill="#6bcd69"/>
<rect x="452.20" y="190.58" width="3.70" height="2.65" fill="#64cd6f"/>
<rect x="455.60" y="190.58" width="7.10" height="2.65" fill="#5dcc75"/>
<rect x="462.40" y="190.58" width="3.70" height="2.65" fill="#57cc7a"/>
<rect x="465.80" y="190.58" width="3.70" height="2.65" fill="#50cc7f"/>
<rect x="333.20" y="192.94" width="3.70" height="2.65" fill="#fec03a"/>
<rect x="336.60" y="192.94" width="7.10" height="2.65" fill="#febe3c"/>
<rect x="343.40" y="192.94" width="3.70" height="2.65" fill="#fbbc3d"/>
<rect x="346.80" y="192.94" width="7.10" height="2.65" fill="#f8ba3d"/>
<rect x="353.60" y="192.94" width="3.70" height="2.65" fill="#f4ba39"/>
<rect x="357.00" y="192.94" width="3.70" height="2.65" fill="#f0ba36"/>
<rect x="360.40" y="192.94" width="7.10" height="2.65" fill="#ebba31"/>
<rect x="367.20" y="192.94" width="3.70" height="2.65" fill="#e6bb2d"/>
<rect x="370.60" y="192.94" width="3.70" height="2.65" fill="#e1bc2b"/>
<rect x="374.00" y="192.94" width="3.70" height="2.65" fill="#dcbd29"/>
<rect x="377.40" y="192.94" width="3.70" height="2.65" fill="#d7be28"/>
<rect x="380.80" y="192.94" width="3.70" height="2.65" fill="#d1bf27"/>
<rect x="384.20" y="192.94" width="7.10" height="2.65" fill="#cbc029"/>
<rect x="391.00" y="192.94" width="3.70" height="2.65" fill="#c5c22a"/>
<rect x="394.40" y="192.94" width="7.10" height="2.65" fill="#bfc32d"/>
<rect x="401.20" y="192.94" width="3.70" height="2.65" fill="#b9c431"/>
<rect x="404.60" y="192.94" width="7.10" height="2.65" fill="#b2c635"/>
<rect x="411.40" y="192.94" width="3.70" height="2.65" fill="#abc739"/>
<rect x="414.80" y="192.94" width="3.70" height="2.65" fill="#a4c83e"/>
<rect x="418.20" y="192.94" width="7.10" height="2.65" fill="#9dc943"/>
<rect x="425.00" y="192.94" width="3.70" height="2.65" fill="#96ca48"/>
<rect x="428.40" y="192.94" width="3.70" height="2.65" fill="#8fcb4e"/>
<rect x="431.80" y="192.94" width="3.70" height="2.65" fill="#88cb53"/>
<rect x="435.20" y="192.94" width="3.70" height="2.65" fill="#81cc59"/>
<rect x="438.60" y="192.94" width="3.70" height="2.65" fill="#79cc5e"/>
<rect x="442.00" y="192.94" width="3.70" height="2.65" fill="#72cd64"/>
<rect x="445.40" y="192.94" width="3.70" height="2.65" fill="#6bcd69"/>
<rect x="448.80" y="192.94" width="7.10" height="2.65" fill="#64cd6f"/>
<rect x="455.60" y="192.94" width="3.70" height="2.65" fill="#5dcc75"/>
<rect x="459.00" y="192.94" width="7.10" height="2.65" fill="#57cc7a"/>
<rect x="465.80" y="192.94" width="3.70" height="2.65" fill="#50cc7f"/>
<rect x="333.20" y="195.29" width="3.70" height="2.65" fill="#fec03a"/>
<rect x="336.60" y="195.29" width="3.70" height="2.65" fill="#febe3c"/>
<rect x="340.00" y="195.29" width="7.10" height="2.65" fill="#fbbc3d"/>
<rect x="346.80" y="195.29" width="3.70" height="2.65" fill="#f8ba3d"/>
<rect x="350.20" y="195.29" width="7.10" height="2.65" fill="#f4ba39"/>
<rect x="357.00" y="195.29" width="3.70" height="2.65" fill="#f0ba36"/>
<rect x="360.40" y="195.29" width="3.70" height="2.65" fill="#ebba31"/>
<rect x="363.80" y="195.29" width="3.70" height="2.65" fill="#e6bb2d"/>
<rect x="367.20" y="195.29" width="3.70" height="2.65" fill="#e1bc2b"/>
<rect x="370.60" y="195.29" width="3.70" height="2.65" fill="#dcbd29"/>
<rect x="374.00" y="195.29" width="7.10" height="2.65" fill="#d7be28"/>
<rect x="380.80" y="195.29" width="3.70" height="2.65" fill="#d1bf27"/>
<rect x="384.20" y="195.29" width="3.70" height="2.65" fill="#cbc029"/>
<rect x="387.60" y="195.29" width="3.70" height="2.65" fill="#c5c22a"/>
<rect x="391.00" y="195.29" width="7.10" height="2.65" fill="#bfc32d"/>
<rect x="397.80" y="195.29" width="7.10" height="2.65" fill="#b9c431"/>
<rect x="404.60" y="195.29" width="3.70" height="2.65" fill="#b2c635"/>
<rect x="408.00" y="195.29" width="7.10" height="2.65" fill="#abc739"/>
<rect x="414.80" y="195.29" width="3.70" height="2.65" fill="#a4c83e"/>
<rect x="418.20" y="195.29" width="3.70" height="2.65" fill="#9dc943"/>
<rect x="421.60" y="195.29" width="3.70" height="2.65" fill="#96ca48"/>
<rect x="425.00" y="195.29" width="3.70" height="2.65" fill="#8fcb4e"/>
<rect x="428.40" y="195.29" width="3.70" height="2.65" fill="#88cb53"/>
<rect x="431.80" y="195.29" width="3.70" height="2.65" fill="#81cc59"/>
<rect x="435.20" y="195.29" width="3.70" height="2.65" fill="#79cc5e"/>
<rect x="438.60" y="195.29" width="3.70" height="2.65" fill="#72cd64"/>
<rect x="442.00" y="195.29" width="7.10" height="2.65" fill="#6bcd69"/>
<rect x="448.80" y="195.29" width="3.70" height="2.65" fill="#64cd6f"/>
<rect x="452.20" y="195.29" width="3.70" height="2.65" fill="#5dcc75"/>
<rect x="455.60" y="195.29" width="7.10" height="2.65" fill="#57cc7a"/>
<rect x="462.40" y="195.29" width="3.70" height="2.65" fill="#50cc7f"/>
<rect x="465.80" y="195.29" width="3.70" height="2.65" fill="#4acb84"/>
<rect x="333.20" y="197.65" width="3.70" height="2.65" fill="#fec03a"/>
<rect x="336.60" y="197.65" width="3.70" height="2.65" fill="#febe3c"/>
<rect x="340.00" y="197.65" width="7.10" height="2.65" fill="#fbbc3d"/>
<rect x="346.80" y="197.65" width="3.70" height="2.65" fill="#f8ba3d"/>
<rect x="350.20" y="197.65" width="3.70" height="2.65" fill="#f4ba39"/>
<rect x="353.60" y="197.65" width="3.70" height="2.65" fill="#f0ba36"/>
<rect x="357.00" y="197.65" width="7.10" height="2.65" fill="#ebba31"/>
<rect x="363.80" y="197.65" width="3.70" height="2.65" fill="#e6bb2d"/>
<rect x="367.20" y="197.65" width="3.70" height="2.65" fill="#e1bc2b"/>
<rect x="370.60" y="197.65" width="3.70" height="2.65" fill="#dcbd29"/>
<rect x="374.00" y="197.65" width="3.70" height="2.65" fill="#d7be28"/>
<rect x="377.40" y="197.65" width="3.70" height="2.65" fill="#d1bf27"/>
<rect x="380.80" y="197.65" width="3.70" height="2.65" fill="#cbc029"/>
<rect x="384.20" y="197.65" width="7.10" height="2.65" fill="#c5c22a"/>
<rect x="391.00" y="197.65" width="3.70" height="2.65" fill="#bfc32d"/>
<rect x="394.40" y="197.65" width="7.10" height="2.65" fill="#b9c431"/>
<rect x="401.20" y="197.65" width="3.70" height="2.65" fill="#b2c635"/>
<rect x="404.60" y="197.65" width="7.10" height="2.65" fill="#abc739"/>
<rect x="411.40" y="197.65" width="3.70" height="2.65" fill="#a4c83e"/>
<rect x="414.80" y="197.65" width="3.70" height="2.65" fill="#9dc943"/>
<rect x="418.20" y="197.65" width="3.70" height="2.65" fill="#96ca48"/>
<rect x="421.60" y="197.65" width="3.70" height="2.65" fill="#8fcb4e"/>
<rect x="425.00" y="197.65" width="3.70" height="2.65" fill="#88cb53"/>
<rect x="428.40" y="197.65" width="3.70" height="2.65" fill="#81cc59"/>
<rect x="431.80" y="197.65" width="3.70" height="2.65" fill="#79cc5e"/>
<rect x="435.20" y="197.65" width="3.70" height="2.65" fill="#72cd64"/>
<rect x="438.60" y="197.65" width="7.10" height="2.65" fill="#6bcd69"/>
<rect x="445.40" y="197.65" width="3.70" height="2.65" fill="#64cd6f"/>
<rect x="448.80" y="197.65" width="3.70" height="2.65" fill="#5dcc75"/>
<rect x="452.20" y="197.65" width="7.10" height="2.65" fill="#57cc7a"/>
<rect x="459.00" y="197.65" width="3.70" height="2.65" fill="#50cc7f"/>
<rect x="462.40" y="197.65" width="7.10" height="2.65" fill="#4acb84"/>
<rect x="333.20" y="200.00" width="3.70" height="2.65" fill="#fec03a"/>
<rect x="336.60" y="200.00" width="3.70" height="2.65" fill="#febe3c"/>
<rect x="340.00" y="200.00" width="3.70" height="2.65" fill="#fbbc3d"/>
<rect x="343.40" y="200.00" width="7.10" height="2.65" fill="#f8ba3d"/>
<rect x="350.20" y="200.00" width="3.70" height="2.65" fill="#f4ba39"/>
<rect x="353.60" y="200.00" width="3.70" height="2.65" fill="#f0ba36"/>
<rect x="357.00" y="200.00" width="3.70" height="2.65" fill="#ebba31"/>
<rect x="360.40" y="200.00" width="3.70" height="2.65" fill="#e6bb2d"/>
<rect x="363.80" y="200.00" width="3.70" height="2.65" fill="#e1bc2b"/>
<rect x="367.20" y="200.00" width="3.70" height="2.65" fill="#dcbd29"/>
<rect x="370.60" y="200.00" width="7.10" height="2.65" fill="#d7be28"/>
<rect x="377.40" y="200.00" width="3.70" height="2.65" fill="#d1bf27"/>
<rect x="380.80" y="200.00" width="3.70" height="2.65" fill="#cbc029"/>
<rect x="384.20" y="200.00" width="3.70" height="2.65" fill="#c5c22a"/>
<rect x="387.60" y="200.00" width="3.70" height="2.65" fill="#bfc32d"/>
<rect x="391.00" y="200.00" width="7.10" height="2.65" fill="#b9c431"/>
<rect x="397.80" y="200.00" width="3.70" height="2.65" fill="#b2c635"/>
<rect x="401.20" y="200.00" width="7.10" height="2.65" fill="#abc739"/>
<rect x="408.00" y="200.00" width="3.70" height="2.65" fill="#a4c83e"/>
<rect x="411.40" y="200.00" width="3.70" height="2.65" fill="#9dc943"/>
<rect x="414.80" y="200.00" width="7.10" height="2.65" fill="#96ca48"/>
<rect x="421.60" y="200.00" width="3.70" height="2.65" fill="#8fcb4e"/>
<rect x="425.00" y="200.00" width="3.70" height="2.65" fill="#88cb53"/>
<rect x="428.40" y="200.00" width="3.70" height="2.65" fill="#81cc59"/>
<rect x="431.80" y="200.00" width="3.70" height="2.65" fill="#79cc5e"/>
<rect x="435.20" y="200.00" width="3.70" height="2.65" fill="#72cd64"/>
<rect x="438.60" y="200.00" width="3.70" height="2.65" fill="#6bcd69"/>
<rect x="442.00" y="200.00" width="3.70" height="2.65" fill="#64cd6f"/>
<rect x="445.40" y="200.00" width="3.70" height="2.65" fill="#5dcc75"/>
<rect x="448.80" y="200.00" width="3.70" height="2.65" fill="#57cc7a"/>
<rect x="452.20" y="200.00" width="7.10" height="2.65" fill="#50cc7f"/>
<rect x="459.00" y="200.00" width="3.70" height="2.65" fill="#4acb84"/>
<rect x="462.40" y="200.00" width="7.10" height="2.65" fill="#45cb89"/>
<rect x="333.20" y="202.36" width="3.70" height="2.65" fill="#fec03a"/>
<rect x="336.60" y="202.36" width="3.70" height="2.65" fill="#febe3c"/>
<rect x="340.00" y="202.36" width="3.70" height="2.65" fill="#fbbc3d"/>
<rect x="343.40" y="202.36" width="3.70" height="2.65" fill="#f8ba3d"/>
<rect x="346.80" y="202.36" width="7.10" height="2.65" fill="#f4ba39"/>
<rect x="353.60" y="202.36" width="3.70" height="2.65" fill="#f0ba36"/>
<rect x="357.00" y="202.36" width="3.70" height="2.65" fill="#ebba31"/>
<rect x="360.40" y="202.36" width="3.70" height="2.65" fill="#e6bb2d"/>
<rect x="363.80" y="202.36" width="3.70" height="2.65" fill="#e1bc2b"/>
<rect x="367.20" y="202.36" width="3.70" height="2.65" fill="#dcbd29"/>
<rect x="370.60" y="202.36" width="3.70" height="2.65" fill="#d7be28"/>
<rect x="374.00" y="202.36" width="3.70" height="2.65" fill="#d1bf27"/>
<rect x="377.40" y="202.36" width="3.70" height="2.65" fill="#cbc029"/>
<rect x="380.80" y="202.36" width="7.10" height="2.65" fill="#c5c22a"/>
<rect x="387.60" y="202.36" width="3.70" height="2.65" fill="#bfc32d"/>
<rect x="391.00" y="202.36" width="3.70" height="2.65" fill="#b9c431"/>
<rect x="394.40" y="202.36" width="3.70" height="2.65" fill="#b2c635"/>
<rect x="397.80" y="202.36" width="7.10" height="2.65" fill="#abc739"/>
<rect x="404.60" y="202.36" width="3.70" height="2.65" fill="#a4c83e"/>
<rect x="408.00" y="202.36" width="3.70" height="2.65" fill="#9dc943"/>
<rect x="411.40" y="202.36" width="7.10" height="2.65" fill="#96ca48"/>
<rect x="418.20" y="202.36" width="3.70" height="2.65" fill="#8fcb4e"/>
<rect x="421.60" y="202.36" width="3.70" height="2.65" fill="#88cb53"/>
<rect x="425.00" y="202.36" width="3.70" height="2.65" fill="#81cc59"/>
<rect x="428.40" y="202.36" width="3.70" height="2.65" fill="#79cc5e"/>
<rect x="431.80" y="202.36" width="3.70" height="2.65" fill="#72cd64"/>
<rect x="435.20" y="202.36" width="3.70" height="2.65" fill="#6bcd69"/>
<rect x="438.60" y="202.36" width="3.70" height="2.65" fill="#64cd6f"/>
<rect x="442.00" y="202.36" width="3.70" height="2.65" fill="#5dcc75"/>
<rect x="445.40" y="202.36" width="3.70" height="2.65" fill="#57cc7a"/>
<rect x="448.80" y="202.36" width="7.10" height="2.65" fill="#50cc7f"/>
<rect x="455.60" y="202.36" width="3.70" height="2.65" fill="#4acb84"/>
<rect x="459.00" y="202.36" width="7.10" height="2.65" fill="#45cb89"/>
<rect x="465.80" y="202.36" width="3.70" height="2.65" fill="#3fca8e"/>
<rect x="333.20" y="204.71" width="3.70" height="2.65" fill="#fec03a"/>
<rect x="336.60" y="204.71" width="3.70" height="2.65" fill="#febe3c"/>
<rect x="340.00" y="204.71" width="3.70" height="2.65" fill="#fbbc3d"/>
<rect x="343.40" y="204.71" width="3.70" height="2.65" fill="#f8ba3d"/>
<rect x="346.80" y="204.71" width="3.70" height="2.65" fill="#f4ba39"/>
<rect x="350.20" y="204.71" width="3.70" height="2.65" fill="#f0ba36"/>
<rect x="353.60" y="204.71" width="3.70" height="2.65" fill="#ebba31"/>
<rect x="357.00" y="204.71" width="7.10" height="2.65" fill="#e6bb2d"/>
<rect x="363.80" y="204.71" width="3.70" height="2.65" fill="#e1bc2b"/>
<rect x="367.20" y="204.71" width="3.70" height="2.65" fill="#dcbd29"/>
<rect x="370.60" y="204.71" width="3.70" height="2.65" fill="#d7be28"/>
<rect x="374.00" y="204.71" width="3.70" height="2.65" fill="#d1bf27"/>
<rect x="377.40" y="204.71" width="3.70" height="2.65" fill="#cbc029"/>
<rect x="380.80" y="204.71" width="3.70" height="2.65" fill="#c5c22a"/>
<rect x="384.20" y="204.71" width="3.70" height="2.65" fill="#bfc32d"/>
<rect x="387.60" y="204.71" width="3.70" height="2.65" fill="#b9c431"/>
<rect x="391.00" y="204.71" width="7.10" height="2.65" fill="#b2c635"/>
<rect x="397.80" y="204.71" width="3.70" height="2.65" fill="#abc739"/>
<rect x="401.20" y="204.71" width="3.70" height="2.65" fill="#a4c83e"/>
<rect x="404.60" y="204.71" width="3.70" height="2.65" fill="#9dc943"/>
<rect x="408.00" y="204.71" width="7.10" height="2.65" fill="#96ca48"/>
<rect x="414.80" y="204.71" width="3.70" height="2.65" fill="#8fcb4e"/>
<rect x="418.20" y="204.71" width="3.70" height="2.65" fill="#88cb53"/>
<rect x="421.60" y="204.71" width="3.70" height="2.65" fill="#81cc59"/>
<rect x="425.00" y="204.71" width="3.70" height="2.65" fill="#79cc5e"/>
<rect x="428.40" y="204.71" width="3.70" height="2.65" fill="#72cd64"/>
<rect x="431.80" y="204.71" width="3.70" height="2.65" fill="#6bcd69"/>
<rect x="435.20" y="204.71" width="3.70" height="2.65" fill="#64cd6f"/>
<rect x="438.60" y="204.71" width="3.70" height="2.65" fill="#5dcc75"/>
<rect x="442.00" y="204.71" width="3.70" height="2.65" fill="#57cc7a"/>
<rect x="445.40" y="204.71" width="3.70" height="2.65" fill="#50cc7f"/>
<rect x="448.80" y="204.71" width="7.10" height="2.65" fill="#4acb84"/>
<rect x="455.60" y="204.71" width="3.70" height="2.65" fill="#45cb89"/>
<rect x="459.00" y="204.71" width="7.10" height="2.65" fill="#3fca8e"/>
<rect x="465.80" y="204.71" width="3.70" height="2.65" fill="#3bc992"/>
<rect x="333.20" y="207.06" width="3.70" height="2.65" fill="#fec03a"/>
<rect x="336.60" y="207.06" width="3.70" height="2.65" fill="#febe3c"/>
<rect x="340.00" y="207.06" width="3.70" height="2.65" fill="#fbbc3d"/>
<rect x="343.40" y="207.06" width="3.70" height="2.65" fill="#f8ba3d"/>
<rect x="346.80" y="207.06" width="3.70" height="2.65" fill="#f4ba39"/>
<rect x="350.20" y="207.06" width="3.70" height="2.65" fill="#f0ba36"/>
<rect x="353.60" y="207.06" width="3.70" height="2.65" fill="#ebba31"/>
<rect x="357.00" y="207.06" width="3.70" height="2.65" fill="#e6bb2d"/>
<rect x="360.40" y="207.06" width="3.70" height="2.65" fill="#e1bc2b"/>
<rect x="363.80" y="207.06" width="3.70" height="2.65" fill="#dcbd29"/>
<rect x="367.20" y="207.06" width="3.70" height="2.65" fill="#d7be28"/>
<rect x="370.60" y="207.06" width="3.70" height="2.65" fill="#d1bf27"/>
<rect x="374.00" y="207.06" width="3.70" height="2.65" fill="#cbc029"/>
<rect x="377.40" y="207.06" width="3.70" height="2.65" fill="#c5c22a"/>
<rect x="380.80" y="207.06" width="3.70" height="2.65" fill="#bfc32d"/>
<rect x="384.20" y="207.06" width="7.10" height="2.65" fill="#b9c431"/>
<rect x="391.00" y="207.06" width="3.70" height="2.65" fill="#b2c635"/>
<rect x="394.40" y="207.06" width="3.70" height="2.65" fill="#abc739"/>
<rect x="397.80" y="207.06" width="3.70" height="2.65" fill="#a4c83e"/>
<rect x="401.20" y="207.06" width="3.70" height="2.65" fill="#9dc943"/>
<rect x="404.60" y="207.06" width="7.10" height="2.65" fill="#96ca48"/>
<rect x="411.40" y="207.06" width="3.70" height="2.65" fill="#8fcb4e"/>
<rect x="414.80" y="207.06" width="3.70" height="2.65" fill="#88cb53"/>
<rect x="418.20" y="207.06" width="3.70" height="2.65" fill="#81cc59"/>
<rect x="421.60" y="207.06" width="3.70" height="2.65" fill="#79cc5e"/>
<rect x="425.00" y="207.06" width="3.70" height="2.65" fill="#72cd64"/>
<rect x="428.40" y="207.06" width="3.70" height="2.65" fill="#6bcd69"/>
<rect x="431.80" y="207.06" width="3.70" height="2.65" fill="#64cd6f"/>
<rect x="435.20" y="207.06" width="3.70" height="2.65" fill="#5dcc75"/>
<rect x="438.60" y="207.06" width="3.70" height="2.65" fill="#57cc7a"/>
<rect x="442.00" y="207.06" width="3.70" height="2.65" fill="#50cc7f"/>
<rect x="445.40" y="207.06" width="3.70" height="2.65" fill="#4acb84"/>
<rect x="448.80" y="207.06" width="7.10" height="2.65" fill="#45cb89"/>
<rect x="455.60" y="207.06" width="3.70" height="2.65" fill="#3fca8e"/>
<rect x="459.00" y="207.06" width="7.10" height="2.65" fill="#3bc992"/>
<rect x="465.80" y="207.06" width="3.70" height="2.65" fill="#37c897"/>
<rect x="333.20" y="209.42" width="3.70" height="2.65" fill="#fec03a"/>
<rect x="336.60" y="209.42" width="3.70" height="2.65" fill="#febe3c"/>
<rect x="340.00" y="209.42" width="3.70" height="2.65" fill="#fbbc3d"/>
<rect x="343.40" y="209.42" width="3.70" height="2.65" fill="#f8ba3d"/>
<rect x="346.80" y="209.42" width="3.70" height="2.65" fill="#f4ba39"/>
<rect x="350.20" y="209.42" width="3.70" height="2.65" fill="#f0ba36"/>
<rect x="353.60" y="209.42" width="3.70" height="2.65" fill="#ebba31"/>
<rect x="357.00" y="209.42" width="3.70" height="2.65" fill="#e6bb2d"/>
<rect x="360.40" y="209.42" width="3.70" height="2.65" fill="#e1bc2b"/>
<rect x="363.80" y="209.42" width="3.70" height="2.65" fill="#dcbd29"/>
<rect x="367.20" y="209.42" width="3.70" height="2.65" fill="#d7be28"/>
<rect x="370.60" y="209.42" width="3.70" height="2.65" fill="#d1bf27"/>
<rect x="374.00" y="209.42" width="3.70" height="2.65" fill="#cbc029"/>
<rect x="377.40" y="209.42" width="3.70" height="2.65" fill="#c5c22a"/>
<rect x="380.80" y="209.42" width="3.70" height="2.65" fill="#bfc32d"/>
<rect x="384.20" y="209.42" width="3.70" height="2.65" fill="#b9c431"/>
<rect x="387.60" y="209.42" width="3.70" height="2.65" fill="#b2c635"/>
<rect x="391.00" y="209.42" width="3.70" height="2.65" fill="#abc739"/>
<rect x="394.40" y="209.42" width="3.70" height="2.65" fill="#a4c83e"/>
<rect x="397.80" y="209.42" width="3.70" height="2.65" fill="#9dc943"/>
<rect x="401.20" y="209.42" width="3.70" height="2.65" fill="#96ca48"/>
<rect x="404.60" y="209.42" width="7.10" height="2.65" fill="#8fcb4e"/>
<rect x="411.40" y="209.42" width="3.70" height="2.65" fill="#88cb53"/>
<rect x="414.80" y="209.42" width="3.70" height="2.65" fill="#81cc59"/>
<rect x="418.20" y="209.42" width="3.70" height="2.65" fill="#79cc5e"/>
<rect x="421.60" y="209.42" width="3.70" height="2.65" fill="#72cd64"/>
<rect x="425.00" y="209.42" width="3.70" height="2.65" fill="#6bcd69"/>
<rect x="428.40" y="209.42" width="3.70" height="2.65" fill="#5dcc75"/>
<rect x="431.80" y="209.42" width="3.70" height="2.65" fill="#57cc7a"/>
<rect x="435.20" y="209.42" width="7.10" height="2.65" fill="#50cc7f"/>
<rect x="442.00" y="209.42" width="3.70" height="2.65" fill="#4acb84"/>
<rect x="445.40" y="209.42" width="3.70" height="2.65" fill="#45cb89"/>
<rect x="448.80" y="209.42" width="7.10" height="2.65" fill="#3fca8e"/>
<rect x="455.60" y="209.42" width="3.70" height="2.65" fill="#3bc992"/>
<rect x="459.00" y="209.42" width="7.10" height="2.65" fill="#37c897"/>
<rect x="465.80" y="209.42" width="3.70" height="2.65" fill="#34c79b"/>
<rect x="333.20" y="211.78" width="3.70" height="2.65" fill="#fec03a"/>
<rect x="336.60" y="211.78" width="3.70" height="2.65" fill="#febe3c"/>
<rect x="340.00" y="211.78" width="3.70" height="2.65" fill="#fbbc3d"/>
<rect x="343.40" y="211.78" width="3.70" height="2.65" fill="#f8ba3d"/>
<rect x="346.80" y="211.78" width="3.70" height="2.65" fill="#f4ba39"/>
<rect x="350.20" y="211.78" width="3.70" height="2.65" fill="#f0ba36"/>
<rect x="353.60" y="211.78" width="3.70" height="2.65" fill="#ebba31"/>
<rect x="357.00" y="211.78" width="3.70" height="2.65" fill="#e6bb2d"/>
<rect x="360.40" y="211.78" width="3.70" height="2.65" fill="#e1bc2b"/>
<rect x="363.80" y="211.78" width="3.70" height="2.65" fill="#dcbd29"/>
<rect x="367.20" y="211.78" width="3.70" height="2.65" fill="#d7be28"/>
<rect x="370.60" y="211.78" width="3.70" height="2.65" fill="#cbc029"/>
<rect x="374.00" y="211.78" width="3.70" height="2.65" fill="#c5c22a"/>
<rect x="377.40" y="211.78" width="3.70" height="2.65" fill="#bfc32d"/>
<rect x="380.80" y="211.78" width="3.70" height="2.65" fill="#b9c431"/>
<rect x="384.20" y="211.78" width="3.70" height="2.65" fill="#b2c635"/>
<rect x="387.60" y="211.78" width="3.70" height="2.65" fill="#abc739"/>
<rect x="391.00" y="211.78" width="3.70" height="2.65" fill="#a4c83e"/>
<rect x="394.40" y="211.78" width="3.70" height="2.65" fill="#9dc943"/>
<rect x="397.80" y="211.78" width="3.70" height="2.65" fill="#96ca48"/>
<rect x="401.20" y="211.78" width="3.70" height="2.65" fill="#8fcb4e"/>
<rect x="404.60" y="211.78" width="3.70" height="2.65" fill="#88cb53"/>
<rect x="408.00" y="211.78" width="3.70" height="2.65" fill="#81cc59"/>
<rect x="411.40" y="211.78" width="3.70" height="2.65" fill="#79cc5e"/>
<rect x="414.80" y="211.78" width="3.70" height="2.65" fill="#72cd64"/>
<rect x="418.20" y="211.78" width="3.70" height="2.65" fill="#6bcd69"/>
<rect x="421.60" y="211.78" width="3.70" height="2.65" fill="#64cd6f"/>
<rect x="425.00" y="211.78" width="3.70" height="2.65" fill="#5dcc75"/>
<rect x="428.40" y="211.78" width="3.70" height="2.65" fill="#57cc7a"/>
<rect x="431.80" y="211.78" width="3.70" height="2.65" fill="#50cc7f"/>
<rect x="435.20" y="211.78" width="3.70" height="2.65" fill="#4acb84"/>
<rect x="438.60" y="211.78" width="7.10" height="2.65" fill="#45cb89"/>
<rect x="445.40" y="211.78" width="3.70" height="2.65" fill="#3fca8e"/>
<rect x="448.80" y="211.78" width="3.70" height="2.65" fill="#3bc992"/>
<rect x="452.20" y="211.78" width="7.10" height="2.65" fill="#37c897"/>
<rect x="459.00" y="211.78" width="7.10" height="2.65" fill="#34c79b"/>
<rect x="465.80" y="211.78" width="3.70" height="2.65" fill="#31c69f"/>
<rect x="333.20" y="214.13" width="3.70" height="2.65" fill="#fec03a"/>
<rect x="336.60" y="214.13" width="3.70" height="2.65" fill="#febe3c"/>
<rect x="340.00" y="214.13" width="3.70" height="2.65" fill="#fbbc3d"/>
<rect x="343.40" y="214.13" width="3.70" height="2.65" fill="#f8ba3d"/>
<rect x="346.80" y="214.13" width="3.70" height="2.65" fill="#f4ba39"/>
<rect x="350.20" y="214.13" width="3.70" height="2.65" fill="#ebba31"/>
<rect x="353.60" y="214.13" width="3.70" height="2.65" fill="#e6bb2d"/>
<rect x="357.00" y="214.13" width="3.70" height="2.65" fill="#e1bc2b"/>
<rect x="360.40" y="214.13" width="3.70" height="2.65" fill="#dcbd29"/>
<rect x="363.80" y="214.13" width="3.70" height="2.65" fill="#d7be28"/>
<rect x="367.20" y="214.13" width="3.70" height="2.65" fill="#d1bf27"/>
<rect x="370.60" y="214.13" width="3.70" height="2.65" fill="#cbc029"/>
<rect x="374.00" y="214.13" width="3.70" height="2.65" fill="#c5c22a"/>
<rect x="377.40" y="214.13" width="3.70" height="2.65" fill="#bfc32d"/>
<rect x="380.80" y="214.13" width="3.70" height="2.65" fill="#b9c431"/>
<rect x="384.20" y="214.13" width="3.70" height="2.65" fill="#b2c635"/>
<rect x="387.60" y="214.13" width="3.70" height="2.65" fill="#abc739"/>
<rect x="391.00" y="214.13" width="3.70" height="2.65" fill="#a4c83e"/>
<rect x="394.40" y="214.13" width="3.70" height="2.65" fill="#9dc943"/>
<rect x="397.80" y="214.13" width="3.70" height="2.65" fill="#8fcb4e"/>
<rect x="401.20" y="214.13" width="3.70" height="2.65" fill="#88cb53"/>
<rect x="404.60" y="214.13" width="3.70" height="2.65" fill="#81cc59"/>
<rect x="408.00" y="214.13" width="3.70" height="2.65" fill="#79cc5e"/>
<rect x="411.40" y="214.13" width="3.70" height="2.65" fill="#72cd64"/>
<rect x="414.80" y="214.13" width="3.70" height="2.65" fill="#6bcd69"/>
<rect x="418.20" y="214.13" width="3.70" height="2.65" fill="#64cd6f"/>
<rect x="421.60" y="214.13" width="3.70" height="2.65" fill="#5dcc75"/>
<rect x="425.00" y="214.13" width="3.70" height="2.65" fill="#57cc7a"/>
<rect x="428.40" y="214.13" width="3.70" height="2.65" fill="#50cc7f"/>
<rect x="431.80" y="214.13" width="3.70" height="2.65" fill="#4acb84"/>
<rect x="435.20" y="214.13" width="3.70" height="2.65" fill="#45cb89"/>
<rect x="438.60" y="214.13" width="3.70" height="2.65" fill="#3fca8e"/>
<rect x="442.00" y="214.13" width="7.10" height="2.65" fill="#3bc992"/>
<rect x="448.80" y="214.13" width="3.70" height="2.65" fill="#37c897"/>
<rect x="452.20" y="214.13" width="7.10" height="2.65" fill="#34c79b"/>
<rect x="459.00" y="214.13" width="7.10" height="2.65" fill="#31c69f"/>
<rect x="465.80" y="214.13" width="3.70" height="2.65" fill="#2fc5a3"/>
<rect x="333.20" y="216.49" width="3.70" height="2.65" fill="#fec03a"/>
<rect x="336.60" y="216.49" width="3.70" height="2.65" fill="#febe3c"/>
<rect x="340.00" y="216.49" width="3.70" height="2.65" fill="#f8ba3d"/>
<rect x="343.40" y="216.49" width="3.70" height="2.65" fill="#f4ba39"/>
<rect x="346.80" y="216.49" width="3.70" height="2.65" fill="#f0ba36"/>
<rect x="350.20" y="216.49" width="3.70" height="2.65" fill="#ebba31"/>
<rect x="353.60" y="216.49" width="3.70" height="2.65" fill="#e6bb2d"/>
<rect x="357.00" y="216.49" width="3.70" height="2.65" fill="#e1bc2b"/>
<rect x="360.40" y="216.49" width="3.70" height="2.65" fill="#dcbd29"/>
<rect x="363.80" y="216.49" width="3.70" height="2.65" fill="#d7be28"/>
<rect x="367.20" y="216.49" width="3.70" height="2.65" fill="#d1bf27"/>
<rect x="370.60" y="216.49" width="3.70" height="2.65" fill="#cbc029"/>
<rect x="374.00" y="216.49" width="3.70" height="2.65" fill="#bfc32d"/>
<rect x="377.40" y="216.49" width="3.70" height="2.65" fill="#b9c431"/>
<rect x="380.80" y="216.49" width="3.70" height="2.65" fill="#b2c635"/>
<rect x="384.20" y="216.49" width="3.70" height="2.65" fill="#abc739"/>
<rect x="387.60" y="216.49" width="3.70" height="2.65" fill="#a4c83e"/>
<rect x="391.00" y="216.49" width="3.70" height="2.65" fill="#9dc943"/>
<rect x="394.40" y="216.49" width="3.70" height="2.65" fill="#96ca48"/>
<rect x="397.80" y="216.49" width="3.70" height="2.65" fill="#8fcb4e"/>
<rect x="401.20" y="216.49" width="3.70" height="2.65" fill="#81cc59"/>
<rect x="404.60" y="216.49" width="3.70" height="2.65" fill="#79cc5e"/>
<rect x="408.00" y="216.49" width="3.70" height="2.65" fill="#72cd64"/>
<rect x="411.40" y="216.49" width="3.70" height="2.65" fill="#6bcd69"/>
<rect x="414.80" y="216.49" width="3.70" height="2.65" fill="#64cd6f"/>
<rect x="418.20" y="216.49" width="3.70" height="2.65" fill="#5dcc75"/>
<rect x="421.60" y="216.49" width="3.70" height="2.65" fill="#57cc7a"/>
<rect x="425.00" y="216.49" width="3.70" height="2.65" fill="#50cc7f"/>
<rect x="428.40" y="216.49" width="3.70" height="2.65" fill="#4acb84"/>
<rect x="431.80" y="216.49" width="3.70" height="2.65" fill="#45cb89"/>
<rect x="435.20" y="216.49" width="3.70" height="2.65" fill="#3fca8e"/>
<rect x="438.60" y="216.49" width="3.70" height="2.65" fill="#3bc992"/>
<rect x="442.00" y="216.49" width="3.70" height="2.65" fill="#37c897"/>
<rect x="445.40" y="216.49" width="7.10" height="2.65" fill="#34c79b"/>
<rect x="452.20" y="216.49" width="3.70" height="2.65" fill="#31c69f"/>
<rect x="455.60" y="216.49" width="10.50" height="2.65" fill="#2fc5a3"/>
<rect x="465.80" y="216.49" width="3.70" height="2.65" fill="#2cc4a7"/>
<rect x="333.20" y="218.84" width="3.70" height="2.65" fill="#fec03a"/>
<rect x="336.60" y="218.84" width="3.70" height="2.65" fill="#fbbc3d"/>
<rect x="340.00" y="218.84" width="3.70" height="2.65" fill="#f8ba3d"/>
<rect x="343.40" y="218.84" width="3.70" height="2.65" fill="#f4ba39"/>
<rect x="346.80" y="218.84" width="3.70" height="2.65" fill="#f0ba36"/>
<rect x="350.20" y="218.84" width="3.70" height="2.65" fill="#ebba31"/>
<rect x="353.60" y="218.84" width="3.70" height="2.65" fill="#e6bb2d"/>
<rect x="357.00" y="218.84" width="3.70" height="2.65" fill="#e1bc2b"/>
<rect x="360.40" y="218.84" width="3.70" height="2.65" fill="#dcbd29"/>
<rect x="363.80" y="218.84" width="3.70" height="2.65" fill="#d1bf27"/>
<rect x="367.20" y="218.84" width="3.70" height="2.65" fill="#cbc029"/>
<rect x="370.60" y="218.84" width="3.70" height="2.65" fill="#c5c22a"/>
<rect x="374.00" y="218.84" width="3.70" height="2.65" fill="#bfc32d"/>
<rect x="377.40" y="218.84" width="3.70" height="2.65" fill="#b9c431"/>
<rect x="380.80" y="218.84" width="3.70" height="2.65" fill="#b2c635"/>
<rect x="384.20" y="218.84" width="3.70" height="2.65" fill="#a4c83e"/>
<rect x="387.60" y="218.84" width="3.70" height="2.65" fill="#9dc943"/>
<rect x="391.00" y="218.84" width="3.70" height="2.65" fill="#96ca48"/>
<rect x="394.40" y="218.84" width="3.70" height="2.65" fill="#8fcb4e"/>
<rect x="397.80" y="218.84" width="3.70" height="2.65" fill="#88cb53"/>
<rect x="401.20" y="218.84" width="3.70" height="2.65" fill="#79cc5e"/>
<rect x="404.60" y="218.84" width="3.70" height="2.65" fill="#72cd64"/>
<rect x="408.00" y="218.84" width="3.70" height="2.65" fill="#6bcd69"/>
<rect x="411.40" y="218.84" width="3.70" height="2.65" fill="#64cd6f"/>
<rect x="414.80" y="218.84" width="3.70" height="2.65" fill="#5dcc75"/>
<rect x="418.20" y="218.84" width="3.70" height="2.65" fill="#57cc7a"/>
<rect x="421.60" y="218.84" width="3.70" height="2.65" fill="#50cc7f"/>
<rect x="425.00" y="218.84" width="3.70" height="2.65" fill="#4acb84"/>
<rect x="428.40" y="218.84" width="3.70" height="2.65" fill="#3fca8e"/>
<rect x="431.80" y="218.84" width="7.10" height="2.65" fill="#3bc992"/>
<rect x="438.60" y="218.84" width="3.70" height="2.65" fill="#37c897"/>
<rect x="442.00" y="218.84" width="3.70" height="2.65" fill="#34c79b"/>
<rect x="445.40" y="218.84" width="3.70" height="2.65" fill="#31c69f"/>
<rect x="448.80" y="218.84" width="7.10" height="2.65" fill="#2fc5a3"/>
<rect x="455.60" y="218.84" width="7.10" height="2.65" fill="#2cc4a7"/>
<rect x="462.40" y="218.84" width="7.10" height="2.65" fill="#28c2ab"/>
<rect x="333.20" y="221.19" width="3.70" height="2.65" fill="#fec03a"/>
<rect x="336.60" y="221.19" width="3.70" height="2.65" fill="#fbbc3d"/>
<rect x="340.00" y="221.19" width="3.70" height="2.65" fill="#f8ba3d"/>
<rect x="343.40" y="221.19" width="3.70" height="2.65" fill="#f4ba39"/>
<rect x="346.80" y="221.19" width="3.70" height="2.65" fill="#f0ba36"/>
<rect x="350.20" y="221.19" width="3.70" height="2.65" fill="#ebba31"/>
<rect x="353.60" y="221.19" width="3.70" height="2.65" fill="#e6bb2d"/>
<rect x="357.00" y="221.19" width="3.70" height="2.65" fill="#dcbd29"/>
<rect x="360.40" y="221.19" width="3.70" height="2.65" fill="#d7be28"/>
<rect x="363.80" y="221.19" width="3.70" height="2.65" fill="#d1bf27"/>
<rect x="367.20" y="221.19" width="3.70" height="2.65" fill="#cbc029"/>
<rect x="370.60" y="221.19" width="3.70" height="2.65" fill="#c5c22a"/>
<rect x="374.00" y="221.19" width="3.70" height="2.65" fill="#b9c431"/>
<rect x="377.40" y="221.19" width="3.70" height="2.65" fill="#b2c635"/>
<rect x="380.80" y="221.19" width="3.70" height="2.65" fill="#abc739"/>
<rect x="384.20" y="221.19" width="3.70" height="2.65" fill="#a4c83e"/>
<rect x="387.60" y="221.19" width="3.70" height="2.65" fill="#96ca48"/>
<rect x="391.00" y="221.19" width="3.70" height="2.65" fill="#8fcb4e"/>
<rect x="394.40" y="221.19" width="3.70" height="2.65" fill="#88cb53"/>
<rect x="397.80" y="221.19" width="3.70" height="2.65" fill="#81cc59"/>
<rect x="401.20" y="221.19" width="3.70" height="2.65" fill="#72cd64"/>
<rect x="404.60" y="221.19" width="3.70" height="2.65" fill="#6bcd69"/>
<rect x="408.00" y="221.19" width="3.70" height="2.65" fill="#64cd6f"/>
<rect x="411.40" y="221.19" width="3.70" height="2.65" fill="#5dcc75"/>
<rect x="414.80" y="221.19" width="3.70" height="2.65" fill="#57cc7a"/>
<rect x="418.20" y="221.19" width="3.70" height="2.65" fill="#50cc7f"/>
<rect x="421.60" y="221.19" width="3.70" height="2.65" fill="#45cb89"/>
<rect x="425.00" y="221.19" width="3.70" height="2.65" fill="#3fca8e"/>
<rect x="428.40" y="221.19" width="3.70" height="2.65" fill="#3bc992"/>
<rect x="431.80" y="221.19" width="3.70" height="2.65" fill="#37c897"/>
<rect x="435.20" y="221.19" width="3.70" height="2.65" fill="#34c79b"/>
<rect x="438.60" y="221.19" width="7.10" height="2.65" fill="#31c69f"/>
<rect x="445.40" y="221.19" width="3.70" height="2.65" fill="#2fc5a3"/>
<rect x="448.80" y="221.19" width="3.70" height="2.65" fill="#2cc4a7"/>
<rect x="452.20" y="221.19" width="7.10" height="2.65" fill="#28c2ab"/>
<rect x="459.00" y="221.19" width="10.50" height="2.65" fill="#24c1ae"/>
<rect x="333.20" y="223.55" width="3.70" height="2.65" fill="#fec03a"/>
<rect x="336.60" y="223.55" width="3.70" height="2.65" fill="#fbbc3d"/>
<rect x="340.00" y="223.55" width="3.70" height="2.65" fill="#f8ba3d"/>
<rect x="343.40" y="223.55" width="3.70" height="2.65" fill="#f4ba39"/>
<rect x="346.80" y="223.55" width="3.70" height="2.65" fill="#f0ba36"/>
<rect x="350.20" y="223.55" width="3.70" height="2.65" fill="#ebba31"/>
<rect x="353.60" y="223.55" width="3.70" height="2.65" fill="#e1bc2b"/>
<rect x="357.00" y="223.55" width="3.70" height="2.65" fill="#dcbd29"/>
<rect x="360.40" y="223.55" width="3.70" height="2.65" fill="#d7be28"/>
<rect x="363.80" y="223.55" width="3.70" height="2.65" fill="#d1bf27"/>
<rect x="367.20" y="223.55" width="3.70" height="2.65" fill="#c5c22a"/>
<rect x="370.60" y="223.55" width="3.70" height="2.65" fill="#bfc32d"/>
<rect x="374.00" y="223.55" width="3.70" height="2.65" fill="#b9c431"/>
<rect x="377.40" y="223.55" width="3.70" height="2.65" fill="#abc739"/>
<rect x="380.80" y="223.55" width="3.70" height="2.65" fill="#a4c83e"/>
<rect x="384.20" y="223.55" width="3.70" height="2.65" fill="#9dc943"/>
<rect x="387.60" y="223.55" width="3.70" height="2.65" fill="#96ca48"/>
<rect x="391.00" y="223.55" width="3.70" height="2.65" fill="#88cb53"/>
<rect x="394.40" y="223.55" width="3.70" height="2.65" fill="#81cc59"/>
<rect x="397.80" y="223.55" width="3.70" height="2.65" fill="#79cc5e"/>
<rect x="401.20" y="223.55" width="3.70" height="2.65" fill="#6bcd69"/>
<rect x="404.60" y="223.55" width="3.70" height="2.65" fill="#64cd6f"/>
<rect x="408.00" y="223.55" width="3.70" height="2.65" fill="#5dcc75"/>
<rect x="411.40" y="223.55" width="3.70" height="2.65" fill="#57cc7a"/>
<rect x="414.80" y="223.55" width="3.70" height="2.65" fill="#50cc7f"/>
<rect x="418.20" y="223.55" width="3.70" height="2.65" fill="#45cb89"/>
<rect x="421.60" y="223.55" width="3.70" height="2.65" fill="#3fca8e"/>
<rect x="425.00" y="223.55" width="3.70" height="2.65" fill="#3bc992"/>
<rect x="428.40" y="223.55" width="3.70" height="2.65" fill="#37c897"/>
<rect x="431.80" y="223.55" width="3.70" height="2.65" fill="#34c79b"/>
<rect x="435.20" y="223.55" width="3.70" height="2.65" fill="#31c69f"/>
<rect x="438.60" y="223.55" width="3.70" height="2.65" fill="#2fc5a3"/>
<rect x="442.00" y="223.55" width="3.70" height="2.65" fill="#2cc4a7"/>
<rect x="445.40" y="223.55" width="7.10" height="2.65" fill="#28c2ab"/>
<rect x="452.20" y="223.55" width="7.10" height="2.65" fill="#24c1ae"/>
<rect x="459.00" y="223.55" width="7.10" height="2.65" fill="#1ec0b2"/>
<rect x="465.80" y="223.55" width="3.70" height="2.65" fill="#19bfb6"/>
<rect x="333.20" y="225.91" width="3.70" height="2.65" fill="#febe3c"/>
<rect x="336.60" y="225.91" width="3.70" height="2.65" fill="#fbbc3d"/>
<rect x="340.00" y="225.91" width="3.70" height="2.65" fill="#f8ba3d"/>
<rect x="343.40" y="225.91" width="3.70" height="2.65" fill="#f4ba39"/>
<rect x="346.80" y="225.91" width="3.70" height="2.65" fill="#f0ba36"/>
<rect x="350.20" y="225.91" width="3.70" height="2.65" fill="#e6bb2d"/>
<rect x="353.60" y="225.91" width="3.70" height="2.65" fill="#e1bc2b"/>
<rect x="357.00" y="225.91" width="3.70" height="2.65" fill="#dcbd29"/>
<rect x="360.40" y="225.91" width="3.70" height="2.65" fill="#d1bf27"/>
<rect x="363.80" y="225.91" width="3.70" height="2.65" fill="#cbc029"/>
<rect x="367.20" y="225.91" width="3.70" height="2.65" fill="#c5c22a"/>
<rect x="370.60" y="225.91" width="3.70" height="2.65" fill="#b9c431"/>
<rect x="374.00" y="225.91" width="3.70" height="2.65" fill="#b2c635"/>
<rect x="377.40" y="225.91" width="3.70" height="2.65" fill="#abc739"/>
<rect x="380.80" y="225.91" width="3.70" height="2.65" fill="#9dc943"/>
<rect x="384.20" y="225.91" width="3.70" height="2.65" fill="#96ca48"/>
<rect x="387.60" y="225.91" width="3.70" height="2.65" fill="#8fcb4e"/>
<rect x="391.00" y="225.91" width="3.70" height="2.65" fill="#81cc59"/>
<rect x="394.40" y="225.91" width="3.70" height="2.65" fill="#79cc5e"/>
<rect x="397.80" y="225.91" width="3.70" height="2.65" fill="#72cd64"/>
<rect x="401.20" y="225.91" width="3.70" height="2.65" fill="#64cd6f"/>
<rect x="404.60" y="225.91" width="3.70" height="2.65" fill="#5dcc75"/>
<rect x="408.00" y="225.91" width="3.70" height="2.65" fill="#57cc7a"/>
<rect x="411.40" y="225.91" width="3.70" height="2.65" fill="#50cc7f"/>
<rect x="414.80" y="225.91" width="3.70" height="2.65" fill="#45cb89"/>
<rect x="418.20" y="225.91" width="3.70" height="2.65" fill="#3fca8e"/>
<rect x="421.60" y="225.91" width="3.70" height="2.65" fill="#3bc992"/>
<rect x="425.00" y="225.91" width="3.70" height="2.65" fill="#37c897"/>
<rect x="428.40" y="225.91" width="3.70" height="2.65" fill="#34c79b"/>
<rect x="431.80" y="225.91" width="3.70" height="2.65" fill="#31c69f"/>
<rect x="435.20" y="225.91" width="3.70" height="2.65" fill="#2fc5a3"/>
<rect x="438.60" y="225.91" width="3.70" height="2.65" fill="#2cc4a7"/>
<rect x="442.00" y="225.91" width="3.70" height="2.65" fill="#28c2ab"/>
<rect x="445.40" y="225.91" width="3.70" height="2.65" fill="#24c1ae"/>
<rect x="448.80" y="225.91" width="7.10" height="2.65" fill="#1ec0b2"/>
<rect x="455.60" y="225.91" width="7.10" height="2.65" fill="#19bfb6"/>
<rect x="462.40" y="225.91" width="7.10" height="2.65" fill="#12beb9"/>
<rect x="333.20" y="228.26" width="3.70" height="2.65" fill="#febe3c"/>
<rect x="336.60" y="228.26" width="3.70" height="2.65" fill="#fbbc3d"/>
<rect x="340.00" y="228.26" width="3.70" height="2.65" fill="#f8ba3d"/>
<rect x="343.40" y="228.26" width="3.70" height="2.65" fill="#f4ba39"/>
<rect x="346.80" y="228.26" width="3.70" height="2.65" fill="#ebba31"/>
<rect x="350.20" y="228.26" width="3.70" height="2.65" fill="#e6bb2d"/>
<rect x="353.60" y="228.26" width="3.70" height="2.65" fill="#e1bc2b"/>
<rect x="357.00" y="228.26" width="3.70" height="2.65" fill="#d7be28"/>
<rect x="360.40" y="228.26" width="3.70" height="2.65" fill="#d1bf27"/>
<rect x="363.80" y="228.26" width="3.70" height="2.65" fill="#cbc029"/>
<rect x="367.20" y="228.26" width="3.70" height="2.65" fill="#bfc32d"/>
<rect x="370.60" y="228.26" width="3.70" height="2.65" fill="#b9c431"/>
<rect x="374.00" y="228.26" width="3.70" height="2.65" fill="#abc739"/>
<rect x="377.40" y="228.26" width="3.70" height="2.65" fill="#a4c83e"/>
<rect x="380.80" y="228.26" width="3.70" height="2.65" fill="#9dc943"/>
<rect x="384.20" y="228.26" width="3.70" height="2.65" fill="#8fcb4e"/>
<rect x="387.60" y="228.26" width="3.70" height="2.65" fill="#88cb53"/>
<rect x="391.00" y="228.26" width="3.70" height="2.65" fill="#79cc5e"/>
<rect x="394.40" y="228.26" width="3.70" height="2.65" fill="#72cd64"/>
<rect x="397.80" y="228.26" width="3.70" height="2.65" fill="#6bcd69"/>
<rect x="401.20" y="228.26" width="3.70" height="2.65" fill="#5dcc75"/>
<rect x="404.60" y="228.26" width="3.70" height="2.65" fill="#57cc7a"/>
<rect x="408.00" y="228.26" width="3.70" height="2.65" fill="#50cc7f"/>
<rect x="411.40" y="228.26" width="3.70" height="2.65" fill="#45cb89"/>
<rect x="414.80" y="228.26" width="3.70" height="2.65" fill="#3fca8e"/>
<rect x="418.20" y="228.26" width="3.70" height="2.65" fill="#3bc992"/>
<rect x="421.60" y="228.26" width="3.70" height="2.65" fill="#37c897"/>
<rect x="425.00" y="228.26" width="3.70" height="2.65" fill="#34c79b"/>
<rect x="428.40" y="228.26" width="3.70" height="2.65" fill="#31c69f"/>
<rect x="431.80" y="228.26" width="3.70" height="2.65" fill="#2cc4a7"/>
<rect x="435.20" y="228.26" width="7.10" height="2.65" fill="#28c2ab"/>
<rect x="442.00" y="228.26" width="3.70" height="2.65" fill="#24c1ae"/>
<rect x="445.40" y="228.26" width="3.70" height="2.65" fill="#1ec0b2"/>
<rect x="448.80" y="228.26" width="3.70" height="2.65" fill="#19bfb6"/>
<rect x="452.20" y="228.26" width="7.10" height="2.65" fill="#12beb9"/>
<rect x="459.00" y="228.26" width="10.50" height="2.65" fill="#0bbdbd"/>
<rect x="333.20" y="230.62" width="3.70" height="2.65" fill="#febe3c"/>
<rect x="336.60" y="230.62" width="3.70" height="2.65" fill="#fbbc3d"/>
<rect x="340.00" y="230.62" width="3.70" height="2.65" fill="#f8ba3d"/>
<rect x="343.40" y="230.62" width="3.70" height="2.65" fill="#f0ba36"/>
<rect x="346.80" y="230.62" width="3.70" height="2.65" fill="#ebba31"/>
<rect x="350.20" y="230.62" width="3.70" height="2.65" fill="#e6bb2d"/>
<rect x="353.60" y="230.62" width="3.70" height="2.65" fill="#dcbd29"/>
<rect x="357.00" y="230.62" width="3.70" height="2.65" fill="#d7be28"/>
<rect x="360.40" y="230.62" width="3.70" height="2.65" fill="#cbc029"/>
<rect x="363.80" y="230.62" width="3.70" height="2.65" fill="#c5c22a"/>
<rect x="367.20" y="230.62" width="3.70" height="2.65" fill="#bfc32d"/>
<rect x="370.60" y="230.62" width="3.70" height="2.65" fill="#b2c635"/>
<rect x="374.00" y="230.62" width="3.70" height="2.65" fill="#abc739"/>
<rect x="377.40" y="230.62" width="3.70" height="2.65" fill="#9dc943"/>
<rect x="380.80" y="230.62" width="3.70" height="2.65" fill="#96ca48"/>
<rect x="384.20" y="230.62" width="3.70" height="2.65" fill="#88cb53"/>
<rect x="387.60" y="230.62" width="3.70" height="2.65" fill="#81cc59"/>
<rect x="391.00" y="230.62" width="3.70" height="2.65" fill="#72cd64"/>
<rect x="394.40" y="230.62" width="3.70" height="2.65" fill="#6bcd69"/>
<rect x="397.80" y="230.62" width="3.70" height="2.65" fill="#64cd6f"/>
<rect x="401.20" y="230.62" width="3.70" height="2.65" fill="#57cc7a"/>
<rect x="404.60" y="230.62" width="3.70" height="2.65" fill="#50cc7f"/>
<rect x="408.00" y="230.62" width="3.70" height="2.65" fill="#4acb84"/>
<rect x="411.40" y="230.62" width="3.70" height="2.65" fill="#3fca8e"/>
<rect x="414.80" y="230.62" width="3.70" height="2.65" fill="#3bc992"/>
<rect x="418.20" y="230.62" width="3.70" height="2.65" fill="#37c897"/>
<rect x="421.60" y="230.62" width="3.70" height="2.65" fill="#34c79b"/>
<rect x="425.00" y="230.62" width="3.70" height="2.65" fill="#2fc5a3"/>
<rect x="428.40" y="230.62" width="3.70" height="2.65" fill="#2cc4a7"/>
<rect x="431.80" y="230.62" width="3.70" height="2.65" fill="#28c2ab"/>
<rect x="435.20" y="230.62" width="3.70" height="2.65" fill="#24c1ae"/>
<rect x="438.60" y="230.62" width="3.70" height="2.65" fill="#1ec0b2"/>
<rect x="442.00" y="230.62" width="7.10" height="2.65" fill="#19bfb6"/>
<rect x="448.80" y="230.62" width="3.70" height="2.65" fill="#12beb9"/>
<rect x="452.20" y="230.62" width="3.70" height="2.65" fill="#0bbdbd"/>
<rect x="455.60" y="230.62" width="7.10" height="2.65" fill="#06bcc0"/>
<rect x="462.40" y="230.62" width="7.10" height="2.65" fill="#02bac3"/>
<rect x="333.20" y="232.97" width="3.70" height="2.65" fill="#febe3c"/>
<rect x="336.60" y="232.97" width="3.70" height="2.65" fill="#fbbc3d"/>
<rect x="340.00" y="232.97" width="3.70" height="2.65" fill="#f8ba3d"/>
<rect x="343.40" y="232.97" width="3.70" height="2.65" fill="#f0ba36"/>
<rect x="346.80" y="232.97" width="3.70" height="2.65" fill="#ebba31"/>
<rect x="350.20" y="232.97" width="3.70" height="2.65" fill="#e1bc2b"/>
<rect x="353.60" y="232.97" width="3.70" height="2.65" fill="#dcbd29"/>
<rect x="357.00" y="232.97" width="3.70" height="2.65" fill="#d1bf27"/>
<rect x="360.40" y="232.97" width="3.70" height="2.65" fill="#cbc029"/>
<rect x="363.80" y="232.97" width="3.70" height="2.65" fill="#bfc32d"/>
<rect x="367.20" y="232.97" width="3.70" height="2.65" fill="#b9c431"/>
<rect x="370.60" y="232.97" width="3.70" height="2.65" fill="#abc739"/>
<rect x="374.00" y="232.97" width="3.70" height="2.65" fill="#a4c83e"/>
<rect x="377.40" y="232.97" width="3.70" height="2.65" fill="#96ca48"/>
<rect x="380.80" y="232.97" width="3.70" height="2.65" fill="#8fcb4e"/>
<rect x="384.20" y="232.97" width="3.70" height="2.65" fill="#81cc59"/>
<rect x="387.60" y="232.97" width="3.70" height="2.65" fill="#79cc5e"/>
<rect x="391.00" y="232.97" width="3.70" height="2.65" fill="#6bcd69"/>
<rect x="394.40" y="232.97" width="3.70" height="2.65" fill="#64cd6f"/>
<rect x="397.80" y="232.97" width="3.70" height="2.65" fill="#5dcc75"/>
<rect x="401.20" y="232.97" width="3.70" height="2.65" fill="#50cc7f"/>
<rect x="404.60" y="232.97" width="3.70" height="2.65" fill="#4acb84"/>
<rect x="408.00" y="232.97" width="3.70" height="2.65" fill="#3fca8e"/>
<rect x="411.40" y="232.97" width="3.70" height="2.65" fill="#3bc992"/>
<rect x="414.80" y="232.97" width="3.70" height="2.65" fill="#37c897"/>
<rect x="418.20" y="232.97" width="3.70" height="2.65" fill="#34c79b"/>
<rect x="421.60" y="232.97" width="3.70" height="2.65" fill="#2fc5a3"/>
<rect x="425.00" y="232.97" width="3.70" height="2.65" fill="#2cc4a7"/>
<rect x="428.40" y="232.97" width="3.70" height="2.65" fill="#28c2ab"/>
<rect x="431.80" y="232.97" width="3.70" height="2.65" fill="#24c1ae"/>
<rect x="435.20" y="232.97" width="3.70" height="2.65" fill="#1ec0b2"/>
<rect x="438.60" y="232.97" width="3.70" height="2.65" fill="#19bfb6"/>
<rect x="442.00" y="232.97" width="3.70" height="2.65" fill="#12beb9"/>
<rect x="445.40" y="232.97" width="3.70" height="2.65" fill="#0bbdbd"/>
<rect x="448.80" y="232.97" width="7.10" height="2.65" fill="#06bcc0"/>
<rect x="455.60" y="232.97" width="3.70" height="2.65" fill="#02bac3"/>
<rect x="459.00" y="232.97" width="10.50" height="2.65" fill="#01b9c7"/>
<rect x="333.20" y="235.32" width="3.70" height="2.65" fill="#febe3c"/>
<rect x="336.60" y="235.32" width="3.70" height="2.65" fill="#fbbc3d"/>
<rect x="340.00" y="235.32" width="3.70" height="2.65" fill="#f4ba39"/>
<rect x="343.40" y="235.32" width="3.70" height="2.65" fill="#f0ba36"/>
<rect x="346.80" y="235.32" width="3.70" height="2.65" fill="#ebba31"/>
<rect x="350.20" y="235.32" width="3.70" height="2.65" fill="#e1bc2b"/>
<rect x="353.60" y="235.32" width="3.70" height="2.65" fill="#d7be28"/>
<rect x="357.00" y="235.32" width="3.70" height="2.65" fill="#d1bf27"/>
<rect x="360.40" y="235.32" width="3.70" height="2.65" fill="#c5c22a"/>
<rect x="363.80" y="235.32" width="3.70" height="2.65" fill="#bfc32d"/>
<rect x="367.20" y="235.32" width="3.70" height="2.65" fill="#b2c635"/>
<rect x="370.60" y="235.32" width="3.70" height="2.65" fill="#abc739"/>
<rect x="374.00" y="235.32" width="3.70" height="2.65" fill="#9dc943"/>
<rect x="377.40" y="235.32" width="3.70" height="2.65" fill="#8fcb4e"/>
<rect x="380.80" y="235.32" width="3.70" height="2.65" fill="#88cb53"/>
<rect x="384.20" y="235.32" width="3.70" height="2.65" fill="#79cc5e"/>
<rect x="387.60" y="235.32" width="3.70" height="2.65" fill="#72cd64"/>
<rect x="391.00" y="235.32" width="3.70" height="2.65" fill="#64cd6f"/>
<rect x="394.40" y="235.32" width="3.70" height="2.65" fill="#5dcc75"/>
<rect x="397.80" y="235.32" width="3.70" height="2.65" fill="#50cc7f"/>
<rect x="401.20" y="235.32" width="3.70" height="2.65" fill="#4acb84"/>
<rect x="404.60" y="235.32" width="3.70" height="2.65" fill="#45cb89"/>
<rect x="408.00" y="235.32" width="3.70" height="2.65" fill="#3bc992"/>
<rect x="411.40" y="235.32" width="3.70" height="2.65" fill="#37c897"/>
<rect x="414.80" y="235.32" width="3.70" height="2.65" fill="#34c79b"/>
<rect x="418.20" y="235.32" width="3.70" height="2.65" fill="#2fc5a3"/>
<rect x="421.60" y="235.32" width="3.70" height="2.65" fill="#2cc4a7"/>
<rect x="425.00" y="235.32" width="3.70" height="2.65" fill="#28c2ab"/>
<rect x="428.40" y="235.32" width="3.70" height="2.65" fill="#24c1ae"/>
<rect x="431.80" y="235.32" width="3.70" height="2.65" fill="#1ec0b2"/>
<rect x="435.20" y="235.32" width="3.70" height="2.65" fill="#19bfb6"/>
<rect x="438.60" y="235.32" width="3.70" height="2.65" fill="#12beb9"/>
<rect x="442.00" y="235.32" width="3.70" height="2.65" fill="#0bbdbd"/>
<rect x="445.40" y="235.32" width="3.70" height="2.65" fill="#06bcc0"/>
<rect x="448.80" y="235.32" width="3.70" height="2.65" fill="#02bac3"/>
<rect x="452.20" y="235.32" width="7.10" height="2.65" fill="#01b9c7"/>
<rect x="459.00" y="235.32" width="3.70" height="2.65" fill="#01b8ca"/>
<rect x="462.40" y="235.32" width="7.10" height="2.65" fill="#04b6cd"/>
<rect x="333.20" y="237.68" width="3.70" height="2.65" fill="#febe3c"/>
<rect x="336.60" y="237.68" width="3.70" height="2.65" fill="#fbbc3d"/>
<rect x="340.00" y="237.68" width="3.70" height="2.65" fill="#f4ba39"/>
<rect x="343.40" y="237.68" width="3.70" height="2.65" fill="#f0ba36"/>
<rect x="346.80" y="237.68" width="3.70" height="2.65" fill="#e6bb2d"/>
<rect x="350.20" y="237.68" width="3.70" height="2.65" fill="#e1bc2b"/>
<rect x="353.60" y="237.68" width="3.70" height="2.65" fill="#d7be28"/>
<rect x="357.00" y="237.68" width="3.70" height="2.65" fill="#cbc029"/>
<rect x="360.40" y="237.68" width="3.70" height="2.65" fill="#c5c22a"/>
<rect x="363.80" y="237.68" width="3.70" height="2.65" fill="#b9c431"/>
<rect x="367.20" y="237.68" width="3.70" height="2.65" fill="#b2c635"/>
<rect x="370.60" y="237.68" width="3.70" height="2.65" fill="#a4c83e"/>
<rect x="374.00" y="237.68" width="3.70" height="2.65" fill="#96ca48"/>
<rect x="377.40" y="237.68" width="3.70" height="2.65" fill="#88cb53"/>
<rect x="380.80" y="237.68" width="3.70" height="2.65" fill="#81cc59"/>
<rect x="384.20" y="237.68" width="3.70" height="2.65" fill="#72cd64"/>
<rect x="387.60" y="237.68" width="3.70" height="2.65" fill="#6bcd69"/>
<rect x="391.00" y="237.68" width="3.70" height="2.65" fill="#5dcc75"/>
<rect x="394.40" y="237.68" width="3.70" height="2.65" fill="#57cc7a"/>
<rect x="397.80" y="237.68" width="3.70" height="2.65" fill="#4acb84"/>
<rect x="401.20" y="237.68" width="3.70" height="2.65" fill="#45cb89"/>
<rect x="404.60" y="237.68" width="3.70" height="2.65" fill="#3fca8e"/>
<rect x="408.00" y="237.68" width="3.70" height="2.65" fill="#37c897"/>
<rect x="411.40" y="237.68" width="3.70" height="2.65" fill="#34c79b"/>
<rect x="414.80" y="237.68" width="3.70" height="2.65" fill="#31c69f"/>
<rect x="418.20" y="237.68" width="3.70" height="2.65" fill="#2cc4a7"/>
<rect x="421.60" y="237.68" width="3.70" height="2.65" fill="#28c2ab"/>
<rect x="425.00" y="237.68" width="3.70" height="2.65" fill="#24c1ae"/>
<rect x="428.40" y="237.68" width="3.70" height="2.65" fill="#1ec0b2"/>
<rect x="431.80" y="237.68" width="3.70" height="2.65" fill="#12beb9"/>
<rect x="435.20" y="237.68" width="3.70" height="2.65" fill="#0bbdbd"/>
<rect x="438.60" y="237.68" width="3.70" height="2.65" fill="#06bcc0"/>
<rect x="442.00" y="237.68" width="3.70" height="2.65" fill="#02bac3"/>
<rect x="445.40" y="237.68" width="7.10" height="2.65" fill="#01b9c7"/>
<rect x="452.20" y="237.68" width="3.70" height="2.65" fill="#01b8ca"/>
<rect x="455.60" y="237.68" width="3.70" height="2.65" fill="#04b6cd"/>
<rect x="459.00" y="237.68" width="7.10" height="2.65" fill="#08b5d0"/>
<rect x="465.80" y="237.68" width="3.70" height="2.65" fill="#0db3d3"/>
<rect x="333.20" y="240.04" width="3.70" height="2.65" fill="#febe3c"/>
<rect x="336.60" y="240.04" width="3.70" height="2.65" fill="#fbbc3d"/>
<rect x="340.00" y="240.04" width="3.70" height="2.65" fill="#f4ba39"/>
<rect x="343.40" y="240.04" width="3.70" height="2.65" fill="#f0ba36"/>
<rect x="346.80" y="240.04" width="3.70" height="2.65" fill="#e6bb2d"/>
<rect x="350.20" y="240.04" width="3.70" height="2.65" fill="#dcbd29"/>
<rect x="353.60" y="240.04" width="3.70" height="2.65" fill="#d7be28"/>
<rect x="357.00" y="240.04" width="3.70" height="2.65" fill="#cbc029"/>
<rect x="360.40" y="240.04" width="3.70" height="2.65" fill="#bfc32d"/>
<rect x="363.80" y="240.04" width="3.70" height="2.65" fill="#b9c431"/>
<rect x="367.20" y="240.04" width="3.70" height="2.65" fill="#abc739"/>
<rect x="370.60" y="240.04" width="3.70" height="2.65" fill="#9dc943"/>
<rect x="374.00" y="240.04" width="3.70" height="2.65" fill="#8fcb4e"/>
<rect x="377.40" y="240.04" width="3.70" height="2.65" fill="#88cb53"/>
<rect x="380.80" y="240.04" width="3.70" height="2.65" fill="#79cc5e"/>
<rect x="384.20" y="240.04" width="3.70" height="2.65" fill="#6bcd69"/>
<rect x="387.60" y="240.04" width="3.70" height="2.65" fill="#64cd6f"/>
<rect x="391.00" y="240.04" width="3.70" height="2.65" fill="#57cc7a"/>
<rect x="394.40" y="240.04" width="3.70" height="2.65" fill="#50cc7f"/>
<rect x="397.80" y="240.04" width="3.70" height="2.65" fill="#45cb89"/>
<rect x="401.20" y="240.04" width="3.70" height="2.65" fill="#3fca8e"/>
<rect x="404.60" y="240.04" width="3.70" height="2.65" fill="#37c897"/>
<rect x="408.00" y="240.04" width="3.70" height="2.65" fill="#34c79b"/>
<rect x="411.40" y="240.04" width="3.70" height="2.65" fill="#31c69f"/>
<rect x="414.80" y="240.04" width="3.70" height="2.65" fill="#2cc4a7"/>
<rect x="418.20" y="240.04" width="3.70" height="2.65" fill="#28c2ab"/>
<rect x="421.60" y="240.04" width="3.70" height="2.65" fill="#24c1ae"/>
<rect x="425.00" y="240.04" width="3.70" height="2.65" fill="#1ec0b2"/>
<rect x="428.40" y="240.04" width="3.70" height="2.65" fill="#12beb9"/>
<rect x="431.80" y="240.04" width="3.70" height="2.65" fill="#0bbdbd"/>
<rect x="435.20" y="240.04" width="3.70" height="2.65" fill="#06bcc0"/>
<rect x="438.60" y="240.04" width="3.70" height="2.65" fill="#02bac3"/>
<rect x="442.00" y="240.04" width="3.70" height="2.65" fill="#01b9c7"/>
<rect x="445.40" y="240.04" width="3.70" height="2.65" fill="#01b8ca"/>
<rect x="448.80" y="240.04" width="3.70" height="2.65" fill="#04b6cd"/>
<rect x="452.20" y="240.04" width="7.10" height="2.65" fill="#08b5d0"/>
<rect x="459.00" y="240.04" width="3.70" height="2.65" fill="#0db3d3"/>
<rect x="462.40" y="240.04" width="3.70" height="2.65" fill="#12b1d6"/>
<rect x="465.80" y="240.04" width="3.70" height="2.65" fill="#15afd9"/>
<rect x="333.20" y="242.39" width="3.70" height="2.65" fill="#febe3c"/>
<rect x="336.60" y="242.39" width="3.70" height="2.65" fill="#fbbc3d"/>
<rect x="340.00" y="242.39" width="3.70" height="2.65" fill="#f4ba39"/>
<rect x="343.40" y="242.39" width="3.70" height="2.65" fill="#ebba31"/>
<rect x="346.80" y="242.39" width="3.70" height="2.65" fill="#e6bb2d"/>
<rect x="350.20" y="242.39" width="3.70" height="2.65" fill="#dcbd29"/>
<rect x="353.60" y="242.39" width="3.70" height="2.65" fill="#d1bf27"/>
<rect x="357.00" y="242.39" width="3.70" height="2.65" fill="#c5c22a"/>
<rect x="360.40" y="242.39" width="3.70" height="2.65" fill="#bfc32d"/>
<rect x="363.80" y="242.39" width="3.70" height="2.65" fill="#b2c635"/>
<rect x="367.20" y="242.39" width="3.70" height="2.65" fill="#a4c83e"/>
<rect x="370.60" y="242.39" width="3.70" height="2.65" fill="#96ca48"/>
<rect x="374.00" y="242.39" width="3.70" height="2.65" fill="#88cb53"/>
<rect x="377.40" y="242.39" width="3.70" height="2.65" fill="#79cc5e"/>
<rect x="380.80" y="242.39" width="3.70" height="2.65" fill="#72cd64"/>
<rect x="384.20" y="242.39" width="3.70" height="2.65" fill="#64cd6f"/>
<rect x="387.60" y="242.39" width="3.70" height="2.65" fill="#57cc7a"/>
<rect x="391.00" y="242.39" width="3.70" height="2.65" fill="#50cc7f"/>
<rect x="394.40" y="242.39" width="3.70" height="2.65" fill="#45cb89"/>
<rect x="397.80" y="242.39" width="3.70" height="2.65" fill="#3fca8e"/>
<rect x="401.20" y="242.39" width="3.70" height="2.65" fill="#3bc992"/>
<rect x="404.60" y="242.39" width="3.70" height="2.65" fill="#34c79b"/>
<rect x="408.00" y="242.39" width="3.70" height="2.65" fill="#31c69f"/>
<rect x="411.40" y="242.39" width="3.70" height="2.65" fill="#2fc5a3"/>
<rect x="414.80" y="242.39" width="3.70" height="2.65" fill="#28c2ab"/>
<rect x="418.20" y="242.39" width="3.70" height="2.65" fill="#24c1ae"/>
<rect x="421.60" y="242.39" width="3.70" height="2.65" fill="#1ec0b2"/>
<rect x="425.00" y="242.39" width="3.70" height="2.65" fill="#12beb9"/>
<rect x="428.40" y="242.39" width="3.70" height="2.65" fill="#0bbdbd"/>
<rect x="431.80" y="242.39" width="3.70" height="2.65" fill="#06bcc0"/>
<rect x="435.20" y="242.39" width="3.70" height="2.65" fill="#02bac3"/>
<rect x="438.60" y="242.39" width="3.70" height="2.65" fill="#01b9c7"/>
<rect x="442.00" y="242.39" width="3.70" height="2.65" fill="#01b8ca"/>
<rect x="445.40" y="242.39" width="3.70" height="2.65" fill="#04b6cd"/>
<rect x="448.80" y="242.39" width="3.70" height="2.65" fill="#08b5d0"/>
<rect x="452.20" y="242.39" width="3.70" height="2.65" fill="#0db3d3"/>
<rect x="455.60" y="242.39" width="3.70" height="2.65" fill="#12b1d6"/>
<rect x="459.00" y="242.39" width="3.70" height="2.65" fill="#15afd9"/>
<rect x="462.40" y="242.39" width="7.10" height="2.65" fill="#18addb"/>
<rect x="333.20" y="244.75" width="3.70" height="2.65" fill="#febe3c"/>
<rect x="336.60" y="244.75" width="3.70" height="2.65" fill="#fbbc3d"/>
<rect x="340.00" y="244.75" width="3.70" height="2.65" fill="#f4ba39"/>
<rect x="343.40" y="244.75" width="3.70" height="2.65" fill="#ebba31"/>
<rect x="346.80" y="244.75" width="3.70" height="2.65" fill="#e1bc2b"/>
<rect x="350.20" y="244.75" width="3.70" height="2.65" fill="#dcbd29"/>
<rect x="353.60" y="244.75" width="3.70" height="2.65" fill="#d1bf27"/>
<rect x="357.00" y="244.75" width="3.70" height="2.65" fill="#c5c22a"/>
<rect x="360.40" y="244.75" width="3.70" height="2.65" fill="#b9c431"/>
<rect x="363.80" y="244.75" width="3.70" height="2.65" fill="#abc739"/>
<rect x="367.20" y="244.75" width="3.70" height="2.65" fill="#9dc943"/>
<rect x="370.60" y="244.75" width="3.70" height="2.65" fill="#8fcb4e"/>
<rect x="374.00" y="244.75" width="3.70" height="2.65" fill="#81cc59"/>
<rect x="377.40" y="244.75" width="3.70" height="2.65" fill="#72cd64"/>
<rect x="380.80" y="244.75" width="3.70" height="2.65" fill="#6bcd69"/>
<rect x="384.20" y="244.75" width="3.70" height="2.65" fill="#5dcc75"/>
<rect x="387.60" y="244.75" width="3.70" height="2.65" fill="#50cc7f"/>
<rect x="391.00" y="244.75" width="3.70" height="2.65" fill="#4acb84"/>
<rect x="394.40" y="244.75" width="3.70" height="2.65" fill="#3fca8e"/>
<rect x="397.80" y="244.75" width="3.70" height="2.65" fill="#3bc992"/>
<rect x="401.20" y="244.75" width="3.70" height="2.65" fill="#34c79b"/>
<rect x="404.60" y="244.75" width="3.70" height="2.65" fill="#31c69f"/>
<rect x="408.00" y="244.75" width="3.70" height="2.65" fill="#2fc5a3"/>
<rect x="411.40" y="244.75" width="3.70" height="2.65" fill="#28c2ab"/>
<rect x="414.80" y="244.75" width="3.70" height="2.65" fill="#24c1ae"/>
<rect x="418.20" y="244.75" width="3.70" height="2.65" fill="#1ec0b2"/>
<rect x="421.60" y="244.75" width="3.70" height="2.65" fill="#12beb9"/>
<rect x="425.00" y="244.75" width="3.70" height="2.65" fill="#0bbdbd"/>
<rect x="428.40" y="244.75" width="3.70" height="2.65" fill="#06bcc0"/>
<rect x="431.80" y="244.75" width="3.70" height="2.65" fill="#02bac3"/>
<rect x="435.20" y="244.75" width="3.70" height="2.65" fill="#01b8ca"/>
<rect x="438.60" y="244.75" width="3.70" height="2.65" fill="#04b6cd"/>
<rect x="442.00" y="244.75" width="3.70" height="2.65" fill="#08b5d0"/>
<rect x="445.40" y="244.75" width="3.70" height="2.65" fill="#0db3d3"/>
<rect x="448.80" y="244.75" width="3.70" height="2.65" fill="#12b1d6"/>
<rect x="452.20" y="244.75" width="3.70" height="2.65" fill="#15afd9"/>
<rect x="455.60" y="244.75" width="3.70" height="2.65" fill="#18addb"/>
<rect x="459.00" y="244.75" width="7.10" height="2.65" fill="#1aabdd"/>
<rect x="465.80" y="244.75" width="3.70" height="2.65" fill="#1ca9df"/>
<rect x="474.80" y="152.90" width="136.30" height="2.65" fill="#f9fb15"/>
<rect x="474.80" y="155.25" width="136.30" height="2.65" fill="#f9fb15"/>
<rect x="474.80" y="157.61" width="136.30" height="2.65" fill="#f9fb15"/>
<rect x="474.80" y="159.97" width="136.30" height="2.65" fill="#f9fb15"/>
<rect x="474.80" y="162.32" width="136.30" height="2.65" fill="#f9fb15"/>
<rect x="474.80" y="164.68" width="136.30" height="2.65" fill="#f9fb15"/>
<rect x="474.80" y="167.03" width="136.30" height="2.65" fill="#f9fb15"/>
<rect x="474.80" y="169.38" width="132.90" height="2.65" fill="#f9fb15"/>
<rect x="607.40" y="169.38" width="3.70" height="2.65" fill="#f8f818"/>
<rect x="474.80" y="171.74" width="126.10" height="2.65" fill="#f9fb15"/>
<rect x="600.60" y="171.74" width="10.50" height="2.65" fill="#f8f818"/>
<rect x="474.80" y="174.09" width="122.70" height="2.65" fill="#f9fb15"/>
<rect x="597.20" y="174.09" width="10.50" height="2.65" fill="#f8f818"/>
<rect x="607.40" y="174.09" width="3.70" height="2.65" fill="#f7f51b"/>
<rect x="474.80" y="176.45" width="119.30" height="2.65" fill="#f9fb15"/>
<rect x="593.80" y="176.45" width="10.50" height="2.65" fill="#f8f818"/>
<rect x="604.00" y="176.45" width="7.10" height="2.65" fill="#f7f51b"/>
<rect x="474.80" y="178.81" width="112.50" height="2.65" fill="#f9fb15"/>
<rect x="587.00" y="178.81" width="13.90" height="2.65" fill="#f8f818"/>
<rect x="600.60" y="178.81" width="10.50" height="2.65" fill="#f7f51b"/>
<rect x="474.80" y="181.16" width="109.10" height="2.65" fill="#f9fb15"/>
<rect x="583.60" y="181.16" width="10.50" height="2.65" fill="#f8f818"/>
<rect x="593.80" y="181.16" width="10.50" height="2.65" fill="#f7f51b"/>
<rect x="604.00" y="181.16" width="7.10" height="2.65" fill="#f6f21e"/>
<rect x="474.80" y="183.52" width="102.30" height="2.65" fill="#f9fb15"/>
<rect x="576.80" y="183.52" width="13.90" height="2.65" fill="#f8f818"/>
<rect x="590.40" y="183.52" width="10.50" height="2.65" fill="#f7f51b"/>
<rect x="600.60" y="183.52" width="7.10" height="2.65" fill="#f6f21e"/>
<rect x="607.40" y="183.52" width="3.70" height="2.65" fill="#f6ef20"/>
<rect x="474.80" y="185.87" width="98.90" height="2.65" fill="#f9fb15"/>
<rect x="573.40" y="185.87" width="10.50" height="2.65" fill="#f8f818"/>
<rect x="583.60" y="185.87" width="10.50" height="2.65" fill="#f7f51b"/>
<rect x="593.80" y="185.87" width="10.50" height="2.65" fill="#f6f21e"/>
<rect x="604.00" y="185.87" width="7.10" height="2.65" fill="#f6ef20"/>
<rect x="474.80" y="188.23" width="92.10" height="2.65" fill="#f9fb15"/>
<rect x="566.60" y="188.23" width="13.90" height="2.65" fill="#f8f818"/>
<rect x="580.20" y="188.23" width="10.50" height="2.65" fill="#f7f51b"/>
<rect x="590.40" y="188.23" width="7.10" height="2.65" fill="#f6f21e"/>
<rect x="597.20" y="188.23" width="10.50" height="2.65" fill="#f6ef20"/>
<rect x="607.40" y="188.23" width="3.70" height="2.65" fill="#f5ec22"/>
<rect x="474.80" y="190.58" width="88.70" height="2.65" fill="#f9fb15"/>
<rect x="563.20" y="190.58" width="10.50" height="2.65" fill="#f8f818"/>
<rect x="573.40" y="190.58" width="10.50" height="2.65" fill="#f7f51b"/>
<rect x="583.60" y="190.58" width="10.50" height="2.65" fill="#f6f21e"/>
<rect x="593.80" y="190.58" width="7.10" height="2.65" fill="#f6ef20"/>
<rect x="600.60" y="190.58" width="7.10" height="2.65" fill="#f5ec22"/>
<rect x="607.40" y="190.58" width="3.70" height="2.65" fill="#f5e924"/>
<rect x="474.80" y="192.94" width="85.30" height="2.65" fill="#f9fb15"/>
<rect x="559.80" y="192.94" width="10.50" height="2.65" fill="#f8f818"/>
<rect x="570.00" y="192.94" width="10.50" height="2.65" fill="#f7f51b"/>
<rect x="580.20" y="192.94" width="10.50" height="2.65" fill="#f6f21e"/>
<rect x="590.40" y="192.94" width="7.10" height="2.65" fill="#f6ef20"/>
<rect x="597.20" y="192.94" width="7.10" height="2.65" fill="#f5ec22"/>
<rect x="604.00" y="192.94" width="3.70" height="2.65" fill="#f5e924"/>
<rect x="607.40" y="192.94" width="3.70" height="2.65" fill="#f5e626"/>
<rect x="474.80" y="195.29" width="78.50" height="2.65" fill="#f9fb15"/>
<rect x="553.00" y="195.29" width="13.90" height="2.65" fill="#f8f818"/>
<rect x="566.60" y="195.29" width="10.50" height="2.65" fill="#f7f51b"/>
<rect x="576.80" y="195.29" width="7.10" height="2.65" fill="#f6f21e"/>
<rect x="583.60" y="195.29" width="7.10" height="2.65" fill="#f6ef20"/>
<rect x="590.40" y="195.29" width="7.10" height="2.65" fill="#f5ec22"/>
<rect x="597.20" y="195.29" width="7.10" height="2.65" fill="#f5e924"/>
<rect x="604.00" y="195.29" width="3.70" height="2.65" fill="#f5e626"/>
<rect x="607.40" y="195.29" width="3.70" height="2.65" fill="#f5e327"/>
<rect x="474.80" y="197.65" width="75.10" height="2.65" fill="#f9fb15"/>
<rect x="549.60" y="197.65" width="10.50" height="2.65" fill="#f8f818"/>
<rect x="559.80" y="197.65" width="10.50" height="2.65" fill="#f7f51b"/>
<rect x="570.00" y="197.65" width="10.50" height="2.65" fill="#f6f21e"/>
<rect x="580.20" y="197.65" width="7.10" height="2.65" fill="#f6ef20"/>
<rect x="587.00" y="197.65" width="7.10" height="2.65" fill="#f5ec22"/>
<rect x="593.80" y="197.65" width="3.70" height="2.65" fill="#f5e924"/>
<rect x="597.20" y="197.65" width="7.10" height="2.65" fill="#f5e626"/>
<rect x="604.00" y="197.65" width="3.70" height="2.65" fill="#f5e327"/>
<rect x="607.40" y="197.65" width="3.70" height="2.65" fill="#f6df29"/>
<rect x="474.80" y="200.00" width="68.30" height="2.65" fill="#f9fb15"/>
<rect x="542.80" y="200.00" width="13.90" height="2.65" fill="#f8f818"/>
<rect x="556.40" y="200.00" width="10.50" height="2.65" fill="#f7f51b"/>
<rect x="566.60" y="200.00" width="7.10" height="2.65" fill="#f6f21e"/>
<rect x="573.40" y="200.00" width="7.10" height="2.65" fill="#f6ef20"/>
<rect x="580.20" y="200.00" width="7.10" height="2.65" fill="#f5ec22"/>
<rect x="587.00" y="200.00" width="7.10" height="2.65" fill="#f5e924"/>
<rect x="593.80" y="200.00" width="3.70" height="2.65" fill="#f5e626"/>
<rect x="597.20" y="200.00" width="7.10" height="2.65" fill="#f5e327"/>
<rect x="604.00" y="200.00" width="3.70" height="2.65" fill="#f6df29"/>
<rect x="607.40" y="200.00" width="3.70" height="2.65" fill="#f7dc2a"/>
<rect x="474.80" y="202.36" width="64.90" height="2.65" fill="#f9fb15"/>
<rect x="539.40" y="202.36" width="10.50" height="2.65" fill="#f8f818"/>
<rect x="549.60" y="202.36" width="10.50" height="2.65" fill="#f7f51b"/>
<rect x="559.80" y="202.36" width="10.50" height="2.65" fill="#f6f21e"/>
<rect x="570.00" y="202.36" width="7.10" height="2.65" fill="#f6ef20"/>
<rect x="576.80" y="202.36" width="7.10" height="2.65" fill="#f5ec22"/>
<rect x="583.60" y="202.36" width="3.70" height="2.65" fill="#f5e924"/>
<rect x="587.00" y="202.36" width="7.10" height="2.65" fill="#f5e626"/>
<rect x="593.80" y="202.36" width="3.70" height="2.65" fill="#f5e327"/>
<rect x="597.20" y="202.36" width="7.10" height="2.65" fill="#f6df29"/>
<rect x="604.00" y="202.36" width="3.70" height="2.65" fill="#f7dc2a"/>
<rect x="607.40" y="202.36" width="3.70" height="2.65" fill="#f8d92b"/>
<rect x="474.80" y="204.71" width="58.10" height="2.65" fill="#f9fb15"/>
<rect x="532.60" y="204.71" width="13.90" height="2.65" fill="#f8f818"/>
<rect x="546.20" y="204.71" width="10.50" height="2.65" fill="#f7f51b"/>
<rect x="556.40" y="204.71" width="7.10" height="2.65" fill="#f6f21e"/>
<rect x="563.20" y="204.71" width="10.50" height="2.65" fill="#f6ef20"/>
<rect x="573.40" y="204.71" width="3.70" height="2.65" fill="#f5ec22"/>
<rect x="576.80" y="204.71" width="7.10" height="2.65" fill="#f5e924"/>
<rect x="583.60" y="204.71" width="3.70" height="2.65" fill="#f5e626"/>
<rect x="587.00" y="204.71" width="7.10" height="2.65" fill="#f5e327"/>
<rect x="593.80" y="204.71" width="3.70" height="2.65" fill="#f6df29"/>
<rect x="597.20" y="204.71" width="3.70" height="2.65" fill="#f7dc2a"/>
<rect x="600.60" y="204.71" width="7.10" height="2.65" fill="#f8d92b"/>
<rect x="607.40" y="204.71" width="3.70" height="2.65" fill="#fad62d"/>
<rect x="474.80" y="207.06" width="54.70" height="2.65" fill="#f9fb15"/>
<rect x="529.20" y="207.06" width="10.50" height="2.65" fill="#f8f818"/>
<rect x="539.40" y="207.06" width="10.50" height="2.65" fill="#f7f51b"/>
<rect x="549.60" y="207.06" width="10.50" height="2.65" fill="#f6f21e"/>
<rect x="559.80" y="207.06" width="7.10" height="2.65" fill="#f6ef20"/>
<rect x="566.60" y="207.06" width="7.10" height="2.65" fill="#f5ec22"/>
<rect x="573.40" y="207.06" width="7.10" height="2.65" fill="#f5e924"/>
<rect x="580.20" y="207.06" width="3.70" height="2.65" fill="#f5e626"/>
<rect x="583.60" y="207.06" width="3.70" height="2.65" fill="#f5e327"/>
<rect x="587.00" y="207.06" width="7.10" height="2.65" fill="#f6df29"/>
<rect x="593.80" y="207.06" width="3.70" height="2.65" fill="#f7dc2a"/>
<rect x="597.20" y="207.06" width="3.70" height="2.65" fill="#f8d92b"/>
<rect x="600.60" y="207.06" width="3.70" height="2.65" fill="#fad62d"/>
<rect x="604.00" y="207.06" width="3.70" height="2.65" fill="#fbd32f"/>
<rect x="607.40" y="207.06" width="3.70" height="2.65" fill="#fccf30"/>
<rect x="474.80" y="209.42" width="51.30" height="2.65" fill="#f9fb15"/>
<rect x="525.80" y="209.42" width="10.50" height="2.65" fill="#f8f818"/>
<rect x="536.00" y="209.42" width="10.50" height="2.65" fill="#f7f51b"/>
<rect x="546.20" y="209.42" width="10.50" height="2.65" fill="#f6f21e"/>
<rect x="556.40" y="209.42" width="7.10" height="2.65" fill="#f6ef20"/>
<rect x="563.20" y="209.42" width="7.10" height="2.65" fill="#f5ec22"/>
<rect x="570.00" y="209.42" width="3.70" height="2.65" fill="#f5e924"/>
<rect x="573.40" y="209.42" width="7.10" height="2.65" fill="#f5e626"/>
<rect x="580.20" y="209.42" width="3.70" height="2.65" fill="#f5e327"/>
<rect x="583.60" y="209.42" width="3.70" height="2.65" fill="#f6df29"/>
<rect x="587.00" y="209.42" width="7.10" height="2.65" fill="#f7dc2a"/>
<rect x="593.80" y="209.42" width="3.70" height="2.65" fill="#f8d92b"/>
<rect x="597.20" y="209.42" width="3.70" height="2.65" fill="#fad62d"/>
<rect x="600.60" y="209.42" width="3.70" height="2.65" fill="#fbd32f"/>
<rect x="604.00" y="209.42" width="3.70" height="2.65" fill="#fccf30"/>
<rect x="607.40" y="209.42" width="3.70" height="2.65" fill="#fdcc32"/>
<rect x="474.80" y="211.78" width="44.50" height="2.65" fill="#f9fb15"/>
<rect x="519.00" y="211.78" width="13.90" height="2.65" fill="#f8f818"/>
<rect x="532.60" y="211.78" width="10.50" height="2.65" fill="#f7f51b"/>
<rect x="542.80" y="211.78" width="7.10" height="2.65" fill="#f6f21e"/>
<rect x="549.60" y="211.78" width="7.10" height="2.65" fill="#f6ef20"/>
<rect x="556.40" y="211.78" width="7.10" height="2.65" fill="#f5ec22"/>
<rect x="563.20" y="211.78" width="7.10" height="2.65" fill="#f5e924"/>
<rect x="570.00" y="211.78" width="3.70" height="2.65" fill="#f5e626"/>
<rect x="573.40" y="211.78" width="7.10" height="2.65" fill="#f5e327"/>
<rect x="580.20" y="211.78" width="3.70" height="2.65" fill="#f6df29"/>
<rect x="583.60" y="211.78" width="3.70" height="2.65" fill="#f7dc2a"/>
<rect x="587.00" y="211.78" width="3.70" height="2.65" fill="#f8d92b"/>
<rect x="590.40" y="211.78" width="3.70" height="2.65" fill="#fad62d"/>
<rect x="593.80" y="211.78" width="3.70" height="2.65" fill="#fbd32f"/>
<rect x="597.20" y="211.78" width="3.70" height="2.65" fill="#fccf30"/>
<rect x="600.60" y="211.78" width="3.70" height="2.65" fill="#fdcc32"/>
<rect x="604.00" y="211.78" width="3.70" height="2.65" fill="#fec934"/>
<rect x="607.40" y="211.78" width="3.70" height="2.65" fill="#fec636"/>
<rect x="474.80" y="214.13" width="41.10" height="2.65" fill="#f9fb15"/>
<rect x="515.60" y="214.13" width="10.50" height="2.65" fill="#f8f818"/>
<rect x="525.80" y="214.13" width="10.50" height="2.65" fill="#f7f51b"/>
<rect x="536.00" y="214.13" width="10.50" height="2.65" fill="#f6f21e"/>
<rect x="546.20" y="214.13" width="7.10" height="2.65" fill="#f6ef20"/>
<rect x="553.00" y="214.13" width="7.10" height="2.65" fill="#f5ec22"/>
<rect x="559.80" y="214.13" width="3.70" height="2.65" fill="#f5e924"/>
<rect x="563.20" y="214.13" width="7.10" height="2.65" fill="#f5e626"/>
<rect x="570.00" y="214.13" width="3.70" height="2.65" fill="#f5e327"/>
<rect x="573.40" y="214.13" width="3.70" height="2.65" fill="#f6df29"/>
<rect x="576.80" y="214.13" width="7.10" height="2.65" fill="#f7dc2a"/>
<rect x="583.60" y="214.13" width="3.70" height="2.65" fill="#f8d92b"/>
<rect x="587.00" y="214.13" width="3.70" height="2.65" fill="#fad62d"/>
<rect x="590.40" y="214.13" width="3.70" height="2.65" fill="#fbd32f"/>
<rect x="593.80" y="214.13" width="3.70" height="2.65" fill="#fccf30"/>
<rect x="597.20" y="214.13" width="3.70" height="2.65" fill="#fdcc32"/>
<rect x="600.60" y="214.13" width="3.70" height="2.65" fill="#fec934"/>
<rect x="604.00" y="214.13" width="3.70" height="2.65" fill="#fec338"/>
<rect x="607.40" y="214.13" width="3.70" height="2.65" fill="#fec03a"/>
<rect x="474.80" y="216.49" width="34.30" height="2.65" fill="#f9fb15"/>
<rect x="508.80" y="216.49" width="13.90" height="2.65" fill="#f8f818"/>
<rect x="522.40" y="216.49" width="10.50" height="2.65" fill="#f7f51b"/>
<rect x="532.60" y="216.49" width="7.10" height="2.65" fill="#f6f21e"/>
<rect x="539.40" y="216.49" width="7.10" height="2.65" fill="#f6ef20"/>
<rect x="546.20" y="216.49" width="7.10" height="2.65" fill="#f5ec22"/>
<rect x="553.00" y="216.49" width="7.10" height="2.65" fill="#f5e924"/>
<rect x="559.80" y="216.49" width="3.70" height="2.65" fill="#f5e626"/>
<rect x="563.20" y="216.49" width="7.10" height="2.65" fill="#f5e327"/>
<rect x="570.00" y="216.49" width="3.70" height="2.65" fill="#f6df29"/>
<rect x="573.40" y="216.49" width="3.70" height="2.65" fill="#f7dc2a"/>
<rect x="576.80" y="216.49" width="3.70" height="2.65" fill="#f8d92b"/>
<rect x="580.20" y="216.49" width="3.70" height="2.65" fill="#fad62d"/>
<rect x="583.60" y="216.49" width="7.10" height="2.65" fill="#fbd32f"/>
<rect x="590.40" y="216.49" width="3.70" height="2.65" fill="#fdcc32"/>
<rect x="593.80" y="216.49" width="3.70" height="2.65" fill="#fec934"/>
<rect x="597.20" y="216.49" width="3.70" height="2.65" fill="#fec636"/>
<rect x="600.60" y="216.49" width="3.70" height="2.65" fill="#fec338"/>
<rect x="604.00" y="216.49" width="3.70" height="2.65" fill="#febe3c"/>
<rect x="607.40" y="216.49" width="3.70" height="2.65" fill="#fbbc3d"/>
<rect x="474.80" y="218.84" width="30.90" height="2.65" fill="#f9fb15"/>
<rect x="505.40" y="218.84" width="10.50" height="2.65" fill="#f8f818"/>
<rect x="515.60" y="218.84" width="10.50" height="2.65" fill="#f7f51b"/>
<rect x="525.80" y="218.84" width="10.50" height="2.65" fill="#f6f21e"/>
<rect x="536.00" y="218.84" width="7.10" height="2.65" fill="#f6ef20"/>
<rect x="542.80" y="218.84" width="7.10" height="2.65" fill="#f5ec22"/>
<rect x="549.60" y="218.84" width="3.70" height="2.65" fill="#f5e924"/>
<rect x="553.00" y="218.84" width="7.10" height="2.65" fill="#f5e626"/>
<rect x="559.80" y="218.84" width="3.70" height="2.65" fill="#f5e327"/>
<rect x="563.20" y="218.84" width="7.10" height="2.65" fill="#f6df29"/>
<rect x="570.00" y="218.84" width="3.70" height="2.65" fill="#f7dc2a"/>
<rect x="573.40" y="218.84" width="3.70" height="2.65" fill="#f8d92b"/>
<rect x="576.80" y="218.84" width="3.70" height="2.65" fill="#fad62d"/>
<rect x="580.20" y="218.84" width="3.70" height="2.65" fill="#fbd32f"/>
<rect x="583.60" y="218.84" width="3.70" height="2.65" fill="#fccf30"/>
<rect x="587.00" y="218.84" width="3.70" height="2.65" fill="#fdcc32"/>
<rect x="590.40" y="218.84" width="3.70" height="2.65" fill="#fec934"/>
<rect x="593.80" y="218.84" width="3.70" height="2.65" fill="#fec338"/>
<rect x="597.20" y="218.84" width="3.70" height="2.65" fill="#fec03a"/>
<rect x="600.60" y="218.84" width="3.70" height="2.65" fill="#febe3c"/>
<rect x="604.00" y="218.84" width="3.70" height="2.65" fill="#fbbc3d"/>
<rect x="607.40" y="218.84" width="3.70" height="2.65" fill="#f8ba3d"/>
<rect x="474.80" y="221.19" width="24.10" height="2.65" fill="#f9fb15"/>
<rect x="498.60" y="221.19" width="13.90" height="2.65" fill="#f8f818"/>
<rect x="512.20" y="221.19" width="10.50" height="2.65" fill="#f7f51b"/>
<rect x="522.40" y="221.19" width="7.10" height="2.65" fill="#f6f21e"/>
<rect x="529.20" y="221.19" width="10.50" height="2.65" fill="#f6ef20"/>
<rect x="539.40" y="221.19" width="3.70" height="2.65" fill="#f5ec22"/>
<rect x="542.80" y="221.19" width="7.10" height="2.65" fill="#f5e924"/>
<rect x="549.60" y="221.19" width="3.70" height="2.65" fill="#f5e626"/>
<rect x="553.00" y="221.19" width="7.10" height="2.65" fill="#f5e327"/>
<rect x="559.80" y="221.19" width="3.70" height="2.65" fill="#f6df29"/>
<rect x="563.20" y="221.19" width="3.70" height="2.65" fill="#f7dc2a"/>
<rect x="566.60" y="221.19" width="7.10" height="2.65" fill="#f8d92b"/>
<rect x="573.40" y="221.19" width="3.70" height="2.65" fill="#fad62d"/>
<rect x="576.80" y="221.19" width="3.70" height="2.65" fill="#fbd32f"/>
<rect x="580.20" y="221.19" width="3.70" height="2.65" fill="#fccf30"/>
<rect x="583.60" y="221.19" width="3.70" height="2.65" fill="#fec934"/>
<rect x="587.00" y="221.19" width="3.70" height="2.65" fill="#fec636"/>
<rect x="590.40" y="221.19" width="3.70" height="2.65" fill="#fec338"/>
<rect x="593.80" y="221.19" width="3.70" height="2.65" fill="#fec03a"/>
<rect x="597.20" y="221.19" width="3.70" height="2.65" fill="#fbbc3d"/>
<rect x="600.60" y="221.19" width="3.70" height="2.65" fill="#f8ba3d"/>
<rect x="604.00" y="221.19" width="3.70" height="2.65" fill="#f4ba39"/>
<rect x="607.40" y="221.19" width="3.70" height="2.65" fill="#f0ba36"/>
<rect x="474.80" y="223.55" width="20.70" height="2.65" fill="#f9fb15"/>
<rect x="495.20" y="223.55" width="10.50" height="2.65" fill="#f8f818"/>
<rect x="505.40" y="223.55" width="10.50" height="2.65" fill="#f7f51b"/>
<rect x="515.60" y="223.55" width="10.50" height="2.65" fill="#f6f21e"/>
<rect x="525.80" y="223.55" width="7.10" height="2.65" fill="#f6ef20"/>
<rect x="532.60" y="223.55" width="7.10" height="2.65" fill="#f5ec22"/>
<rect x="539.40" y="223.55" width="7.10" height="2.65" fill="#f5e924"/>
<rect x="546.20" y="223.55" width="3.70" height="2.65" fill="#f5e626"/>
<rect x="549.60" y="223.55" width="3.70" height="2.65" fill="#f5e327"/>
<rect x="553.00" y="223.55" width="7.10" height="2.65" fill="#f6df29"/>
<rect x="559.80" y="223.55" width="3.70" height="2.65" fill="#f7dc2a"/>
<rect x="563.20" y="223.55" width="3.70" height="2.65" fill="#f8d92b"/>
<rect x="566.60" y="223.55" width="3.70" height="2.65" fill="#fad62d"/>
<rect x="570.00" y="223.55" width="3.70" height="2.65" fill="#fbd32f"/>
<rect x="573.40" y="223.55" width="3.70" height="2.65" fill="#fccf30"/>
<rect x="576.80" y="223.55" width="3.70" height="2.65" fill="#fdcc32"/>
<rect x="580.20" y="223.55" width="3.70" height="2.65" fill="#fec934"/>
<rect x="583.60" y="223.55" width="3.70" height="2.65" fill="#fec636"/>
<rect x="587.00" y="223.55" width="3.70" height="2.65" fill="#fec03a"/>
<rect x="590.40" y="223.55" width="3.70" height="2.65" fill="#febe3c"/>
<rect x="593.80" y="223.55" width="3.70" height="2.65" fill="#fbbc3d"/>
<rect x="597.20" y="223.55" width="3.70" height="2.65" fill="#f8ba3d"/>
<rect x="600.60" y="223.55" width="3.70" height="2.65" fill="#f4ba39"/>
<rect x="604.00" y="223.55" width="3.70" height="2.65" fill="#f0ba36"/>
<rect x="607.40" y="223.55" width="3.70" height="2.65" fill="#ebba31"/>
<rect x="474.80" y="225.91" width="17.30" height="2.65" fill="#f9fb15"/>
<rect x="491.80" y="225.91" width="10.50" height="2.65" fill="#f8f818"/>
<rect x="502.00" y="225.91" width="10.50" height="2.65" fill="#f7f51b"/>
<rect x="512.20" y="225.91" width="10.50" height="2.65" fill="#f6f21e"/>
<rect x="522.40" y="225.91" width="7.10" height="2.65" fill="#f6ef20"/>
<rect x="529.20" y="225.91" width="7.10" height="2.65" fill="#f5ec22"/>
<rect x="536.00" y="225.91" width="3.70" height="2.65" fill="#f5e924"/>
<rect x="539.40" y="225.91" width="7.10" height="2.65" fill="#f5e626"/>
<rect x="546.20" y="225.91" width="3.70" height="2.65" fill="#f5e327"/>
<rect x="549.60" y="225.91" width="3.70" height="2.65" fill="#f6df29"/>
<rect x="553.00" y="225.91" width="7.10" height="2.65" fill="#f7dc2a"/>
<rect x="559.80" y="225.91" width="3.70" height="2.65" fill="#f8d92b"/>
<rect x="563.20" y="225.91" width="3.70" height="2.65" fill="#fad62d"/>
<rect x="566.60" y="225.91" width="3.70" height="2.65" fill="#fbd32f"/>
<rect x="570.00" y="225.91" width="3.70" height="2.65" fill="#fccf30"/>
<rect x="573.40" y="225.91" width="3.70" height="2.65" fill="#fdcc32"/>
<rect x="576.80" y="225.91" width="3.70" height="2.65" fill="#fec636"/>
<rect x="580.20" y="225.91" width="3.70" height="2.65" fill="#fec338"/>
<rect x="583.60" y="225.91" width="3.70" height="2.65" fill="#fec03a"/>
<rect x="587.00" y="225.91" width="3.70" height="2.65" fill="#febe3c"/>
<rect x="590.40" y="225.91" width="3.70" height="2.65" fill="#fbbc3d"/>
<rect x="593.80" y="225.91" width="3.70" height="2.65" fill="#f8ba3d"/>
<rect x="597.20" y="225.91" width="3.70" height="2.65" fill="#f4ba39"/>
<rect x="600.60" y="225.91" width="3.70" height="2.65" fill="#ebba31"/>
<rect x="604.00" y="225.91" width="3.70" height="2.65" fill="#e6bb2d"/>
<rect x="607.40" y="225.91" width="3.70" height="2.65" fill="#e1bc2b"/>
<rect x="474.80" y="228.26" width="10.50" height="2.65" fill="#f9fb15"/>
<rect x="485.00" y="228.26" width="13.90" height="2.65" fill="#f8f818"/>
<rect x="498.60" y="228.26" width="10.50" height="2.65" fill="#f7f51b"/>
<rect x="508.80" y="228.26" width="7.10" height="2.65" fill="#f6f21e"/>
<rect x="515.60" y="228.26" width="7.10" height="2.65" fill="#f6ef20"/>
<rect x="522.40" y="228.26" width="7.10" height="2.65" fill="#f5ec22"/>
<rect x="529.20" y="228.26" width="7.10" height="2.65" fill="#f5e924"/>
<rect x="536.00" y="228.26" width="3.70" height="2.65" fill="#f5e626"/>
<rect x="539.40" y="228.26" width="7.10" height="2.65" fill="#f5e327"/>
<rect x="546.20" y="228.26" width="3.70" height="2.65" fill="#f6df29"/>
<rect x="549.60" y="228.26" width="3.70" height="2.65" fill="#f7dc2a"/>
<rect x="553.00" y="228.26" width="3.70" height="2.65" fill="#f8d92b"/>
<rect x="556.40" y="228.26" width="3.70" height="2.65" fill="#fad62d"/>
<rect x="559.80" y="228.26" width="3.70" height="2.65" fill="#fbd32f"/>
<rect x="563.20" y="228.26" width="3.70" height="2.65" fill="#fccf30"/>
<rect x="566.60" y="228.26" width="3.70" height="2.65" fill="#fdcc32"/>
<rect x="570.00" y="228.26" width="3.70" height="2.65" fill="#fec934"/>
<rect x="573.40" y="228.26" width="3.70" height="2.65" fill="#fec636"/>
<rect x="576.80" y="228.26" width="3.70" height="2.65" fill="#fec338"/>
<rect x="580.20" y="228.26" width="3.70" height="2.65" fill="#febe3c"/>
<rect x="583.60" y="228.26" width="3.70" height="2.65" fill="#fbbc3d"/>
<rect x="587.00" y="228.26" width="3.70" height="2.65" fill="#f8ba3d"/>
<rect x="590.40" y="228.26" width="3.70" height="2.65" fill="#f4ba39"/>
<rect x="593.80" y="228.26" width="3.70" height="2.65" fill="#f0ba36"/>
<rect x="597.20" y="228.26" width="3.70" height="2.65" fill="#ebba31"/>
<rect x="600.60" y="228.26" width="3.70" height="2.65" fill="#e6bb2d"/>
<rect x="604.00" y="228.26" width="3.70" height="2.65" fill="#dcbd29"/>
<rect x="607.40" y="228.26" width="3.70" height="2.65" fill="#d1bf27"/>
<rect x="474.80" y="230.62" width="7.10" height="2.65" fill="#f9fb15"/>
<rect x="481.60" y="230.62" width="10.50" height="2.65" fill="#f8f818"/>
<rect x="491.80" y="230.62" width="10.50" height="2.65" fill="#f7f51b"/>
<rect x="502.00" y="230.62" width="10.50" height="2.65" fill="#f6f21e"/>
<rect x="512.20" y="230.62" width="7.10" height="2.65" fill="#f6ef20"/>
<rect x="519.00" y="230.62" width="7.10" height="2.65" fill="#f5ec22"/>
<rect x="525.80" y="230.62" width="3.70" height="2.65" fill="#f5e924"/>
<rect x="529.20" y="230.62" width="7.10" height="2.65" fill="#f5e626"/>
<rect x="536.00" y="230.62" width="3.70" height="2.65" fill="#f5e327"/>
<rect x="539.40" y="230.62" width="3.70" height="2.65" fill="#f6df29"/>
<rect x="542.80" y="230.62" width="7.10" height="2.65" fill="#f7dc2a"/>
<rect x="549.60" y="230.62" width="3.70" height="2.65" fill="#f8d92b"/>
<rect x="553.00" y="230.62" width="3.70" height="2.65" fill="#fad62d"/>
<rect x="556.40" y="230.62" width="3.70" height="2.65" fill="#fbd32f"/>
<rect x="559.80" y="230.62" width="3.70" height="2.65" fill="#fccf30"/>
<rect x="563.20" y="230.62" width="3.70" height="2.65" fill="#fdcc32"/>
<rect x="566.60" y="230.62" width="3.70" height="2.65" fill="#fec934"/>
<rect x="570.00" y="230.62" width="3.70" height="2.65" fill="#fec338"/>
<rect x="573.40" y="230.62" width="3.70" height="2.65" fill="#fec03a"/>
<rect x="576.80" y="230.62" width="3.70" height="2.65" fill="#febe3c"/>
<rect x="580.20" y="230.62" width="3.70" height="2.65" fill="#fbbc3d"/>
<rect x="583.60" y="230.62" width="3.70" height="2.65" fill="#f8ba3d"/>
<rect x="587.00" y="230.62" width="3.70" height="2.65" fill="#f4ba39"/>
<rect x="590.40" y="230.62" width="3.70" height="2.65" fill="#f0ba36"/>
<rect x="593.80" y="230.62" width="3.70" height="2.65" fill="#e6bb2d"/>
<rect x="597.20" y="230.62" width="3.70" height="2.65" fill="#e1bc2b"/>
<rect x="600.60" y="230.62" width="3.70" height="2.65" fill="#d7be28"/>
<rect x="604.00" y="230.62" width="3.70" height="2.65" fill="#d1bf27"/>
<rect x="607.40" y="230.62" width="3.70" height="2.65" fill="#bfc32d"/>
<rect x="474.80" y="232.97" width="13.90" height="2.65" fill="#f8f818"/>
<rect x="488.40" y="232.97" width="10.50" height="2.65" fill="#f7f51b"/>
<rect x="498.60" y="232.97" width="7.10" height="2.65" fill="#f6f21e"/>
<rect x="505.40" y="232.97" width="7.10" height="2.65" fill="#f6ef20"/>
<rect x="512.20" y="232.97" width="7.10" height="2.65" fill="#f5ec22"/>
<rect x="519.00" y="232.97" width="7.10" height="2.65" fill="#f5e924"/>
<rect x="525.80" y="232.97" width="3.70" height="2.65" fill="#f5e626"/>
<rect x="529.20" y="232.97" width="7.10" height="2.65" fill="#f5e327"/>
<rect x="536.00" y="232.97" width="3.70" height="2.65" fill="#f6df29"/>
<rect x="539.40" y="232.97" width="3.70" height="2.65" fill="#f7dc2a"/>
<rect x="542.80" y="232.97" width="3.70" height="2.65" fill="#f8d92b"/>
<rect x="546.20" y="232.97" width="3.70" height="2.65" fill="#fad62d"/>
<rect x="549.60" y="232.97" width="7.10" height="2.65" fill="#fbd32f"/>
<rect x="556.40" y="232.97" width="3.70" height="2.65" fill="#fdcc32"/>
<rect x="559.80" y="232.97" width="3.70" height="2.65" fill="#fec934"/>
<rect x="563.20" y="232.97" width="3.70" height="2.65" fill="#fec636"/>
<rect x="566.60" y="232.97" width="3.70" height="2.65" fill="#fec338"/>
<rect x="570.00" y="232.97" width="3.70" height="2.65" fill="#febe3c"/>
<rect x="573.40" y="232.97" width="3.70" height="2.65" fill="#fbbc3d"/>
<rect x="576.80" y="232.97" width="3.70" height="2.65" fill="#f8ba3d"/>
<rect x="580.20" y="232.97" width="3.70" height="2.65" fill="#f4ba39"/>
<rect x="583.60" y="232.97" width="3.70" height="2.65" fill="#f0ba36"/>
<rect x="587.00" y="232.97" width="3.70" height="2.65" fill="#ebba31"/>
<rect x="590.40" y="232.97" width="3.70" height="2.65" fill="#e6bb2d"/>
<rect x="593.80" y="232.97" width="3.70" height="2.65" fill="#dcbd29"/>
<rect x="597.20" y="232.97" width="3.70" height="2.65" fill="#d7be28"/>
<rect x="600.60" y="232.97" width="3.70" height="2.65" fill="#cbc029"/>
<rect x="604.00" y="232.97" width="3.70" height="2.65" fill="#bfc32d"/>
<rect x="607.40" y="232.97" width="3.70" height="2.65" fill="#abc739"/>
<rect x="474.80" y="235.32" width="7.10" height="2.65" fill="#f8f818"/>
<rect x="481.60" y="235.32" width="10.50" height="2.65" fill="#f7f51b"/>
<rect x="491.80" y="235.32" width="10.50" height="2.65" fill="#f6f21e"/>
<rect x="502.00" y="235.32" width="7.10" height="2.65" fill="#f6ef20"/>
<rect x="508.80" y="235.32" width="7.10" height="2.65" fill="#f5ec22"/>
<rect x="515.60" y="235.32" width="3.70" height="2.65" fill="#f5e924"/>
<rect x="519.00" y="235.32" width="7.10" height="2.65" fill="#f5e626"/>
<rect x="525.80" y="235.32" width="3.70" height="2.65" fill="#f5e327"/>
<rect x="529.20" y="235.32" width="7.10" height="2.65" fill="#f6df29"/>
<rect x="536.00" y="235.32" width="3.70" height="2.65" fill="#f7dc2a"/>
<rect x="539.40" y="235.32" width="3.70" height="2.65" fill="#f8d92b"/>
<rect x="542.80" y="235.32" width="3.70" height="2.65" fill="#fad62d"/>
<rect x="546.20" y="235.32" width="3.70" height="2.65" fill="#fbd32f"/>
<rect x="549.60" y="235.32" width="3.70" height="2.65" fill="#fccf30"/>
<rect x="553.00" y="235.32" width="3.70" height="2.65" fill="#fdcc32"/>
<rect x="556.40" y="235.32" width="3.70" height="2.65" fill="#fec934"/>
<rect x="559.80" y="235.32" width="3.70" height="2.65" fill="#fec338"/>
<rect x="563.20" y="235.32" width="3.70" height="2.65" fill="#fec03a"/>
<rect x="566.60" y="235.32" width="3.70" height="2.65" fill="#febe3c"/>
<rect x="570.00" y="235.32" width="3.70" height="2.65" fill="#fbbc3d"/>
<rect x="573.40" y="235.32" width="3.70" height="2.65" fill="#f8ba3d"/>
<rect x="576.80" y="235.32" width="3.70" height="2.65" fill="#f4ba39"/>
<rect x="580.20" y="235.32" width="3.70" height="2.65" fill="#f0ba36"/>
<rect x="583.60" y="235.32" width="3.70" height="2.65" fill="#ebba31"/>
<rect x="587.00" y="235.32" width="3.70" height="2.65" fill="#e1bc2b"/>
<rect x="590.40" y="235.32" width="3.70" height="2.65" fill="#dcbd29"/>
<rect x="593.80" y="235.32" width="3.70" height="2.65" fill="#d1bf27"/>
<rect x="597.20" y="235.32" width="3.70" height="2.65" fill="#c5c22a"/>
<rect x="600.60" y="235.32" width="3.70" height="2.65" fill="#b9c431"/>
<rect x="604.00" y="235.32" width="3.70" height="2.65" fill="#a4c83e"/>
<rect x="607.40" y="235.32" width="3.70" height="2.65" fill="#8fcb4e"/>
<rect x="474.80" y="237.68" width="3.70" height="2.65" fill="#f8f818"/>
<rect x="478.20" y="237.68" width="10.50" height="2.65" fill="#f7f51b"/>
<rect x="488.40" y="237.68" width="7.10" height="2.65" fill="#f6f21e"/>
<rect x="495.20" y="237.68" width="10.50" height="2.65" fill="#f6ef20"/>
<rect x="505.40" y="237.68" width="3.70" height="2.65" fill="#f5ec22"/>
<rect x="508.80" y="237.68" width="7.10" height="2.65" fill="#f5e924"/>
<rect x="515.60" y="237.68" width="3.70" height="2.65" fill="#f5e626"/>
<rect x="519.00" y="237.68" width="7.10" height="2.65" fill="#f5e327"/>
<rect x="525.80" y="237.68" width="3.70" height="2.65" fill="#f6df29"/>
<rect x="529.20" y="237.68" width="3.70" height="2.65" fill="#f7dc2a"/>
<rect x="532.60" y="237.68" width="7.10" height="2.65" fill="#f8d92b"/>
<rect x="539.40" y="237.68" width="3.70" height="2.65" fill="#fad62d"/>
<rect x="542.80" y="237.68" width="3.70" height="2.65" fill="#fbd32f"/>
<rect x="546.20" y="237.68" width="3.70" height="2.65" fill="#fccf30"/>
<rect x="549.60" y="237.68" width="3.70" height="2.65" fill="#fec934"/>
<rect x="553.00" y="237.68" width="3.70" height="2.65" fill="#fec636"/>
<rect x="556.40" y="237.68" width="3.70" height="2.65" fill="#fec338"/>
<rect x="559.80" y="237.68" width="3.70" height="2.65" fill="#fec03a"/>
<rect x="563.20" y="237.68" width="3.70" height="2.65" fill="#fbbc3d"/>
<rect x="566.60" y="237.68" width="3.70" height="2.65" fill="#f8ba3d"/>
<rect x="570.00" y="237.68" width="3.70" height="2.65" fill="#f4ba39"/>
<rect x="573.40" y="237.68" width="3.70" height="2.65" fill="#f0ba36"/>
<rect x="576.80" y="237.68" width="3.70" height="2.65" fill="#ebba31"/>
<rect x="580.20" y="237.68" width="3.70" height="2.65" fill="#e6bb2d"/>
<rect x="583.60" y="237.68" width="3.70" height="2.65" fill="#e1bc2b"/>
<rect x="587.00" y="237.68" width="3.70" height="2.65" fill="#d7be28"/>
<rect x="590.40" y="237.68" width="3.70" height="2.65" fill="#cbc029"/>
<rect x="593.80" y="237.68" width="3.70" height="2.65" fill="#bfc32d"/>
<rect x="597.20" y="237.68" width="3.70" height="2.65" fill="#b2c635"/>
<rect x="600.60" y="237.68" width="3.70" height="2.65" fill="#9dc943"/>
<rect x="604.00" y="237.68" width="3.70" height="2.65" fill="#81cc59"/>
<rect x="607.40" y="237.68" width="3.70" height="2.65" fill="#6bcd69"/>
<rect x="474.80" y="240.04" width="7.10" height="2.65" fill="#f7f51b"/>
<rect x="481.60" y="240.04" width="10.50" height="2.65" fill="#f6f21e"/>
<rect x="491.80" y="240.04" width="7.10" height="2.65" fill="#f6ef20"/>
<rect x="498.60" y="240.04" width="7.10" height="2.65" fill="#f5ec22"/>
<rect x="505.40" y="240.04" width="7.10" height="2.65" fill="#f5e924"/>
<rect x="512.20" y="240.04" width="3.70" height="2.65" fill="#f5e626"/>
<rect x="515.60" y="240.04" width="3.70" height="2.65" fill="#f5e327"/>
<rect x="519.00" y="240.04" width="7.10" height="2.65" fill="#f6df29"/>
<rect x="525.80" y="240.04" width="3.70" height="2.65" fill="#f7dc2a"/>
<rect x="529.20" y="240.04" width="3.70" height="2.65" fill="#f8d92b"/>
<rect x="532.60" y="240.04" width="3.70" height="2.65" fill="#fad62d"/>
<rect x="536.00" y="240.04" width="3.70" height="2.65" fill="#fbd32f"/>
<rect x="539.40" y="240.04" width="3.70" height="2.65" fill="#fccf30"/>
<rect x="542.80" y="240.04" width="3.70" height="2.65" fill="#fdcc32"/>
<rect x="546.20" y="240.04" width="3.70" height="2.65" fill="#fec934"/>
<rect x="549.60" y="240.04" width="3.70" height="2.65" fill="#fec636"/>
<rect x="553.00" y="240.04" width="3.70" height="2.65" fill="#fec03a"/>
<rect x="556.40" y="240.04" width="3.70" height="2.65" fill="#febe3c"/>
<rect x="559.80" y="240.04" width="3.70" height="2.65" fill="#fbbc3d"/>
<rect x="563.20" y="240.04" width="3.70" height="2.65" fill="#f8ba3d"/>
<rect x="566.60" y="240.04" width="3.70" height="2.65" fill="#f4ba39"/>
<rect x="570.00" y="240.04" width="3.70" height="2.65" fill="#f0ba36"/>
<rect x="573.40" y="240.04" width="3.70" height="2.65" fill="#ebba31"/>
<rect x="576.80" y="240.04" width="3.70" height="2.65" fill="#e1bc2b"/>
<rect x="580.20" y="240.04" width="3.70" height="2.65" fill="#dcbd29"/>
<rect x="583.60" y="240.04" width="3.70" height="2.65" fill="#d1bf27"/>
<rect x="587.00" y="240.04" width="3.70" height="2.65" fill="#c5c22a"/>
<rect x="590.40" y="240.04" width="3.70" height="2.65" fill="#b9c431"/>
<rect x="593.80" y="240.04" width="3.70" height="2.65" fill="#a4c83e"/>
<rect x="597.20" y="240.04" width="3.70" height="2.65" fill="#8fcb4e"/>
<rect x="600.60" y="240.04" width="3.70" height="2.65" fill="#79cc5e"/>
<rect x="604.00" y="240.04" width="3.70" height="2.65" fill="#64cd6f"/>
<rect x="607.40" y="240.04" width="3.70" height="2.65" fill="#50cc7f"/>
<rect x="474.80" y="242.39" width="3.70" height="2.65" fill="#f7f51b"/>
<rect x="478.20" y="242.39" width="10.50" height="2.65" fill="#f6f21e"/>
<rect x="488.40" y="242.39" width="7.10" height="2.65" fill="#f6ef20"/>
<rect x="495.20" y="242.39" width="7.10" height="2.65" fill="#f5ec22"/>
<rect x="502.00" y="242.39" width="3.70" height="2.65" fill="#f5e924"/>
<rect x="505.40" y="242.39" width="7.10" height="2.65" fill="#f5e626"/>
<rect x="512.20" y="242.39" width="3.70" height="2.65" fill="#f5e327"/>
<rect x="515.60" y="242.39" width="3.70" height="2.65" fill="#f6df29"/>
<rect x="519.00" y="242.39" width="7.10" height="2.65" fill="#f7dc2a"/>
<rect x="525.80" y="242.39" width="3.70" height="2.65" fill="#f8d92b"/>
<rect x="529.20" y="242.39" width="3.70" height="2.65" fill="#fad62d"/>
<rect x="532.60" y="242.39" width="3.70" height="2.65" fill="#fbd32f"/>
<rect x="536.00" y="242.39" width="3.70" height="2.65" fill="#fccf30"/>
<rect x="539.40" y="242.39" width="3.70" height="2.65" fill="#fdcc32"/>
<rect x="542.80" y="242.39" width="3.70" height="2.65" fill="#fec636"/>
<rect x="546.20" y="242.39" width="3.70" height="2.65" fill="#fec338"/>
<rect x="549.60" y="242.39" width="3.70" height="2.65" fill="#fec03a"/>
<rect x="553.00" y="242.39" width="3.70" height="2.65" fill="#febe3c"/>
<rect x="556.40" y="242.39" width="3.70" height="2.65" fill="#fbbc3d"/>
<rect x="559.80" y="242.39" width="3.70" height="2.65" fill="#f8ba3d"/>
<rect x="563.20" y="242.39" width="3.70" height="2.65" fill="#f4ba39"/>
<rect x="566.60" y="242.39" width="3.70" height="2.65" fill="#ebba31"/>
<rect x="570.00" y="242.39" width="3.70" height="2.65" fill="#e6bb2d"/>
<rect x="573.40" y="242.39" width="3.70" height="2.65" fill="#e1bc2b"/>
<rect x="576.80" y="242.39" width="3.70" height="2.65" fill="#d7be28"/>
<rect x="580.20" y="242.39" width="3.70" height="2.65" fill="#cbc029"/>
<rect x="583.60" y="242.39" width="3.70" height="2.65" fill="#bfc32d"/>
<rect x="587.00" y="242.39" width="3.70" height="2.65" fill="#b2c635"/>
<rect x="590.40" y="242.39" width="3.70" height="2.65" fill="#9dc943"/>
<rect x="593.80" y="242.39" width="3.70" height="2.65" fill="#88cb53"/>
<rect x="597.20" y="242.39" width="3.70" height="2.65" fill="#72cd64"/>
<rect x="600.60" y="242.39" width="3.70" height="2.65" fill="#57cc7a"/>
<rect x="604.00" y="242.39" width="3.70" height="2.65" fill="#45cb89"/>
<rect x="607.40" y="242.39" width="3.70" height="2.65" fill="#3bc992"/>
<rect x="474.80" y="244.75" width="7.10" height="2.65" fill="#f6f21e"/>
<rect x="481.60" y="244.75" width="7.10" height="2.65" fill="#f6ef20"/>
<rect x="488.40" y="244.75" width="7.10" height="2.65" fill="#f5ec22"/>
<rect x="495.20" y="244.75" width="7.10" height="2.65" fill="#f5e924"/>
<rect x="502.00" y="244.75" width="3.70" height="2.65" fill="#f5e626"/>
<rect x="505.40" y="244.75" width="7.10" height="2.65" fill="#f5e327"/>
<rect x="512.20" y="244.75" width="3.70" height="2.65" fill="#f6df29"/>
<rect x="515.60" y="244.75" width="3.70" height="2.65" fill="#f7dc2a"/>
<rect x="519.00" y="244.75" width="3.70" height="2.65" fill="#f8d92b"/>
<rect x="522.40" y="244.75" width="3.70" height="2.65" fill="#fad62d"/>
<rect x="525.80" y="244.75" width="3.70" height="2.65" fill="#fbd32f"/>
<rect x="529.20" y="244.75" width="3.70" height="2.65" fill="#fccf30"/>
<rect x="532.60" y="244.75" width="3.70" height="2.65" fill="#fdcc32"/>
<rect x="536.00" y="244.75" width="3.70" height="2.65" fill="#fec934"/>
<rect x="539.40" y="244.75" width="3.70" height="2.65" fill="#fec636"/>
<rect x="542.80" y="244.75" width="3.70" height="2.65" fill="#fec338"/>
<rect x="546.20" y="244.75" width="3.70" height="2.65" fill="#febe3c"/>
<rect x="549.60" y="244.75" width="3.70" height="2.65" fill="#fbbc3d"/>
<rect x="553.00" y="244.75" width="3.70" height="2.65" fill="#f8ba3d"/>
<rect x="556.40" y="244.75" width="3.70" height="2.65" fill="#f4ba39"/>
<rect x="559.80" y="244.75" width="3.70" height="2.65" fill="#f0ba36"/>
<rect x="563.20" y="244.75" width="3.70" height="2.65" fill="#ebba31"/>
<rect x="566.60" y="244.75" width="3.70" height="2.65" fill="#e6bb2d"/>
<rect x="570.00" y="244.75" width="3.70" height="2.65" fill="#dcbd29"/>
<rect x="573.40" y="244.75" width="3.70" height="2.65" fill="#d1bf27"/>
<rect x="576.80" y="244.75" width="3.70" height="2.65" fill="#c5c22a"/>
<rect x="580.20" y="244.75" width="3.70" height="2.65" fill="#b9c431"/>
<rect x="583.60" y="244.75" width="3.70" height="2.65" fill="#abc739"/>
<rect x="587.00" y="244.75" width="3.70" height="2.65" fill="#96ca48"/>
<rect x="590.40" y="244.75" width="3.70" height="2.65" fill="#79cc5e"/>
<rect x="593.80" y="244.75" width="3.70" height="2.65" fill="#64cd6f"/>
<rect x="597.20" y="244.75" width="3.70" height="2.65" fill="#50cc7f"/>
<rect x="600.60" y="244.75" width="3.70" height="2.65" fill="#3fca8e"/>
<rect x="604.00" y="244.75" width="3.70" height="2.65" fill="#34c79b"/>
<rect x="607.40" y="244.75" width="3.70" height="2.65" fill="#2fc5a3"/>
</g>
<defs><linearGradient id="cb" x1="0" y1="1" x2="0" y2="0">
<stop offset="0.0000" stop-color="#3e26a8"/>
<stop offset="0.0159" stop-color="#402ab4"/>
<stop offset="0.0317" stop-color="#422ec0"/>
<stop offset="0.0476" stop-color="#4332cb"/>
<stop offset="0.0635" stop-color="#4537d5"/>
<stop offset="0.0794" stop-color="#463cde"/>
<stop offset="0.0952" stop-color="#4741e5"/>
<stop offset="0.1111" stop-color="#4747eb"/>
<stop offset="0.1270" stop-color="#484df0"/>
<stop offset="0.1429" stop-color="#4852f4"/>
<stop offset="0.1587" stop-color="#4758f8"/>
<stop offset="0.1746" stop-color="#465efb"/>
<stop offset="0.1905" stop-color="#4563fd"/>
<stop offset="0.2063" stop-color="#4269fe"/>
<stop offset="0.2222" stop-color="#3e6fff"/>
<stop offset="0.2381" stop-color="#3875fe"/>
<stop offset="0.2540" stop-color="#327cfc"/>
<stop offset="0.2698" stop-color="#2f81fa"/>
<stop offset="0.2857" stop-color="#2e87f7"/>
<stop offset="0.3016" stop-color="#2d8cf3"/>
<stop offset="0.3175" stop-color="#2b91ef"/>
<stop offset="0.3333" stop-color="#2797eb"/>
<stop offset="0.3492" stop-color="#259be8"/>
<stop offset="0.3651" stop-color="#23a0e5"/>
<stop offset="0.3810" stop-color="#20a5e3"/>
<stop offset="0.3968" stop-color="#1ca9df"/>
<stop offset="0.4127" stop-color="#18addb"/>
<stop offset="0.4286" stop-color="#12b1d6"/>
<stop offset="0.4444" stop-color="#08b5d0"/>
<stop offset="0.4603" stop-color="#01b8ca"/>
<stop offset="0.4762" stop-color="#02bac3"/>
<stop offset="0.4921" stop-color="#0bbdbd"/>
<stop offset="0.5079" stop-color="#19bfb6"/>
<stop offset="0.5238" stop-color="#24c1ae"/>
<stop offset="0.5397" stop-color="#2cc4a7"/>
<stop offset="0.5556" stop-color="#31c69f"/>
<stop offset="0.5714" stop-color="#37c897"/>
<stop offset="0.5873" stop-color="#3fca8e"/>
<stop offset="0.6032" stop-color="#4acb84"/>
<stop offset="0.6190" stop-color="#57cc7a"/>
<stop offset="0.6349" stop-color="#64cd6f"/>
<stop offset="0.6508" stop-color="#72cd64"/>
<stop offset="0.6667" stop-color="#81cc59"/>
<stop offset="0.6825" stop-color="#8fcb4e"/>
<stop offset="0.6984" stop-color="#9dc943"/>
<stop offset="0.7143" stop-color="#abc739"/>
<stop offset="0.7302" stop-color="#b9c431"/>
<stop offset="0.7460" stop-color="#c5c22a"/>
<stop offset="0.7619" stop-color="#d1bf27"/>
<stop offset="0.7778" stop-color="#dcbd29"/>
<stop offset="0.7937" stop-color="#e6bb2d"/>
<stop offset="0.8095" stop-color="#f0ba36"/>
<stop offset="0.8254" stop-color="#f8ba3d"/>
<stop offset="0.8413" stop-color="#febe3c"/>
<stop offset="0.8571" stop-color="#fec338"/>
<stop offset="0.8730" stop-color="#fec934"/>
<stop offset="0.8889" stop-color="#fccf30"/>
<stop offset="0.9048" stop-color="#fad62d"/>
<stop offset="0.9206" stop-color="#f7dc2a"/>
<stop offset="0.9365" stop-color="#f5e327"/>
<stop offset="0.9524" stop-color="#f5e924"/>
<stop offset="0.9683" stop-color="#f6ef20"/>
<stop offset="0.9841" stop-color="#f7f51b"/>
<stop offset="1.0000" stop-color="#f9fb15"/>
</linearGradient></defs>
<rect x="616.0" y="153.0" width="13.7" height="94.2" fill="url(#cb)"/>
<g fill="none" stroke="#3a3a3a" stroke-width="0.7">
<rect x="333.2" y="50.1" width="136.0" height="96.3"/>
<rect x="474.8" y="50.1" width="136.0" height="96.3"/>
<rect x="333.2" y="152.9" width="136.0" height="94.2"/>
<rect x="474.8" y="152.9" width="136.0" height="94.2"/>
<rect x="616.0" y="153.0" width="13.7" height="94.2"/>
</g>
<path d="M377.2,152.9v1.7 M377.2,247.1v-1.7 M422.1,152.9v1.7 M422.1,247.1v-1.7 M466.8,152.9v1.7 M466.8,247.1v-1.7 M333.2,154.1h1.7 M469.2,154.1h-1.7 M333.2,185.3h1.7 M469.2,185.3h-1.7 M333.2,216.5h1.7 M469.2,216.5h-1.7 M518.8,152.9v1.7 M518.8,247.1v-1.7 M563.7,152.9v1.7 M563.7,247.1v-1.7 M608.4,152.9v1.7 M608.4,247.1v-1.7 M474.8,154.1h1.7 M610.8,154.1h-1.7 M474.8,185.3h1.7 M610.8,185.3h-1.7 M474.8,216.5h1.7 M610.8,216.5h-1.7 M629.7,154.8h-1.7 M629.7,183.1h-1.7 M629.7,211.8h-1.7 M629.7,240.1h-1.7" fill="none" stroke="#262626" stroke-width="0.8"/>
<text transform="translate(328.8,58.0) scale(0.94,1)" text-anchor="end" >2.0</text>
<text transform="translate(328.8,89.8) scale(0.94,1)" text-anchor="end" >1.5</text>
<text transform="translate(328.8,122.0) scale(0.94,1)" text-anchor="end" >1.0</text>
<text transform="translate(328.8,159.9) scale(0.94,1)" text-anchor="end" >2.0</text>
<text transform="translate(328.8,191.1) scale(0.94,1)" text-anchor="end" >1.5</text>
<text transform="translate(328.8,222.2) scale(0.94,1)" text-anchor="end" >1.0</text>
<text transform="translate(377.0,265.0) scale(0.94,1)" text-anchor="middle" >0.1</text>
<text transform="translate(421.8,265.0) scale(0.94,1)" text-anchor="middle" >0.15</text>
<text transform="translate(466.8,265.0) scale(0.94,1)" text-anchor="middle" >0.2</text>
<text transform="translate(392.0,283.0) scale(0.94,1)" text-anchor="middle"><tspan font-style="italic">r</tspan><tspan font-size="10.1px" dy="4.3">sev</tspan></text>
<text transform="translate(518.6,265.0) scale(0.94,1)" text-anchor="middle" >0.1</text>
<text transform="translate(563.4,265.0) scale(0.94,1)" text-anchor="middle" >0.15</text>
<text transform="translate(608.4,265.0) scale(0.94,1)" text-anchor="middle" >0.2</text>
<text transform="translate(533.6,283.0) scale(0.94,1)" text-anchor="middle"><tspan font-style="italic">r</tspan><tspan font-size="10.1px" dy="4.3">sev</tspan></text>
<text transform="translate(298.8,99.0) scale(0.94,1) rotate(-90)" text-anchor="middle"><tspan font-style="italic">r</tspan><tspan font-size="10.1px" dy="4.3">H</tspan></text>
<text transform="translate(298.8,202.0) scale(0.94,1) rotate(-90)" text-anchor="middle"><tspan font-style="italic">r</tspan><tspan font-size="10.1px" dy="4.3">H</tspan></text>
<text transform="translate(635.7,160.4) scale(0.94,1)" text-anchor="start" >0.20</text>
<text transform="translate(635.7,188.9) scale(0.94,1)" text-anchor="start" >0.15</text>
<text transform="translate(635.7,217.6) scale(0.94,1)" text-anchor="start" >0.10</text>
<text transform="translate(635.7,245.9) scale(0.94,1)" text-anchor="start" >0.05</text>
<text transform="translate(337.5,64.9) scale(0.94,1)" font-size="15.1px">(<tspan font-style="italic">a</tspan><tspan dx="0">)</tspan></text>
<text transform="translate(479.1,64.9) scale(0.94,1)" font-size="15.1px">(<tspan font-style="italic">b</tspan><tspan dx="0">)</tspan></text>
<text transform="translate(337.5,167.7) scale(0.94,1)" font-size="15.1px">(<tspan font-style="italic">c</tspan><tspan dx="0">)</tspan></text>
<text transform="translate(479.1,167.7) scale(0.94,1)" font-size="15.1px">(<tspan font-style="italic">d</tspan><tspan dx="1.6">)</tspan></text>
</svg>
</body></html>
